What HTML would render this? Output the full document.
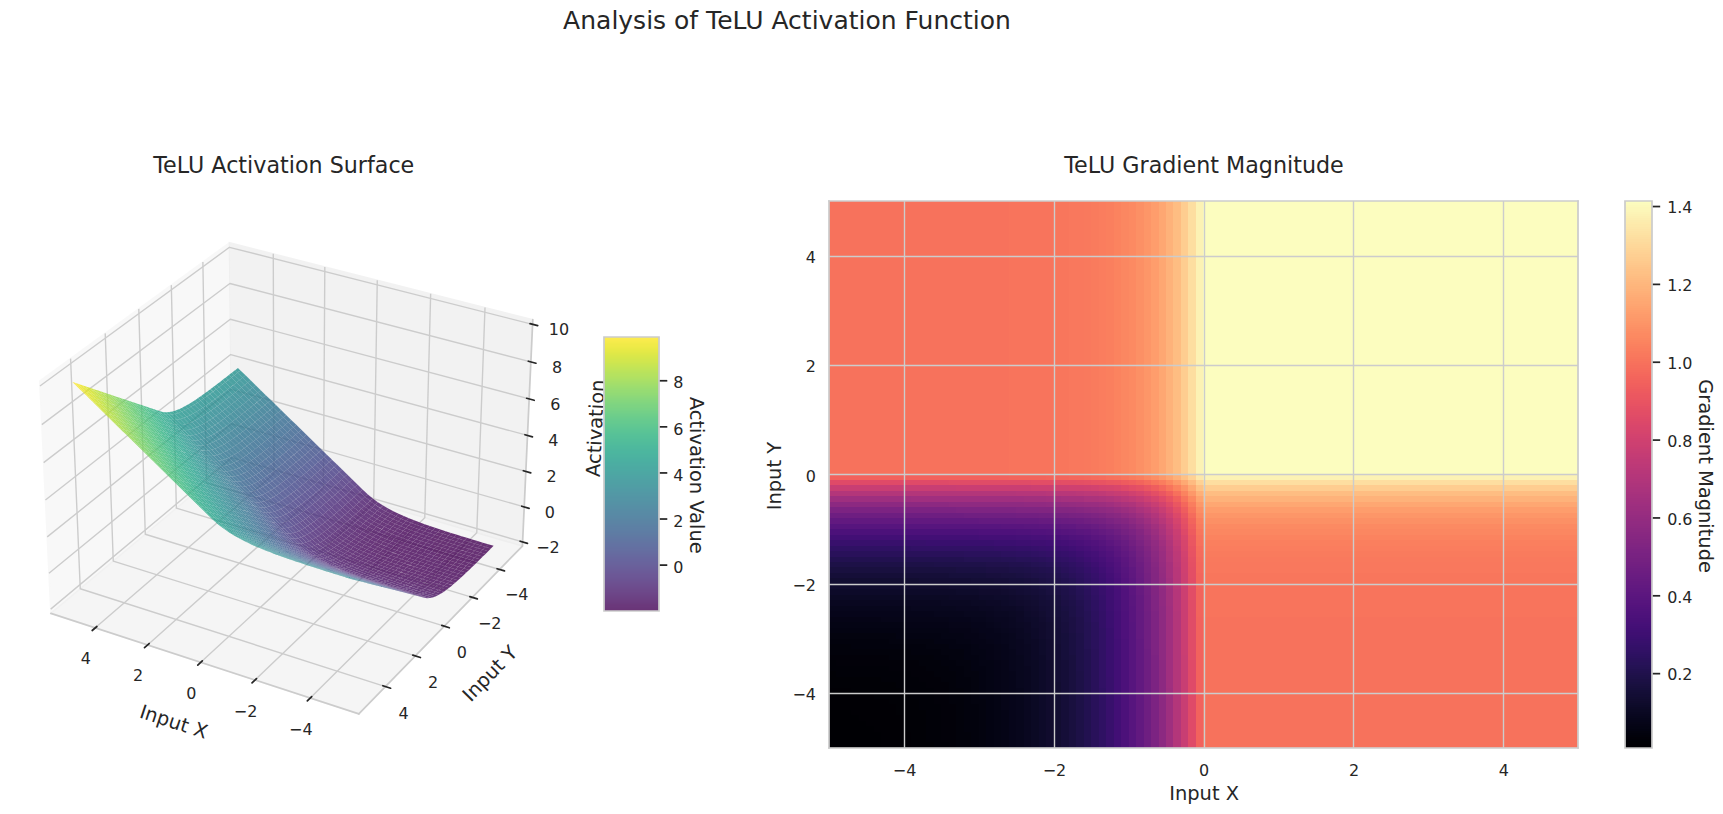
<!DOCTYPE html>
<html lang="en"><head><meta charset="utf-8"><title>Analysis of TeLU Activation Function</title>
<style>
html,body{margin:0;padding:0;background:#fff}
body{width:1723px;height:814px;overflow:hidden}
svg{display:block}
svg text{font-family:"DejaVu Sans","Liberation Sans",sans-serif}
</style></head><body>
<svg width="1723" height="814" viewBox="0 0 1240.56 586.08">
<defs>
<style type="text/css">*{stroke-linejoin: round; stroke-linecap: butt}</style>
</defs>
<g id="figure_1">
<g id="patch_1">
<path d="M 0 586.08 L 1240.56 586.08 L 1240.56 0 L 0 0 z
" style="fill: #ffffff"/>
</g>
<g id="patch_2">
<path d="M 6.84 538.92 L 401.544 538.92 L 401.544 144.216 L 6.84 144.216 z
" style="fill: #ffffff"/>
</g>
<g id="pane3d_1">
<g id="patch_3">
<path d="M 166.987 332.341 L 36.642 441.598 L 28.593 274.444 L 165.175 174.773 
" style="fill: #f2f2f2; opacity: 0.5; stroke: #f2f2f2; stroke-linejoin: miter"/>
</g>
</g>
<g id="pane3d_2">
<g id="patch_4">
<path d="M 376.142 393.134 L 166.987 332.341 L 165.175 174.773 L 383.606 230.139 
" style="fill: #e6e6e6; opacity: 0.5; stroke: #e6e6e6; stroke-linejoin: miter"/>
</g>
</g>
<g id="pane3d_3">
<g id="patch_5">
<path d="M 376.142 393.134 L 166.987 332.341 L 36.642 441.598 L 258.358 514.010 
" style="fill: #ececec; opacity: 0.5; stroke: #ececec; stroke-linejoin: miter"/>
</g>
</g>
<g id="grid3d_1">
<g id="Line3DCollection_1">
<path d="M 223.373 502.584 L 343.262 383.577 L 349.206 221.420 
" style="fill: none; stroke: #cccccc"/>
<path d="M 183.609 489.598 L 305.834 372.699 L 310.077 211.502 
" style="fill: none; stroke: #cccccc"/>
<path d="M 144.578 476.850 L 269.038 362.003 L 271.637 201.758 
" style="fill: none; stroke: #cccccc"/>
<path d="M 106.258 464.335 L 232.857 351.487 L 233.867 192.184 
" style="fill: none; stroke: #cccccc"/>
<path d="M 68.630 452.045 L 197.277 341.145 L 196.751 182.777 
" style="fill: none; stroke: #cccccc"/>
</g>
</g>
<g id="grid3d_2">
<g id="Line3DCollection_2">
<path d="M 146.073 188.712 L 148.698 347.671 L 359.679 410.030 
" style="fill: none; stroke: #cccccc"/>
<path d="M 123.351 205.294 L 126.967 365.886 L 340.090 430.133 
" style="fill: none; stroke: #cccccc"/>
<path d="M 99.922 222.391 L 104.590 384.643 L 319.888 450.865 
" style="fill: none; stroke: #cccccc"/>
<path d="M 75.754 240.028 L 81.538 403.966 L 299.045 472.255 
" style="fill: none; stroke: #cccccc"/>
<path d="M 50.811 258.230 L 57.779 423.881 L 277.528 494.337 
" style="fill: none; stroke: #cccccc"/>
</g>
</g>
<g id="grid3d_3">
<g id="Line3DCollection_3">
<path d="M 376.278 390.180 L 166.954 329.479 L 36.497 438.574 
" style="fill: none; stroke: #cccccc"/>
<path d="M 377.432 364.977 L 166.673 305.074 L 35.254 412.763 
" style="fill: none; stroke: #cccccc"/>
<path d="M 378.602 339.423 L 166.389 280.345 L 33.993 386.579 
" style="fill: none; stroke: #cccccc"/>
<path d="M 379.789 313.510 L 166.100 255.285 L 32.714 360.013 
" style="fill: none; stroke: #cccccc"/>
<path d="M 380.992 287.231 L 165.808 229.888 L 31.415 333.057 
" style="fill: none; stroke: #cccccc"/>
<path d="M 382.213 260.577 L 165.512 204.147 L 30.098 305.702 
" style="fill: none; stroke: #cccccc"/>
<path d="M 383.451 233.542 L 165.212 178.056 L 28.761 277.940 
" style="fill: none; stroke: #cccccc"/>
</g>
</g>
<g id="axis3d_1">
<g id="line2d_1">
<path d="M 36.642 441.598 L 258.358 514.010 
" style="fill: none; stroke: #cccccc; stroke-width: 1.25; stroke-linecap: round"/>
</g>
<g id="xtick_1">
<g id="line2d_2">
<path d="M 209.525 336.234 
" clip-path="url(#p4d084fb998)" style="fill: none; stroke: #cccccc; stroke-linecap: round"/>
</g>
<g id="line2d_3">
<path d="M 224.420 501.544 L 221.273 504.669 
" style="fill: none; stroke: #262626; stroke-width: 1.25; stroke-linecap: round"/>
</g>
<g id="text_1" transform="translate(.65 1.87)">
<text style="font-size: 11.5px; text-anchor: middle; fill: #262626" x="215.987" y="527.446">−4</text>
</g>
</g>
<g id="xtick_2">
<g id="line2d_4">
<path d="M 209.525 336.234 
" clip-path="url(#p4d084fb998)" style="fill: none; stroke: #cccccc; stroke-linecap: round"/>
</g>
<g id="line2d_5">
<path d="M 184.676 488.577 L 181.470 491.643 
" style="fill: none; stroke: #262626; stroke-width: 1.25; stroke-linecap: round"/>
</g>
<g id="text_2" transform="translate(.65 1.87)">
<text style="font-size: 11.5px; text-anchor: middle; fill: #262626" x="176.189" y="514.272">−2</text>
</g>
</g>
<g id="xtick_3">
<g id="line2d_6">
<path d="M 209.525 336.234 
" clip-path="url(#p4d084fb998)" style="fill: none; stroke: #cccccc; stroke-linecap: round"/>
</g>
<g id="line2d_7">
<path d="M 145.663 475.848 L 142.401 478.858 
" style="fill: none; stroke: #262626; stroke-width: 1.25; stroke-linecap: round"/>
</g>
<g id="text_3" transform="translate(.65 1.87)">
<text style="font-size: 11.5px; text-anchor: middle; fill: #262626" x="137.126" y="501.341">0</text>
</g>
</g>
<g id="xtick_4">
<g id="line2d_8">
<path d="M 209.525 336.234 
" clip-path="url(#p4d084fb998)" style="fill: none; stroke: #cccccc; stroke-linecap: round"/>
</g>
<g id="line2d_9">
<path d="M 107.361 463.351 L 104.046 466.306 
" style="fill: none; stroke: #262626; stroke-width: 1.25; stroke-linecap: round"/>
</g>
<g id="text_4" transform="translate(.65 1.87)">
<text style="font-size: 11.5px; text-anchor: middle; fill: #262626" x="98.777" y="488.646">2</text>
</g>
</g>
<g id="xtick_5">
<g id="line2d_10">
<path d="M 209.525 336.234 
" clip-path="url(#p4d084fb998)" style="fill: none; stroke: #cccccc; stroke-linecap: round"/>
</g>
<g id="line2d_11">
<path d="M 69.751 451.079 L 66.384 453.982 
" style="fill: none; stroke: #262626; stroke-width: 1.25; stroke-linecap: round"/>
</g>
<g id="text_5" transform="translate(.65 1.87)">
<text style="font-size: 11.5px; text-anchor: middle; fill: #262626" x="61.123" y="476.182">4</text>
</g>
</g>
<g id="text_6" transform="translate(.36 0)">
<text style="font-size: 14px; text-anchor: middle; fill: #262626" x="123.204" y="524.200" transform="rotate(-341.912 123.204 524.200)">Input X</text>
</g>
</g>
<g id="axis3d_2">
<g id="line2d_12">
<path d="M 376.142 393.134 L 258.358 514.010 
" style="fill: none; stroke: #cccccc; stroke-width: 1.25; stroke-linecap: round"/>
</g>
<g id="xtick_6">
<g id="line2d_13">
<path d="M 209.525 336.234 
" clip-path="url(#p4d084fb998)" style="fill: none; stroke: #cccccc; stroke-linecap: round"/>
</g>
<g id="line2d_14">
<path d="M 357.907 409.506 L 363.227 411.079 
" style="fill: none; stroke: #262626; stroke-width: 1.25; stroke-linecap: round"/>
</g>
<g id="text_7" transform="translate(.29 1.44)">
<text style="font-size: 11.5px; text-anchor: middle; fill: #262626" x="371.713" y="430.857">−4</text>
</g>
</g>
<g id="xtick_7">
<g id="line2d_15">
<path d="M 209.525 336.234 
" clip-path="url(#p4d084fb998)" style="fill: none; stroke: #cccccc; stroke-linecap: round"/>
</g>
<g id="line2d_16">
<path d="M 338.299 429.593 L 343.676 431.214 
" style="fill: none; stroke: #262626; stroke-width: 1.25; stroke-linecap: round"/>
</g>
<g id="text_8" transform="translate(.29 1.44)">
<text style="font-size: 11.5px; text-anchor: middle; fill: #262626" x="352.302" y="451.160">−2</text>
</g>
</g>
<g id="xtick_8">
<g id="line2d_17">
<path d="M 209.525 336.234 
" clip-path="url(#p4d084fb998)" style="fill: none; stroke: #cccccc; stroke-linecap: round"/>
</g>
<g id="line2d_18">
<path d="M 318.078 450.308 L 323.514 451.980 
" style="fill: none; stroke: #262626; stroke-width: 1.25; stroke-linecap: round"/>
</g>
<g id="text_9" transform="translate(.29 1.44)">
<text style="font-size: 11.5px; text-anchor: middle; fill: #262626" x="332.283" y="472.098">0</text>
</g>
</g>
<g id="xtick_9">
<g id="line2d_19">
<path d="M 209.525 336.234 
" clip-path="url(#p4d084fb998)" style="fill: none; stroke: #cccccc; stroke-linecap: round"/>
</g>
<g id="line2d_20">
<path d="M 297.214 471.681 L 302.711 473.406 
" style="fill: none; stroke: #262626; stroke-width: 1.25; stroke-linecap: round"/>
</g>
<g id="text_10" transform="translate(.29 1.44)">
<text style="font-size: 11.5px; text-anchor: middle; fill: #262626" x="311.629" y="493.701">2</text>
</g>
</g>
<g id="xtick_10">
<g id="line2d_21">
<path d="M 209.525 336.234 
" clip-path="url(#p4d084fb998)" style="fill: none; stroke: #cccccc; stroke-linecap: round"/>
</g>
<g id="line2d_22">
<path d="M 275.677 493.743 L 281.235 495.525 
" style="fill: none; stroke: #262626; stroke-width: 1.25; stroke-linecap: round"/>
</g>
<g id="text_11" transform="translate(.29 1.44)">
<text style="font-size: 11.5px; text-anchor: middle; fill: #262626" x="290.307" y="516.003">4</text>
</g>
</g>
<g id="text_12">
<text style="font-size: 14px; text-anchor: middle; fill: #262626" x="356.090" y="488.289" transform="rotate(-45.742 356.090 488.289)">Input Y</text>
</g>
</g>
<g id="axis3d_3">
<g id="line2d_23">
<path d="M 376.142 393.134 L 383.606 230.139 
" style="fill: none; stroke: #cccccc; stroke-width: 1.25; stroke-linecap: round"/>
</g>
<g id="xtick_11">
<g id="line2d_24">
<path d="M 209.525 336.234 
" style="fill: none; stroke: #cccccc; stroke-linecap: round"/>
</g>
<g id="line2d_25">
<path d="M 374.521 389.671 L 379.796 391.200 
" style="fill: none; stroke: #262626; stroke-width: 1.25; stroke-linecap: round"/>
</g>
<g id="text_13" transform="translate(0 1.94)">
<text style="font-size: 11.5px; text-anchor: middle; fill: #262626" x="394.559" y="395.935">−2</text>
</g>
</g>
<g id="xtick_12">
<g id="line2d_26">
<path d="M 209.525 336.234 
" style="fill: none; stroke: #cccccc; stroke-linecap: round"/>
</g>
<g id="line2d_27">
<path d="M 375.662 364.474 L 380.975 365.984 
" style="fill: none; stroke: #262626; stroke-width: 1.25; stroke-linecap: round"/>
</g>
<g id="text_14" transform="translate(0 1.94)">
<text style="font-size: 11.5px; text-anchor: middle; fill: #262626" x="395.837" y="370.765">0</text>
</g>
</g>
<g id="xtick_13">
<g id="line2d_28">
<path d="M 209.525 336.234 
" style="fill: none; stroke: #cccccc; stroke-linecap: round"/>
</g>
<g id="line2d_29">
<path d="M 376.820 338.927 L 382.171 340.417 
" style="fill: none; stroke: #262626; stroke-width: 1.25; stroke-linecap: round"/>
</g>
<g id="text_15" transform="translate(0 1.94)">
<text style="font-size: 11.5px; text-anchor: middle; fill: #262626" x="397.133" y="345.246">2</text>
</g>
</g>
<g id="xtick_14">
<g id="line2d_30">
<path d="M 209.525 336.234 
" style="fill: none; stroke: #cccccc; stroke-linecap: round"/>
</g>
<g id="line2d_31">
<path d="M 377.993 313.021 L 383.384 314.490 
" style="fill: none; stroke: #262626; stroke-width: 1.25; stroke-linecap: round"/>
</g>
<g id="text_16" transform="translate(0 1.94)">
<text style="font-size: 11.5px; text-anchor: middle; fill: #262626" x="398.446" y="319.369">4</text>
</g>
</g>
<g id="xtick_15">
<g id="line2d_32">
<path d="M 209.525 336.234 
" style="fill: none; stroke: #cccccc; stroke-linecap: round"/>
</g>
<g id="line2d_33">
<path d="M 379.184 286.749 L 384.613 288.196 
" style="fill: none; stroke: #262626; stroke-width: 1.25; stroke-linecap: round"/>
</g>
<g id="text_17" transform="translate(0 1.94)">
<text style="font-size: 11.5px; text-anchor: middle; fill: #262626" x="399.779" y="293.126">6</text>
</g>
</g>
<g id="xtick_16">
<g id="line2d_34">
<path d="M 209.525 336.234 
" style="fill: none; stroke: #cccccc; stroke-linecap: round"/>
</g>
<g id="line2d_35">
<path d="M 380.391 260.103 L 385.861 261.527 
" style="fill: none; stroke: #262626; stroke-width: 1.25; stroke-linecap: round"/>
</g>
<g id="text_18" transform="translate(0 1.94)">
<text style="font-size: 11.5px; text-anchor: middle; fill: #262626" x="401.130" y="266.511">8</text>
</g>
</g>
<g id="xtick_17">
<g id="line2d_36">
<path d="M 209.525 336.234 
" style="fill: none; stroke: #cccccc; stroke-linecap: round"/>
</g>
<g id="line2d_37">
<path d="M 381.615 233.075 L 387.126 234.476 
" style="fill: none; stroke: #262626; stroke-width: 1.25; stroke-linecap: round"/>
</g>
<g id="text_19" transform="translate(0 1.94)">
<text style="font-size: 11.5px; text-anchor: middle; fill: #262626" x="402.501" y="239.516">10</text>
</g>
</g>
<g id="text_20" transform="translate(-.29 1.66)">
<text style="font-size: 14px; text-anchor: middle; fill: #262626" x="433.772" y="306.884" transform="rotate(-87.378 433.772 306.884)">Activation</text>
</g>
</g>
<g id="axes_1">
<g id="surface" fill-opacity="0.8" clip-path="url(#p4d084fb998)">
<path fill="#21908d" d="M173.13 266.7l-1.82-1.78l-1.09 .85l-1.08 .85l1.82 1.78l1.09-.85z"/>
<path fill="#228d8d" d="M176.78 270.25l-3.65-3.55l-2.17 1.7l3.66 3.57z"/>
<path fill="#23898e" d="M180.43 273.81l-3.65-3.56l-2.16 1.72l3.65 3.56z"/>
<path fill="#25858e" d="M184.08 277.37l-3.65-3.56l-2.16 1.72l3.66 3.57z"/>
<path fill="#26818e" d="M187.73 280.94l-3.65-3.57l-2.15 1.73l3.65 3.56z"/>
<path fill="#287d8e" d="M191.38 284.5l-3.65-3.56l-2.15 1.72l3.66 3.57z"/>
<path fill="#2a788e" d="M195.04 288.06l-3.66-3.56l-2.14 1.73l3.66 3.57z"/>
<path fill="#2b748e" d="M198.69 291.63l-3.65-3.57l-2.14 1.74l3.66 3.57z"/>
<path fill="#2d718e" d="M202.35 295.2l-3.66-3.57l-2.13 1.74l3.67 3.58z"/>
<path fill="#21918c" d="M170.96 268.4l-1.82-1.78l-1.09 .85l-1.09 .86l1.83 1.78l1.09-.85z"/>
<path fill="#2f6c8e" d="M206.01 298.76l-3.66-3.56l-2.12 1.75l3.66 3.57z"/>
<path fill="#228d8d" d="M174.62 271.97l-3.66-3.57l-2.17 1.71l3.66 3.57z"/>
<path fill="#31688e" d="M209.67 302.33l-3.66-3.57l-2.12 1.76l3.66 3.58z"/>
<path fill="#23898e" d="M178.27 275.53l-3.65-3.56l-2.17 1.71l3.66 3.57z"/>
<path fill="#32648e" d="M213.33 305.9l-3.66-3.57l-2.12 1.77l3.67 3.57z"/>
<path fill="#25858e" d="M181.93 279.1l-3.66-3.57l-2.16 1.72l3.66 3.57z"/>
<path fill="#355f8d" d="M216.99 309.48l-3.66-3.58l-2.11 1.77l3.67 3.58z"/>
<path fill="#26818e" d="M185.58 282.66l-3.65-3.56l-2.16 1.72l3.66 3.58z"/>
<path fill="#375b8d" d="M220.66 313.05l-3.67-3.57l-2.1 1.77l3.67 3.58z"/>
<path fill="#287d8e" d="M189.24 286.23l-3.66-3.57l-2.15 1.74l3.66 3.57z"/>
<path fill="#39568c" d="M224.32 316.62l-3.66-3.57l-2.1 1.78l3.67 3.58z"/>
<path fill="#29798e" d="M192.9 289.8l-3.66-3.57l-2.15 1.74l3.67 3.58z"/>
<path fill="#3b518b" d="M227.99 320.2l-3.67-3.58l-2.09 1.79l3.67 3.58z"/>
<path fill="#2b748e" d="M196.56 293.37l-3.66-3.57l-2.14 1.75l3.67 3.57z"/>
<path fill="#3d4d8a" d="M231.66 323.78l-3.67-3.58l-2.09 1.79l3.67 3.58z"/>
<path fill="#2d718e" d="M200.23 296.95l-3.67-3.58l-2.13 1.75l3.66 3.58z"/>
<path fill="#3f4889" d="M235.32 327.35l-3.66-3.57l-2.09 1.79l3.67 3.59z"/>
<path fill="#21918c" d="M168.79 270.11l-1.83-1.78l-1.09 .85l-1.09 .85l1.83 1.79l1.09-.86z"/>
<path fill="#2f6c8e" d="M203.89 300.52l-3.66-3.57l-2.14 1.75l3.67 3.58z"/>
<path fill="#228d8d" d="M172.45 273.68l-3.66-3.57l-2.18 1.71l3.66 3.57z"/>
<path fill="#414287" d="M238.99 330.93l-3.67-3.58l-2.08 1.81l3.68 3.58z"/>
<path fill="#31688e" d="M207.55 304.1l-3.66-3.58l-2.13 1.76l3.67 3.58z"/>
<path fill="#23898e" d="M176.11 277.25l-3.66-3.57l-2.18 1.71l3.67 3.58z"/>
<path fill="#433e85" d="M242.67 334.51l-3.68-3.58l-2.07 1.81l3.68 3.59z"/>
<path fill="#32648e" d="M211.22 307.67l-3.67-3.57l-2.12 1.76l3.67 3.58z"/>
<path fill="#25858e" d="M179.77 280.82l-3.66-3.57l-2.17 1.72l3.66 3.58z"/>
<path fill="#443983" d="M246.34 338.1l-3.67-3.59l-2.07 1.82l3.67 3.59z"/>
<path fill="#355f8d" d="M214.89 311.25l-3.67-3.58l-2.12 1.77l3.68 3.59z"/>
<path fill="#26818e" d="M183.43 284.4l-3.66-3.58l-2.17 1.73l3.67 3.58z"/>
<path fill="#46337f" d="M250.01 341.68l-3.67-3.58l-2.07 1.82l3.68 3.58z"/>
<path fill="#375b8d" d="M218.56 314.83l-3.67-3.58l-2.11 1.78l3.67 3.58z"/>
<path fill="#287d8e" d="M187.09 287.97l-3.66-3.57l-2.16 1.73l3.67 3.58z"/>
<path fill="#472e7c" d="M253.69 345.26l-3.68-3.58l-2.06 1.82l3.68 3.6z"/>
<path fill="#39568c" d="M222.23 318.41l-3.67-3.58l-2.11 1.78l3.67 3.59z"/>
<path fill="#29798e" d="M190.76 291.55l-3.67-3.58l-2.15 1.74l3.67 3.58z"/>
<path fill="#482878" d="M257.36 348.85l-3.67-3.59l-2.06 1.84l3.68 3.59z"/>
<path fill="#3b518b" d="M225.9 321.99l-3.67-3.58l-2.11 1.79l3.68 3.58z"/>
<path fill="#2b748e" d="M194.43 295.12l-3.67-3.57l-2.15 1.74l3.67 3.58z"/>
<path fill="#482374" d="M261.04 352.44l-3.68-3.59l-2.05 1.84l3.69 3.59z"/>
<path fill="#3d4d8a" d="M229.57 325.57l-3.67-3.58l-2.1 1.79l3.68 3.59z"/>
<path fill="#2d718e" d="M198.09 298.7l-3.66-3.58l-2.15 1.75l3.67 3.58z"/>
<path fill="#481d6f" d="M264.72 355.89l-3.68-3.45l-2.04 1.84l3.68 3.46z"/>
<path fill="#3f4889" d="M233.24 329.16l-3.67-3.59l-2.09 1.8l3.68 3.59z"/>
<path fill="#21918c" d="M166.61 271.82l-1.83-1.79l-1.1 .85l-1.09 .86l1.83 1.78l1.1-.85z"/>
<path fill="#2e6d8e" d="M201.76 302.28l-3.67-3.58l-2.14 1.75l3.68 3.59z"/>
<path fill="#228d8d" d="M170.27 275.39l-3.66-3.57l-2.19 1.7l3.67 3.59z"/>
<path fill="#414287" d="M236.92 332.74l-3.68-3.58l-2.08 1.8l3.68 3.59z"/>
<path fill="#48186a" d="M268.41 358.92l-3.69-3.03l-2.04 1.85l3.7 3.04z"/>
<path fill="#31688e" d="M205.43 305.86l-3.67-3.58l-2.13 1.76l3.67 3.59z"/>
<path fill="#23898e" d="M173.94 278.97l-3.67-3.58l-2.18 1.72l3.67 3.58z"/>
<path fill="#433e85" d="M240.6 336.33l-3.68-3.59l-2.08 1.81l3.68 3.59z"/>
<path fill="#32648e" d="M209.1 309.44l-3.67-3.58l-2.13 1.77l3.68 3.58z"/>
<path fill="#25858e" d="M177.6 282.55l-3.66-3.58l-2.18 1.72l3.67 3.58z"/>
<path fill="#443983" d="M244.27 339.92l-3.67-3.59l-2.08 1.81l3.68 3.6z"/>
<path fill="#481467" d="M272.11 361.6l-3.7-2.68l-2.03 1.86l3.7 2.68z"/>
<path fill="#355f8d" d="M212.78 313.03l-3.68-3.59l-2.12 1.77l3.68 3.59z"/>
<path fill="#26818e" d="M181.27 286.13l-3.67-3.58l-2.17 1.72l3.68 3.59z"/>
<path fill="#46337f" d="M247.95 343.5l-3.68-3.58l-2.07 1.82l3.69 3.59z"/>
<path fill="#375b8d" d="M216.45 316.61l-3.67-3.58l-2.12 1.77l3.68 3.59z"/>
<path fill="#287d8e" d="M184.94 289.71l-3.67-3.58l-2.16 1.73l3.67 3.58z"/>
<path fill="#472e7c" d="M251.63 347.1l-3.68-3.6l-2.06 1.83l3.68 3.6z"/>
<path fill="#39568c" d="M220.12 320.2l-3.67-3.59l-2.11 1.78l3.68 3.59z"/>
<path fill="#471164" d="M275.82 363.99l-3.71-2.39l-2.03 1.86l3.71 2.39z"/>
<path fill="#29798e" d="M188.61 293.29l-3.67-3.58l-2.16 1.73l3.67 3.59z"/>
<path fill="#482979" d="M255.31 350.69l-3.68-3.59l-2.06 1.83l3.69 3.6z"/>
<path fill="#3b518b" d="M223.8 323.78l-3.68-3.58l-2.1 1.78l3.68 3.6z"/>
<path fill="#2b748e" d="M192.28 296.87l-3.67-3.58l-2.16 1.74l3.68 3.59z"/>
<path fill="#482374" d="M259 354.28l-3.69-3.59l-2.05 1.84l3.69 3.59z"/>
<path fill="#3d4d8a" d="M227.48 327.37l-3.68-3.59l-2.1 1.8l3.68 3.59z"/>
<path fill="#2d718e" d="M195.95 300.45l-3.67-3.58l-2.15 1.75l3.68 3.59z"/>
<path fill="#481d6f" d="M262.68 357.74l-3.68-3.46l-2.05 1.84l3.69 3.47z"/>
<path fill="#3f4889" d="M231.16 330.96l-3.68-3.59l-2.1 1.8l3.68 3.6z"/>
<path fill="#21918c" d="M164.42 273.52l-1.83-1.78l-1.1 .85l-1.1 .85l1.84 1.79l1.1-.85z"/>
<path fill="#2e6d8e" d="M199.63 304.04l-3.68-3.59l-2.14 1.76l3.68 3.59z"/>
<path fill="#470e61" d="M279.53 366.14l-3.71-2.15l-2.03 1.86l3.72 2.16z"/>
<path fill="#228d8d" d="M168.09 277.11l-3.67-3.59l-2.19 1.71l3.67 3.59z"/>
<path fill="#414287" d="M234.84 334.55l-3.68-3.59l-2.1 1.81l3.69 3.59z"/>
<path fill="#48186a" d="M266.38 360.78l-3.7-3.04l-2.04 1.85l3.7 3.04z"/>
<path fill="#31688e" d="M203.3 307.63l-3.67-3.59l-2.14 1.76l3.68 3.59z"/>
<path fill="#23898e" d="M171.76 280.69l-3.67-3.58l-2.19 1.71l3.68 3.58z"/>
<path fill="#433e85" d="M238.52 338.14l-3.68-3.59l-2.09 1.81l3.69 3.6z"/>
<path fill="#32648e" d="M206.98 311.21l-3.68-3.58l-2.13 1.76l3.68 3.59z"/>
<path fill="#25858e" d="M175.43 284.27l-3.67-3.58l-2.18 1.71l3.67 3.59z"/>
<path fill="#443983" d="M242.2 341.74l-3.68-3.6l-2.08 1.82l3.68 3.6z"/>
<path fill="#481467" d="M270.08 363.46l-3.7-2.68l-2.04 1.85l3.71 2.69z"/>
<path fill="#34608d" d="M210.66 314.8l-3.68-3.59l-2.13 1.77l3.68 3.6z"/>
<path fill="#460b5e" d="M283.26 368.1l-3.73-1.96l-2.02 1.87l3.73 1.96z"/>
<path fill="#26818e" d="M179.11 287.86l-3.68-3.59l-2.18 1.72l3.68 3.59z"/>
<path fill="#46337f" d="M245.89 345.33l-3.69-3.59l-2.08 1.82l3.69 3.6z"/>
<path fill="#375b8d" d="M214.34 318.39l-3.68-3.59l-2.13 1.78l3.69 3.59z"/>
<path fill="#287d8e" d="M182.78 291.44l-3.67-3.58l-2.18 1.72l3.68 3.59z"/>
<path fill="#472e7c" d="M249.57 348.93l-3.68-3.6l-2.08 1.83l3.69 3.6z"/>
<path fill="#39568c" d="M218.02 321.98l-3.68-3.59l-2.12 1.78l3.68 3.6z"/>
<path fill="#471164" d="M273.79 365.85l-3.71-2.39l-2.03 1.86l3.71 2.39z"/>
<path fill="#29798e" d="M186.45 295.03l-3.67-3.59l-2.17 1.73l3.68 3.6z"/>
<path fill="#482979" d="M253.26 352.53l-3.69-3.6l-2.07 1.83l3.7 3.6z"/>
<path fill="#3b518b" d="M221.7 325.58l-3.68-3.6l-2.12 1.79l3.69 3.6z"/>
<path fill="#2b748e" d="M190.13 298.62l-3.68-3.59l-2.16 1.74l3.68 3.59z"/>
<path fill="#482374" d="M256.95 356.12l-3.69-3.59l-2.06 1.83l3.69 3.61z"/>
<path fill="#3d4d8a" d="M225.38 329.17l-3.68-3.59l-2.11 1.79l3.69 3.6z"/>
<path fill="#46085c" d="M286.99 369.9l-3.73-1.8l-2.02 1.87l3.73 1.8z"/>
<path fill="#2d718e" d="M193.81 302.21l-3.68-3.59l-2.16 1.74l3.69 3.6z"/>
<path fill="#481d6f" d="M260.64 359.59l-3.69-3.47l-2.06 1.85l3.7 3.47z"/>
<path fill="#3f4889" d="M229.06 332.77l-3.68-3.6l-2.1 1.8l3.69 3.6z"/>
<path fill="#21918c" d="M162.23 275.23l-1.84-1.79l-1.1 .85l-1.1 .84l1.84 1.8l1.1-.85z"/>
<path fill="#470e61" d="M277.51 368.01l-3.72-2.16l-2.03 1.86l3.72 2.16z"/>
<path fill="#2e6d8e" d="M197.49 305.8l-3.68-3.59l-2.15 1.75l3.68 3.59z"/>
<path fill="#414287" d="M232.75 336.36l-3.69-3.59l-2.09 1.8l3.69 3.6z"/>
<path fill="#218e8d" d="M165.9 278.82l-3.67-3.59l-2.2 1.7l3.68 3.59z"/>
<path fill="#48186a" d="M264.34 362.63l-3.7-3.04l-2.05 1.85l3.7 3.05z"/>
<path fill="#31688e" d="M201.17 309.39l-3.68-3.59l-2.15 1.75l3.69 3.6z"/>
<path fill="#433e85" d="M236.44 339.96l-3.69-3.6l-2.09 1.81l3.69 3.6z"/>
<path fill="#23898e" d="M169.58 282.4l-3.68-3.58l-2.19 1.7l3.68 3.59z"/>
<path fill="#32648e" d="M204.85 312.98l-3.68-3.59l-2.14 1.76l3.68 3.6z"/>
<path fill="#46075a" d="M290.73 371.57l-3.74-1.67l-2.02 1.87l3.75 1.68z"/>
<path fill="#443983" d="M240.12 343.56l-3.68-3.6l-2.09 1.81l3.69 3.61z"/>
<path fill="#25858e" d="M173.25 285.99l-3.67-3.59l-2.19 1.71l3.68 3.6z"/>
<path fill="#481467" d="M268.05 365.32l-3.71-2.69l-2.05 1.86l3.71 2.69z"/>
<path fill="#34608d" d="M208.53 316.58l-3.68-3.6l-2.14 1.77l3.69 3.6z"/>
<path fill="#460b5e" d="M281.24 369.97l-3.73-1.96l-2.03 1.86l3.74 1.97z"/>
<path fill="#46337f" d="M243.81 347.16l-3.69-3.6l-2.08 1.82l3.7 3.61z"/>
<path fill="#26818e" d="M176.93 289.58l-3.68-3.59l-2.18 1.72l3.68 3.59z"/>
<path fill="#375b8d" d="M212.22 320.17l-3.69-3.59l-2.13 1.77l3.69 3.6z"/>
<path fill="#472e7c" d="M247.5 350.76l-3.69-3.6l-2.07 1.83l3.69 3.6z"/>
<path fill="#287d8e" d="M180.61 293.17l-3.68-3.59l-2.18 1.72l3.69 3.6z"/>
<path fill="#39568c" d="M215.9 323.77l-3.68-3.6l-2.13 1.78l3.69 3.6z"/>
<path fill="#471164" d="M271.76 367.71l-3.71-2.39l-2.05 1.86l3.72 2.4z"/>
<path fill="#482979" d="M251.2 354.36l-3.7-3.6l-2.07 1.83l3.7 3.61z"/>
<path fill="#29798e" d="M184.29 296.77l-3.68-3.6l-2.17 1.73l3.68 3.6z"/>
<path fill="#3b528b" d="M219.59 327.37l-3.69-3.6l-2.12 1.78l3.69 3.61z"/>
<path fill="#450559" d="M294.47 373.14l-3.74-1.57l-2.01 1.88l3.75 1.58z"/>
<path fill="#482374" d="M254.89 357.97l-3.69-3.61l-2.07 1.84l3.7 3.61z"/>
<path fill="#2b748e" d="M187.97 300.36l-3.68-3.59l-2.17 1.73l3.69 3.6z"/>
<path fill="#3d4d8a" d="M223.28 330.97l-3.69-3.6l-2.12 1.79l3.69 3.6z"/>
<path fill="#46085c" d="M284.97 371.77l-3.73-1.8l-2.02 1.87l3.74 1.81z"/>
<path fill="#2d718e" d="M191.66 303.96l-3.69-3.6l-2.16 1.74l3.69 3.6z"/>
<path fill="#481d6f" d="M258.59 361.44l-3.7-3.47l-2.06 1.84l3.7 3.48z"/>
<path fill="#3f4889" d="M226.97 334.57l-3.69-3.6l-2.12 1.79l3.7 3.61z"/>
<path fill="#21918c" d="M160.03 276.93l-1.84-1.8l-1.1 .85l-1.11 .84l1.84 1.8l1.11-.84z"/>
<path fill="#470e61" d="M275.48 369.87l-3.72-2.16l-2.04 1.87l3.73 2.16z"/>
<path fill="#2e6d8e" d="M195.34 307.55l-3.68-3.59l-2.16 1.74l3.69 3.6z"/>
<path fill="#414287" d="M230.66 338.17l-3.69-3.6l-2.11 1.8l3.7 3.61z"/>
<path fill="#218e8d" d="M163.71 280.52l-3.68-3.59l-2.21 1.69l3.69 3.6z"/>
<path fill="#48186a" d="M262.29 364.49l-3.7-3.05l-2.06 1.85l3.71 3.05z"/>
<path fill="#31688e" d="M199.03 311.15l-3.69-3.6l-2.15 1.75l3.69 3.61z"/>
<path fill="#433e85" d="M234.35 341.77l-3.69-3.6l-2.1 1.81l3.69 3.61z"/>
<path fill="#23898e" d="M167.39 284.11l-3.68-3.59l-2.2 1.7l3.68 3.6z"/>
<path fill="#32648e" d="M202.71 314.75l-3.68-3.6l-2.15 1.76l3.69 3.6z"/>
<path fill="#450559" d="M298.23 374.63l-3.76-1.49l-2 1.89l3.76 1.49z"/>
<path fill="#46075a" d="M288.72 373.45l-3.75-1.68l-2.01 1.88l3.74 1.68z"/>
<path fill="#443983" d="M238.04 345.38l-3.69-3.61l-2.1 1.82l3.7 3.61z"/>
<path fill="#25858e" d="M171.07 287.71l-3.68-3.6l-2.2 1.71l3.69 3.6z"/>
<path fill="#481467" d="M266 367.18l-3.71-2.69l-2.05 1.85l3.71 2.7z"/>
<path fill="#34608d" d="M206.4 318.35l-3.69-3.6l-2.14 1.76l3.69 3.61z"/>
<path fill="#460b5e" d="M279.22 371.84l-3.74-1.97l-2.03 1.87l3.74 1.97z"/>
<path fill="#46337f" d="M241.74 348.99l-3.7-3.61l-2.09 1.82l3.7 3.61z"/>
<path fill="#26828e" d="M174.75 291.3l-3.68-3.59l-2.19 1.71l3.69 3.6z"/>
<path fill="#375b8d" d="M210.09 321.95l-3.69-3.6l-2.14 1.77l3.7 3.6z"/>
<path fill="#472e7c" d="M245.43 352.59l-3.69-3.6l-2.09 1.82l3.7 3.61z"/>
<path fill="#287d8e" d="M178.44 294.9l-3.69-3.6l-2.18 1.72l3.69 3.6z"/>
<path fill="#39568c" d="M213.78 325.55l-3.69-3.6l-2.13 1.77l3.69 3.61z"/>
<path fill="#471164" d="M269.72 369.58l-3.72-2.4l-2.05 1.86l3.73 2.4z"/>
<path fill="#482979" d="M249.13 356.2l-3.7-3.61l-2.08 1.83l3.7 3.62z"/>
<path fill="#29798e" d="M182.12 298.5l-3.68-3.6l-2.18 1.72l3.69 3.61z"/>
<path fill="#3b528b" d="M217.47 329.16l-3.69-3.61l-2.13 1.78l3.7 3.61z"/>
<path fill="#450559" d="M292.47 375.03l-3.75-1.58l-2.02 1.88l3.76 1.58z"/>
<path fill="#482374" d="M252.83 359.81l-3.7-3.61l-2.08 1.84l3.71 3.61z"/>
<path fill="#450457" d="M301.99 376.05l-3.76-1.42l-2 1.89l3.76 1.42z"/>
<path fill="#2b758e" d="M185.81 302.1l-3.69-3.6l-2.17 1.73l3.69 3.6z"/>
<path fill="#460a5d" d="M282.96 373.65l-3.74-1.81l-2.03 1.87l3.74 1.82z"/>
<path fill="#3d4d8a" d="M221.16 332.76l-3.69-3.6l-2.12 1.78l3.7 3.61z"/>
<path fill="#2d718e" d="M189.5 305.7l-3.69-3.6l-2.17 1.73l3.69 3.61z"/>
<path fill="#481d6f" d="M256.53 363.29l-3.7-3.48l-2.07 1.84l3.71 3.48z"/>
<path fill="#3f4889" d="M224.86 336.37l-3.7-3.61l-2.11 1.79l3.7 3.62z"/>
<path fill="#21918c" d="M157.82 278.62l-1.84-1.8l-1.11 .84l-1.11 .84l1.85 1.8l1.11-.84z"/>
<path fill="#470e61" d="M273.45 371.74l-3.73-2.16l-2.04 1.86l3.73 2.17z"/>
<path fill="#2e6d8e" d="M193.19 309.3l-3.69-3.6l-2.17 1.74l3.7 3.61z"/>
<path fill="#414487" d="M228.56 339.98l-3.7-3.61l-2.11 1.8l3.7 3.61z"/>
<path fill="#218e8d" d="M161.51 282.22l-3.69-3.6l-2.21 1.68l3.69 3.61z"/>
<path fill="#48186a" d="M260.24 366.34l-3.71-3.05l-2.06 1.84l3.71 3.06z"/>
<path fill="#31688e" d="M196.88 312.91l-3.69-3.61l-2.16 1.75l3.69 3.61z"/>
<path fill="#433e85" d="M232.25 343.59l-3.69-3.61l-2.11 1.8l3.7 3.62z"/>
<path fill="#23898e" d="M165.19 285.82l-3.68-3.6l-2.21 1.69l3.69 3.6z"/>
<path fill="#32648e" d="M200.57 316.51l-3.69-3.6l-2.16 1.75l3.7 3.61z"/>
<path fill="#450559" d="M296.23 376.52l-3.76-1.49l-2.01 1.88l3.76 1.49z"/>
<path fill="#46075a" d="M286.7 375.33l-3.74-1.68l-2.03 1.88l3.75 1.68z"/>
<path fill="#450457" d="M305.76 377.41l-3.77-1.36l-2 1.89l3.77 1.36z"/>
<path fill="#443983" d="M235.95 347.2l-3.7-3.61l-2.1 1.81l3.7 3.61z"/>
<path fill="#25858e" d="M168.88 289.42l-3.69-3.6l-2.2 1.69l3.69 3.61z"/>
<path fill="#481467" d="M263.95 369.04l-3.71-2.7l-2.06 1.85l3.72 2.7z"/>
<path fill="#34608d" d="M204.26 320.12l-3.69-3.61l-2.15 1.76l3.7 3.61z"/>
<path fill="#460b5e" d="M277.19 373.71l-3.74-1.97l-2.04 1.87l3.74 1.98z"/>
<path fill="#46337f" d="M239.65 350.81l-3.7-3.61l-2.1 1.81l3.71 3.62z"/>
<path fill="#26828e" d="M172.57 293.02l-3.69-3.6l-2.2 1.7l3.69 3.61z"/>
<path fill="#375b8d" d="M207.96 323.72l-3.7-3.6l-2.14 1.76l3.7 3.61z"/>
<path fill="#472e7c" d="M243.35 354.42l-3.7-3.61l-2.09 1.82l3.71 3.62z"/>
<path fill="#287d8e" d="M176.26 296.62l-3.69-3.6l-2.2 1.71l3.7 3.6z"/>
<path fill="#39568c" d="M211.65 327.33l-3.69-3.61l-2.14 1.77l3.7 3.62z"/>
<path fill="#471164" d="M267.68 371.44l-3.73-2.4l-2.05 1.85l3.73 2.41z"/>
<path fill="#482979" d="M247.05 358.04l-3.7-3.62l-2.08 1.83l3.7 3.62z"/>
<path fill="#29798e" d="M179.95 300.23l-3.69-3.61l-2.19 1.71l3.69 3.61z"/>
<path fill="#3b528b" d="M215.35 330.94l-3.7-3.61l-2.13 1.78l3.7 3.61z"/>
<path fill="#46075a" d="M290.46 376.91l-3.76-1.58l-2.02 1.88l3.76 1.59z"/>
<path fill="#450457" d="M299.99 377.94l-3.76-1.42l-2.01 1.88l3.77 1.43z"/>
<path fill="#482374" d="M250.76 361.65l-3.71-3.61l-2.08 1.83l3.71 3.62z"/>
<path fill="#2b758e" d="M183.64 303.83l-3.69-3.6l-2.19 1.71l3.7 3.62z"/>
<path fill="#440256" d="M309.53 378.72l-3.77-1.31l-2 1.89l3.79 1.32z"/>
<path fill="#460a5d" d="M280.93 375.53l-3.74-1.82l-2.04 1.88l3.75 1.81z"/>
<path fill="#3d4d8a" d="M219.05 334.55l-3.7-3.61l-2.13 1.78l3.7 3.62z"/>
<path fill="#2d718e" d="M187.33 307.44l-3.69-3.61l-2.18 1.73l3.7 3.61z"/>
<path fill="#481d6f" d="M254.47 365.13l-3.71-3.48l-2.08 1.84l3.72 3.49z"/>
<path fill="#3f4889" d="M222.75 338.17l-3.7-3.62l-2.13 1.79l3.71 3.62z"/>
<path fill="#21918c" d="M155.61 280.3l-1.85-1.8l-1.11 .84l-1.11 .83l1.85 1.8l1.11-.83z"/>
<path fill="#470e61" d="M271.41 373.61l-3.73-2.17l-2.05 1.86l3.74 2.18z"/>
<path fill="#2e6d8e" d="M191.03 311.05l-3.7-3.61l-2.17 1.73l3.7 3.61z"/>
<path fill="#414487" d="M226.45 341.78l-3.7-3.61l-2.12 1.79l3.71 3.62z"/>
<path fill="#48186a" d="M258.18 368.19l-3.71-3.06l-2.07 1.85l3.71 3.06z"/>
<path fill="#218e8d" d="M159.3 283.91l-3.69-3.61l-2.22 1.67l3.69 3.61z"/>
<path fill="#30698e" d="M194.72 314.66l-3.69-3.61l-2.17 1.73l3.7 3.62z"/>
<path fill="#433e85" d="M230.15 345.4l-3.7-3.62l-2.11 1.8l3.7 3.62z"/>
<path fill="#238a8d" d="M162.99 287.51l-3.69-3.6l-2.22 1.67l3.7 3.61z"/>
<path fill="#32648e" d="M198.42 318.27l-3.7-3.61l-2.16 1.74l3.7 3.61z"/>
<path fill="#450559" d="M294.22 378.4l-3.76-1.49l-2.02 1.89l3.77 1.49z"/>
<path fill="#46075a" d="M284.68 377.21l-3.75-1.68l-2.03 1.87l3.76 1.69z"/>
<path fill="#450457" d="M303.76 379.3l-3.77-1.36l-2 1.89l3.78 1.37z"/>
<path fill="#443983" d="M233.85 349.01l-3.7-3.61l-2.11 1.8l3.71 3.62z"/>
<path fill="#25858e" d="M166.68 291.12l-3.69-3.61l-2.21 1.68l3.7 3.62z"/>
<path fill="#481467" d="M261.9 370.89l-3.72-2.7l-2.07 1.85l3.73 2.71z"/>
<path fill="#440256" d="M313.32 380l-3.79-1.28l-1.98 1.9l3.78 1.28z"/>
<path fill="#34608d" d="M202.12 321.88l-3.7-3.61l-2.16 1.74l3.71 3.62z"/>
<path fill="#460b5e" d="M275.15 375.59l-3.74-1.98l-2.04 1.87l3.74 1.98z"/>
<path fill="#463480" d="M237.56 352.63l-3.71-3.62l-2.1 1.81l3.71 3.62z"/>
<path fill="#26828e" d="M170.37 294.73l-3.69-3.61l-2.2 1.69l3.69 3.61z"/>
<path fill="#365c8d" d="M205.82 325.49l-3.7-3.61l-2.15 1.75l3.7 3.62z"/>
<path fill="#472e7c" d="M241.27 356.25l-3.71-3.62l-2.1 1.81l3.71 3.63z"/>
<path fill="#287d8e" d="M174.07 298.33l-3.7-3.6l-2.2 1.69l3.7 3.61z"/>
<path fill="#39568c" d="M209.52 329.11l-3.7-3.62l-2.15 1.76l3.71 3.62z"/>
<path fill="#471164" d="M265.63 373.3l-3.73-2.41l-2.06 1.86l3.73 2.41z"/>
<path fill="#482979" d="M244.97 359.87l-3.7-3.62l-2.1 1.82l3.72 3.63z"/>
<path fill="#29798e" d="M177.76 301.94l-3.69-3.61l-2.2 1.7l3.7 3.62z"/>
<path fill="#3b528b" d="M213.22 332.72l-3.7-3.61l-2.14 1.76l3.71 3.62z"/>
<path fill="#46075a" d="M288.44 378.8l-3.76-1.59l-2.02 1.88l3.76 1.59z"/>
<path fill="#450457" d="M297.99 379.83l-3.77-1.43l-2.01 1.89l3.77 1.43z"/>
<path fill="#482475" d="M248.68 363.49l-3.71-3.62l-2.08 1.83l3.71 3.62z"/>
<path fill="#2b758e" d="M181.46 305.56l-3.7-3.62l-2.19 1.71l3.71 3.62z"/>
<path fill="#440256" d="M307.55 380.62l-3.79-1.32l-1.99 1.9l3.78 1.32z"/>
<path fill="#460a5d" d="M278.9 377.4l-3.75-1.81l-2.04 1.87l3.75 1.82z"/>
<path fill="#3d4d8a" d="M216.92 336.34l-3.7-3.62l-2.13 1.77l3.7 3.63z"/>
<path fill="#481d6f" d="M252.4 366.98l-3.72-3.49l-2.08 1.83l3.72 3.49z"/>
<path fill="#2d718e" d="M185.16 309.17l-3.7-3.61l-2.18 1.71l3.7 3.62z"/>
<path fill="#440256" d="M317.11 381.25l-3.79-1.25l-1.99 1.9l3.8 1.26z"/>
<path fill="#3f4889" d="M220.63 339.96l-3.71-3.62l-2.13 1.78l3.71 3.62z"/>
<path fill="#470e61" d="M269.37 375.48l-3.74-2.18l-2.06 1.86l3.75 2.18z"/>
<path fill="#21918c" d="M153.39 281.97l-1.85-1.8l-1.11 .83l-1.12 .82l1.85 1.81l1.12-.83z"/>
<path fill="#2e6d8e" d="M188.86 312.78l-3.7-3.61l-2.18 1.72l3.71 3.62z"/>
<path fill="#414487" d="M224.34 343.58l-3.71-3.62l-2.13 1.78l3.72 3.63z"/>
<path fill="#481a6c" d="M256.11 370.04l-3.71-3.06l-2.08 1.83l3.72 3.07z"/>
<path fill="#218e8d" d="M157.08 285.58l-3.69-3.61l-2.23 1.66l3.7 3.61z"/>
<path fill="#30698e" d="M192.56 316.4l-3.7-3.62l-2.17 1.73l3.7 3.62z"/>
<path fill="#433e85" d="M228.04 347.2l-3.7-3.62l-2.12 1.79l3.71 3.62z"/>
<path fill="#238a8d" d="M160.78 289.19l-3.7-3.61l-2.22 1.66l3.7 3.62z"/>
<path fill="#450559" d="M292.21 380.29l-3.77-1.49l-2.02 1.88l3.77 1.5z"/>
<path fill="#32648e" d="M196.26 320.01l-3.7-3.61l-2.17 1.73l3.71 3.62z"/>
<path fill="#46085c" d="M282.66 379.09l-3.76-1.69l-2.04 1.88l3.76 1.69z"/>
<path fill="#450457" d="M301.77 381.2l-3.78-1.37l-2.01 1.89l3.78 1.37z"/>
<path fill="#443983" d="M231.75 350.82l-3.71-3.62l-2.11 1.79l3.71 3.63z"/>
<path fill="#25858e" d="M164.48 292.81l-3.7-3.62l-2.22 1.67l3.7 3.62z"/>
<path fill="#481467" d="M259.84 372.75l-3.73-2.71l-2.07 1.84l3.73 2.71z"/>
<path fill="#440256" d="M311.33 381.9l-3.78-1.28l-2 1.9l3.79 1.29z"/>
<path fill="#34608d" d="M199.97 323.63l-3.71-3.62l-2.16 1.74l3.71 3.62z"/>
<path fill="#460b5e" d="M273.11 377.46l-3.74-1.98l-2.05 1.86l3.74 1.98z"/>
<path fill="#463480" d="M235.46 354.44l-3.71-3.62l-2.11 1.8l3.72 3.63z"/>
<path fill="#26828e" d="M168.17 296.42l-3.69-3.61l-2.22 1.67l3.71 3.62z"/>
<path fill="#440154" d="M320.91 382.48l-3.8-1.23l-1.98 1.91l3.8 1.22z"/>
<path fill="#365c8d" d="M203.67 327.25l-3.7-3.62l-2.16 1.74l3.71 3.63z"/>
<path fill="#472e7c" d="M239.17 358.07l-3.71-3.63l-2.1 1.81l3.72 3.63z"/>
<path fill="#277e8e" d="M171.87 300.03l-3.7-3.61l-2.2 1.68l3.7 3.62z"/>
<path fill="#39568c" d="M207.38 330.87l-3.71-3.62l-2.15 1.75l3.71 3.62z"/>
<path fill="#471164" d="M263.57 375.16l-3.73-2.41l-2.07 1.84l3.74 2.42z"/>
<path fill="#482979" d="M242.89 361.7l-3.72-3.63l-2.09 1.81l3.71 3.63z"/>
<path fill="#29798e" d="M175.57 303.65l-3.7-3.62l-2.2 1.69l3.71 3.62z"/>
<path fill="#3b528b" d="M211.09 334.49l-3.71-3.62l-2.15 1.75l3.71 3.63z"/>
<path fill="#46075a" d="M286.42 380.68l-3.76-1.59l-2.04 1.88l3.77 1.59z"/>
<path fill="#450457" d="M295.98 381.72l-3.77-1.43l-2.02 1.89l3.78 1.43z"/>
<path fill="#482475" d="M246.6 365.32l-3.71-3.62l-2.1 1.81l3.72 3.64z"/>
<path fill="#2b758e" d="M179.28 307.27l-3.71-3.62l-2.19 1.69l3.71 3.62z"/>
<path fill="#440256" d="M305.55 382.52l-3.78-1.32l-2.01 1.89l3.79 1.33z"/>
<path fill="#460a5d" d="M276.86 379.28l-3.75-1.82l-2.05 1.86l3.76 1.83z"/>
<path fill="#3d4e8a" d="M214.79 338.12l-3.7-3.63l-2.15 1.76l3.72 3.63z"/>
<path fill="#440256" d="M315.13 383.16l-3.8-1.26l-1.99 1.91l3.8 1.25z"/>
<path fill="#481d6f" d="M250.32 368.81l-3.72-3.49l-2.09 1.83l3.73 3.49z"/>
<path fill="#2c718e" d="M182.98 310.89l-3.7-3.62l-2.19 1.69l3.71 3.63z"/>
<path fill="#3f4889" d="M218.5 341.74l-3.71-3.62l-2.13 1.76l3.71 3.63z"/>
<path fill="#470e61" d="M267.32 377.34l-3.75-2.18l-2.06 1.85l3.75 2.19z"/>
<path fill="#440154" d="M324.71 383.68l-3.8-1.2l-1.98 1.9l3.81 1.21z"/>
<path fill="#20928c" d="M151.16 283.63l-1.85-1.81l-1.12 .82l-1.12 .81l1.85 1.81l1.12-.81z"/>
<path fill="#2e6d8e" d="M186.69 314.51l-3.71-3.62l-2.18 1.7l3.71 3.62z"/>
<path fill="#414487" d="M222.22 345.37l-3.72-3.63l-2.13 1.77l3.72 3.63z"/>
<path fill="#481a6c" d="M254.04 371.88l-3.72-3.07l-2.08 1.83l3.73 3.08z"/>
<path fill="#218e8d" d="M154.86 287.24l-3.7-3.61l-2.24 1.63l3.71 3.62z"/>
<path fill="#30698e" d="M190.39 318.13l-3.7-3.62l-2.18 1.7l3.71 3.63z"/>
<path fill="#423f85" d="M225.93 348.99l-3.71-3.62l-2.13 1.77l3.72 3.63z"/>
<path fill="#238a8d" d="M158.56 290.86l-3.7-3.62l-2.23 1.64l3.71 3.62z"/>
<path fill="#450559" d="M290.19 382.18l-3.77-1.5l-2.03 1.88l3.78 1.51z"/>
<path fill="#32658e" d="M194.1 321.75l-3.71-3.62l-2.17 1.71l3.71 3.63z"/>
<path fill="#46085c" d="M280.62 380.97l-3.76-1.69l-2.04 1.87l3.77 1.7z"/>
<path fill="#450457" d="M299.76 383.09l-3.78-1.37l-2.01 1.89l3.78 1.38z"/>
<path fill="#443983" d="M229.64 352.62l-3.71-3.63l-2.12 1.78l3.72 3.64z"/>
<path fill="#481668" d="M257.77 374.59l-3.73-2.71l-2.07 1.84l3.73 2.71z"/>
<path fill="#24868e" d="M162.26 294.48l-3.7-3.62l-2.22 1.64l3.7 3.63z"/>
<path fill="#440256" d="M309.34 383.81l-3.79-1.29l-2 1.9l3.8 1.29z"/>
<path fill="#34608d" d="M197.81 325.37l-3.71-3.62l-2.17 1.72l3.71 3.63z"/>
<path fill="#460b5e" d="M271.06 379.32l-3.74-1.98l-2.06 1.86l3.75 1.98z"/>
<path fill="#463480" d="M233.36 356.25l-3.72-3.63l-2.11 1.79l3.72 3.63z"/>
<path fill="#440154" d="M318.93 384.38l-3.8-1.22l-1.99 1.9l3.81 1.23z"/>
<path fill="#26828e" d="M165.97 298.1l-3.71-3.62l-2.22 1.65l3.71 3.62z"/>
<path fill="#365c8d" d="M201.52 329l-3.71-3.63l-2.17 1.73l3.72 3.63z"/>
<path fill="#472e7c" d="M237.08 359.88l-3.72-3.63l-2.11 1.79l3.72 3.64z"/>
<path fill="#440154" d="M328.52 384.87l-3.81-1.19l-1.97 1.91l3.81 1.2z"/>
<path fill="#277e8e" d="M169.67 301.72l-3.7-3.62l-2.22 1.65l3.71 3.63z"/>
<path fill="#39568c" d="M205.23 332.62l-3.71-3.62l-2.16 1.73l3.72 3.63z"/>
<path fill="#471164" d="M261.51 377.01l-3.74-2.42l-2.07 1.84l3.74 2.43z"/>
<path fill="#482979" d="M240.79 363.51l-3.71-3.63l-2.11 1.8l3.73 3.64z"/>
<path fill="#297a8e" d="M173.38 305.34l-3.71-3.62l-2.21 1.66l3.72 3.63z"/>
<path fill="#3b528b" d="M208.94 336.25l-3.71-3.63l-2.15 1.74l3.72 3.63z"/>
<path fill="#46075a" d="M284.39 382.56l-3.77-1.59l-2.03 1.88l3.77 1.59z"/>
<path fill="#450457" d="M293.97 383.61l-3.78-1.43l-2.02 1.89l3.78 1.43z"/>
<path fill="#482475" d="M244.51 367.15l-3.72-3.64l-2.09 1.81l3.72 3.64z"/>
<path fill="#440256" d="M303.55 384.42l-3.79-1.33l-2.01 1.9l3.8 1.33z"/>
<path fill="#2b758e" d="M177.09 308.96l-3.71-3.62l-2.2 1.67l3.71 3.63z"/>
<path fill="#460a5d" d="M274.82 381.15l-3.76-1.83l-2.05 1.86l3.76 1.83z"/>
<path fill="#3d4e8a" d="M212.66 339.88l-3.72-3.63l-2.14 1.74l3.72 3.64z"/>
<path fill="#440256" d="M313.14 385.06l-3.8-1.25l-1.99 1.9l3.8 1.26z"/>
<path fill="#481f70" d="M248.24 370.64l-3.73-3.49l-2.09 1.81l3.73 3.5z"/>
<path fill="#2c718e" d="M180.8 312.59l-3.71-3.63l-2.2 1.68l3.71 3.63z"/>
<path fill="#3f4889" d="M216.37 343.51l-3.71-3.63l-2.14 1.75l3.72 3.63z"/>
<path fill="#440154" d="M322.74 385.59l-3.81-1.21l-1.98 1.91l3.81 1.22z"/>
<path fill="#470e61" d="M265.26 379.2l-3.75-2.19l-2.07 1.85l3.76 2.18z"/>
<path fill="#20928c" d="M148.92 285.26l-1.85-1.81l-1.12 .81l-1.12 .79l1.85 1.82l1.12-.8z"/>
<path fill="#2e6d8e" d="M184.51 316.21l-3.71-3.62l-2.2 1.68l3.72 3.63z"/>
<path fill="#414487" d="M220.09 347.14l-3.72-3.63l-2.13 1.75l3.72 3.64z"/>
<path fill="#481a6c" d="M251.97 373.72l-3.73-3.08l-2.09 1.82l3.73 3.08z"/>
<path fill="#440154" d="M332.34 386.05l-3.82-1.18l-1.97 1.92l3.83 1.18z"/>
<path fill="#218f8d" d="M152.63 288.88l-3.71-3.62l-2.24 1.61l3.71 3.62z"/>
<path fill="#30698e" d="M188.22 319.84l-3.71-3.63l-2.19 1.69l3.72 3.63z"/>
<path fill="#423f85" d="M223.81 350.77l-3.72-3.63l-2.13 1.76l3.72 3.64z"/>
<path fill="#238a8d" d="M156.34 292.5l-3.71-3.62l-2.24 1.61l3.71 3.63z"/>
<path fill="#450559" d="M288.17 384.07l-3.78-1.51l-2.03 1.88l3.78 1.51z"/>
<path fill="#450457" d="M297.75 384.99l-3.78-1.38l-2.02 1.89l3.79 1.38z"/>
<path fill="#46085c" d="M278.59 382.85l-3.77-1.7l-2.05 1.86l3.77 1.71z"/>
<path fill="#32658e" d="M191.93 323.47l-3.71-3.63l-2.18 1.69l3.71 3.63z"/>
<path fill="#443983" d="M227.53 354.41l-3.72-3.64l-2.13 1.77l3.73 3.64z"/>
<path fill="#481668" d="M255.7 376.43l-3.73-2.71l-2.09 1.82l3.74 2.72z"/>
<path fill="#440256" d="M307.35 385.71l-3.8-1.29l-2 1.9l3.8 1.29z"/>
<path fill="#24868e" d="M160.04 296.13l-3.7-3.63l-2.24 1.62l3.72 3.63z"/>
<path fill="#34608d" d="M195.64 327.1l-3.71-3.63l-2.18 1.69l3.72 3.64z"/>
<path fill="#460b5e" d="M269.01 381.18l-3.75-1.98l-2.06 1.84l3.75 2z"/>
<path fill="#463480" d="M231.25 358.04l-3.72-3.63l-2.12 1.77l3.72 3.64z"/>
<path fill="#440154" d="M316.95 386.29l-3.81-1.23l-1.99 1.91l3.81 1.23z"/>
<path fill="#26828e" d="M163.75 299.75l-3.71-3.62l-2.22 1.62l3.71 3.63z"/>
<path fill="#365c8d" d="M199.36 330.73l-3.72-3.63l-2.17 1.7l3.72 3.64z"/>
<path fill="#440154" d="M326.55 386.79l-3.81-1.2l-1.98 1.92l3.82 1.19z"/>
<path fill="#472f7d" d="M234.97 361.68l-3.72-3.64l-2.12 1.78l3.73 3.64z"/>
<path fill="#277e8e" d="M167.46 303.38l-3.71-3.63l-2.22 1.63l3.72 3.63z"/>
<path fill="#38588c" d="M203.08 334.36l-3.72-3.63l-2.17 1.71l3.73 3.63z"/>
<path fill="#471164" d="M259.44 378.86l-3.74-2.43l-2.08 1.83l3.75 2.43z"/>
<path fill="#482979" d="M238.7 365.32l-3.73-3.64l-2.11 1.78l3.73 3.65z"/>
<path fill="#440154" d="M336.17 387.22l-3.83-1.17l-1.96 1.92l3.83 1.17z"/>
<path fill="#297a8e" d="M171.18 307.01l-3.72-3.63l-2.21 1.63l3.71 3.64z"/>
<path fill="#3b528b" d="M206.8 337.99l-3.72-3.63l-2.16 1.71l3.72 3.64z"/>
<path fill="#46075a" d="M282.36 384.44l-3.77-1.59l-2.05 1.87l3.78 1.59z"/>
<path fill="#450457" d="M291.95 385.5l-3.78-1.43l-2.03 1.88l3.78 1.44z"/>
<path fill="#482475" d="M242.42 368.96l-3.72-3.64l-2.11 1.79l3.73 3.64z"/>
<path fill="#440256" d="M301.55 386.32l-3.8-1.33l-2.01 1.89l3.8 1.33z"/>
<path fill="#460a5d" d="M272.77 383.01l-3.76-1.83l-2.06 1.86l3.77 1.83z"/>
<path fill="#2b758e" d="M174.89 310.64l-3.71-3.63l-2.22 1.64l3.72 3.63z"/>
<path fill="#3d4e8a" d="M210.52 341.63l-3.72-3.64l-2.16 1.72l3.73 3.64z"/>
<path fill="#440256" d="M311.15 386.97l-3.8-1.26l-2 1.9l3.8 1.26z"/>
<path fill="#481f70" d="M246.15 372.46l-3.73-3.5l-2.1 1.79l3.73 3.51z"/>
<path fill="#2c718e" d="M178.6 314.27l-3.71-3.63l-2.21 1.64l3.72 3.64z"/>
<path fill="#3e4989" d="M214.24 345.26l-3.72-3.63l-2.15 1.72l3.72 3.65z"/>
<path fill="#440154" d="M320.76 387.51l-3.81-1.22l-1.99 1.91l3.82 1.22z"/>
<path fill="#470e61" d="M263.2 381.04l-3.76-2.18l-2.07 1.83l3.76 2.19z"/>
<path fill="#20928c" d="M146.68 286.87l-1.85-1.82l-1.13 .79l-1.13 .78l1.86 1.81l1.13-.78z"/>
<path fill="#2e6e8e" d="M182.32 317.9l-3.72-3.63l-2.2 1.65l3.72 3.64z"/>
<path fill="#481a6c" d="M249.88 375.54l-3.73-3.08l-2.1 1.8l3.74 3.09z"/>
<path fill="#414487" d="M217.96 348.9l-3.72-3.64l-2.15 1.74l3.73 3.64z"/>
<path fill="#440154" d="M330.38 387.97l-3.83-1.18l-1.97 1.91l3.83 1.19z"/>
<path fill="#218f8d" d="M150.39 290.49l-3.71-3.62l-2.25 1.56l3.72 3.64z"/>
<path fill="#30698e" d="M186.04 321.53l-3.72-3.63l-2.2 1.66l3.73 3.63z"/>
<path fill="#423f85" d="M221.68 352.54l-3.72-3.64l-2.14 1.74l3.73 3.64z"/>
<path fill="#440154" d="M340 388.38l-3.83-1.16l-1.96 1.92l3.83 1.17z"/>
<path fill="#450559" d="M286.14 385.95l-3.78-1.51l-2.04 1.87l3.78 1.52z"/>
<path fill="#228b8d" d="M154.1 294.12l-3.71-3.63l-2.24 1.58l3.71 3.63z"/>
<path fill="#450457" d="M295.74 386.88l-3.79-1.38l-2.03 1.89l3.8 1.38z"/>
<path fill="#46085c" d="M276.54 384.72l-3.77-1.71l-2.05 1.86l3.77 1.71z"/>
<path fill="#32658e" d="M189.75 325.16l-3.71-3.63l-2.19 1.66l3.72 3.64z"/>
<path fill="#443a83" d="M225.41 356.18l-3.73-3.64l-2.13 1.74l3.73 3.65z"/>
<path fill="#440256" d="M305.35 387.61l-3.8-1.29l-2.01 1.89l3.8 1.3z"/>
<path fill="#481668" d="M253.62 378.26l-3.74-2.72l-2.09 1.81l3.75 2.72z"/>
<path fill="#24868e" d="M157.82 297.75l-3.72-3.63l-2.24 1.58l3.72 3.64z"/>
<path fill="#460b5e" d="M266.95 383.04l-3.75-2l-2.07 1.84l3.76 2z"/>
<path fill="#34618d" d="M193.47 328.8l-3.72-3.64l-2.18 1.67l3.73 3.65z"/>
<path fill="#440154" d="M314.96 388.2l-3.81-1.23l-2 1.9l3.82 1.24z"/>
<path fill="#463480" d="M229.13 359.82l-3.72-3.64l-2.13 1.75l3.73 3.65z"/>
<path fill="#26828e" d="M161.53 301.38l-3.71-3.63l-2.24 1.59l3.72 3.63z"/>
<path fill="#365c8d" d="M197.19 332.44l-3.72-3.64l-2.17 1.68l3.72 3.64z"/>
<path fill="#440154" d="M324.58 388.7l-3.82-1.19l-1.98 1.91l3.82 1.2z"/>
<path fill="#472f7d" d="M232.86 363.46l-3.73-3.64l-2.12 1.76l3.73 3.65z"/>
<path fill="#277e8e" d="M165.25 305.01l-3.72-3.63l-2.23 1.59l3.72 3.64z"/>
<path fill="#38588c" d="M200.92 336.07l-3.73-3.63l-2.17 1.68l3.73 3.64z"/>
<path fill="#471164" d="M257.37 380.69l-3.75-2.43l-2.08 1.81l3.75 2.44z"/>
<path fill="#440154" d="M334.21 389.14l-3.83-1.17l-1.97 1.92l3.83 1.18z"/>
<path fill="#472a7a" d="M236.59 367.11l-3.73-3.65l-2.12 1.77l3.74 3.65z"/>
<path fill="#297a8e" d="M168.96 308.65l-3.71-3.64l-2.23 1.6l3.73 3.64z"/>
<path fill="#450457" d="M289.92 387.39l-3.78-1.44l-2.04 1.88l3.79 1.44z"/>
<path fill="#46075a" d="M280.32 386.31l-3.78-1.59l-2.05 1.86l3.78 1.6z"/>
<path fill="#3a538b" d="M204.64 339.71l-3.72-3.64l-2.17 1.69l3.73 3.65z"/>
<path fill="#482475" d="M240.32 370.75l-3.73-3.64l-2.11 1.77l3.73 3.65z"/>
<path fill="#440256" d="M299.54 388.21l-3.8-1.33l-2.02 1.89l3.8 1.34z"/>
<path fill="#440154" d="M343.84 389.54l-3.84-1.16l-1.96 1.93l3.85 1.16z"/>
<path fill="#460a5d" d="M270.72 384.87l-3.77-1.83l-2.06 1.84l3.77 1.84z"/>
<path fill="#2a768e" d="M172.68 312.28l-3.72-3.63l-2.21 1.6l3.72 3.64z"/>
<path fill="#3d4e8a" d="M208.37 343.35l-3.73-3.64l-2.16 1.7l3.73 3.64z"/>
<path fill="#440256" d="M309.15 388.87l-3.8-1.26l-2.01 1.9l3.81 1.27z"/>
<path fill="#481f70" d="M244.05 374.26l-3.73-3.51l-2.11 1.78l3.74 3.51z"/>
<path fill="#2c718e" d="M176.4 315.92l-3.72-3.64l-2.21 1.61l3.73 3.65z"/>
<path fill="#440154" d="M318.78 389.42l-3.82-1.22l-1.99 1.91l3.82 1.22z"/>
<path fill="#3e4989" d="M212.09 347l-3.72-3.65l-2.16 1.7l3.73 3.65z"/>
<path fill="#470e61" d="M261.13 382.88l-3.76-2.19l-2.08 1.82l3.76 2.19z"/>
<path fill="#2e6e8e" d="M180.12 319.56l-3.72-3.64l-2.2 1.62l3.72 3.64z"/>
<path fill="#20928c" d="M144.43 288.43l-1.86-1.81l-1.13 .77l-1.13 .75l1.86 1.82l1.13-.76z"/>
<path fill="#440154" d="M328.41 389.89l-3.83-1.19l-1.98 1.92l3.83 1.19z"/>
<path fill="#481a6c" d="M247.79 377.35l-3.74-3.09l-2.1 1.78l3.75 3.09z"/>
<path fill="#404588" d="M215.82 350.64l-3.73-3.64l-2.15 1.7l3.73 3.65z"/>
<path fill="#218f8d" d="M148.15 292.07l-3.72-3.64l-2.26 1.53l3.72 3.64z"/>
<path fill="#306a8e" d="M183.85 323.19l-3.73-3.63l-2.2 1.62l3.73 3.64z"/>
<path fill="#423f85" d="M219.55 354.28l-3.73-3.64l-2.15 1.71l3.74 3.65z"/>
<path fill="#440154" d="M338.04 390.31l-3.83-1.17l-1.97 1.93l3.84 1.17z"/>
<path fill="#450559" d="M284.1 387.83l-3.78-1.52l-2.05 1.87l3.79 1.51z"/>
<path fill="#450457" d="M293.72 388.77l-3.8-1.38l-2.03 1.88l3.8 1.38z"/>
<path fill="#46085c" d="M274.49 386.58l-3.77-1.71l-2.06 1.85l3.78 1.71z"/>
<path fill="#228b8d" d="M151.86 295.7l-3.71-3.63l-2.26 1.53l3.73 3.64z"/>
<path fill="#32658e" d="M187.57 326.83l-3.72-3.64l-2.2 1.63l3.73 3.65z"/>
<path fill="#440256" d="M303.34 389.51l-3.8-1.3l-2.02 1.9l3.81 1.3z"/>
<path fill="#443a83" d="M223.28 357.93l-3.73-3.65l-2.14 1.72l3.73 3.65z"/>
<path fill="#481668" d="M251.54 380.07l-3.75-2.72l-2.09 1.78l3.75 2.73z"/>
<path fill="#440154" d="M347.69 390.69l-3.85-1.15l-1.95 1.93l3.85 1.15z"/>
<path fill="#470d60" d="M264.89 384.88l-3.76-2l-2.08 1.82l3.77 2z"/>
<path fill="#24878e" d="M155.58 299.34l-3.72-3.64l-2.24 1.54l3.72 3.64z"/>
<path fill="#440256" d="M312.97 390.11l-3.82-1.24l-2 1.91l3.82 1.24z"/>
<path fill="#34618d" d="M191.3 330.48l-3.73-3.65l-2.19 1.64l3.73 3.65z"/>
<path fill="#453581" d="M227.01 361.58l-3.73-3.65l-2.14 1.72l3.74 3.66z"/>
<path fill="#26828e" d="M159.3 302.97l-3.72-3.63l-2.24 1.54l3.73 3.64z"/>
<path fill="#440154" d="M322.6 390.62l-3.82-1.2l-1.99 1.91l3.83 1.21z"/>
<path fill="#365d8d" d="M195.02 334.12l-3.72-3.64l-2.19 1.64l3.73 3.65z"/>
<path fill="#472f7d" d="M230.74 365.23l-3.73-3.65l-2.13 1.73l3.74 3.65z"/>
<path fill="#277f8e" d="M163.02 306.61l-3.72-3.64l-2.23 1.55l3.72 3.65z"/>
<path fill="#440154" d="M332.24 391.07l-3.83-1.18l-1.98 1.92l3.84 1.18z"/>
<path fill="#471365" d="M255.29 382.51l-3.75-2.44l-2.09 1.79l3.75 2.44z"/>
<path fill="#38588c" d="M198.75 337.76l-3.73-3.64l-2.18 1.65l3.74 3.65z"/>
<path fill="#472a7a" d="M234.48 368.88l-3.74-3.65l-2.12 1.73l3.74 3.66z"/>
<path fill="#450559" d="M287.89 389.27l-3.79-1.44l-2.04 1.86l3.79 1.45z"/>
<path fill="#46075a" d="M278.27 388.18l-3.78-1.6l-2.05 1.85l3.78 1.6z"/>
<path fill="#297b8e" d="M166.75 310.25l-3.73-3.64l-2.23 1.56l3.73 3.64z"/>
<path fill="#3a538b" d="M202.48 341.41l-3.73-3.65l-2.17 1.66l3.73 3.65z"/>
<path fill="#440154" d="M341.89 391.47l-3.85-1.16l-1.96 1.93l3.85 1.16z"/>
<path fill="#450457" d="M297.52 390.11l-3.8-1.34l-2.03 1.88l3.81 1.34z"/>
<path fill="#482475" d="M238.21 372.53l-3.73-3.65l-2.12 1.74l3.74 3.65z"/>
<path fill="#460a5d" d="M268.66 386.72l-3.77-1.84l-2.07 1.82l3.77 1.84z"/>
<path fill="#440256" d="M307.15 390.78l-3.81-1.27l-2.01 1.9l3.81 1.27z"/>
<path fill="#2a768e" d="M170.47 313.89l-3.72-3.64l-2.23 1.56l3.73 3.65z"/>
<path fill="#3c4f8a" d="M206.21 345.05l-3.73-3.64l-2.17 1.66l3.74 3.65z"/>
<path fill="#440154" d="M351.54 391.84l-3.85-1.15l-1.95 1.93l3.86 1.16z"/>
<path fill="#481f70" d="M241.95 376.04l-3.74-3.51l-2.11 1.74l3.74 3.53z"/>
<path fill="#440154" d="M316.79 391.33l-3.82-1.22l-2 1.91l3.82 1.22z"/>
<path fill="#2c728e" d="M174.2 317.54l-3.73-3.65l-2.22 1.57l3.73 3.65z"/>
<path fill="#3e4989" d="M209.94 348.7l-3.73-3.65l-2.16 1.67l3.73 3.65z"/>
<path fill="#471063" d="M259.05 384.7l-3.76-2.19l-2.09 1.79l3.77 2.2z"/>
<path fill="#440154" d="M326.43 391.81l-3.83-1.19l-1.98 1.92l3.83 1.19z"/>
<path fill="#2e6e8e" d="M177.92 321.18l-3.72-3.64l-2.22 1.57l3.73 3.65z"/>
<path fill="#481a6c" d="M245.7 379.13l-3.75-3.09l-2.11 1.76l3.75 3.09z"/>
<path fill="#20928c" d="M142.17 289.96l-1.86-1.82l-1.13 .74l-1.14 .73l1.87 1.82l1.13-.73z"/>
<path fill="#404588" d="M213.67 352.35l-3.73-3.65l-2.16 1.67l3.74 3.66z"/>
<path fill="#21908d" d="M145.89 293.6l-3.72-3.64l-2.26 1.47l3.72 3.65z"/>
<path fill="#440154" d="M336.08 392.24l-3.84-1.17l-1.97 1.92l3.85 1.17z"/>
<path fill="#306a8e" d="M181.65 324.82l-3.73-3.64l-2.21 1.58l3.74 3.65z"/>
<path fill="#450559" d="M282.06 389.69l-3.79-1.51l-2.05 1.85l3.79 1.52z"/>
<path fill="#424086" d="M217.41 356l-3.74-3.65l-2.15 1.68l3.74 3.66z"/>
<path fill="#450457" d="M291.69 390.65l-3.8-1.38l-2.04 1.87l3.81 1.39z"/>
<path fill="#46085c" d="M272.44 388.43l-3.78-1.71l-2.07 1.82l3.78 1.72z"/>
<path fill="#228b8d" d="M149.62 297.24l-3.73-3.64l-2.26 1.48l3.73 3.64z"/>
<path fill="#440256" d="M301.33 391.41l-3.81-1.3l-2.02 1.88l3.81 1.31z"/>
<path fill="#31668e" d="M185.38 328.47l-3.73-3.65l-2.2 1.59l3.73 3.65z"/>
<path fill="#440154" d="M345.74 392.62l-3.85-1.15l-1.96 1.93l3.86 1.16z"/>
<path fill="#443a83" d="M221.14 359.65l-3.73-3.65l-2.15 1.69l3.74 3.65z"/>
<path fill="#481668" d="M249.45 381.86l-3.75-2.73l-2.11 1.76l3.76 2.74z"/>
<path fill="#470d60" d="M262.82 386.7l-3.77-2l-2.08 1.8l3.77 2.01z"/>
<path fill="#440256" d="M310.97 392.02l-3.82-1.24l-2.01 1.9l3.82 1.24z"/>
<path fill="#24878e" d="M153.34 300.88l-3.72-3.64l-2.26 1.48l3.73 3.65z"/>
<path fill="#34618d" d="M189.11 332.12l-3.73-3.65l-2.2 1.59l3.74 3.66z"/>
<path fill="#453581" d="M224.88 363.31l-3.74-3.66l-2.14 1.69l3.75 3.66z"/>
<path fill="#440154" d="M355.4 392.99l-3.86-1.15l-1.94 1.94l3.86 1.15z"/>
<path fill="#440154" d="M320.62 392.54l-3.83-1.21l-2 1.91l3.84 1.21z"/>
<path fill="#25838e" d="M157.07 304.52l-3.73-3.64l-2.25 1.49l3.73 3.65z"/>
<path fill="#365d8d" d="M192.84 335.77l-3.73-3.65l-2.19 1.6l3.74 3.65z"/>
<path fill="#46307e" d="M228.62 366.96l-3.74-3.65l-2.13 1.69l3.74 3.66z"/>
<path fill="#440154" d="M330.27 392.99l-3.84-1.18l-1.98 1.92l3.85 1.18z"/>
<path fill="#471365" d="M253.2 384.3l-3.75-2.44l-2.1 1.77l3.76 2.44z"/>
<path fill="#277f8e" d="M160.79 308.17l-3.72-3.65l-2.25 1.5l3.73 3.65z"/>
<path fill="#38598c" d="M196.58 339.42l-3.74-3.65l-2.18 1.6l3.73 3.66z"/>
<path fill="#472a7a" d="M232.36 370.62l-3.74-3.66l-2.13 1.7l3.75 3.67z"/>
<path fill="#450559" d="M285.85 391.14l-3.79-1.45l-2.05 1.86l3.8 1.45z"/>
<path fill="#46075a" d="M276.22 390.03l-3.78-1.6l-2.07 1.83l3.79 1.61z"/>
<path fill="#440154" d="M339.93 393.4l-3.85-1.16l-1.96 1.92l3.85 1.17z"/>
<path fill="#450457" d="M295.5 391.99l-3.81-1.34l-2.03 1.88l3.81 1.34z"/>
<path fill="#297b8e" d="M164.52 311.81l-3.73-3.64l-2.24 1.5l3.74 3.65z"/>
<path fill="#3a538b" d="M200.31 343.07l-3.73-3.65l-2.19 1.61l3.74 3.65z"/>
<path fill="#482576" d="M236.1 374.27l-3.74-3.65l-2.12 1.71l3.74 3.66z"/>
<path fill="#460b5e" d="M266.59 388.54l-3.77-1.84l-2.08 1.81l3.78 1.84z"/>
<path fill="#440256" d="M305.14 392.68l-3.81-1.27l-2.02 1.89l3.82 1.27z"/>
<path fill="#2a778e" d="M168.25 315.46l-3.73-3.65l-2.23 1.51l3.73 3.65z"/>
<path fill="#440154" d="M349.6 393.78l-3.86-1.16l-1.95 1.94l3.86 1.15z"/>
<path fill="#3c4f8a" d="M204.05 346.72l-3.74-3.65l-2.18 1.61l3.75 3.66z"/>
<path fill="#482071" d="M239.84 377.8l-3.74-3.53l-2.12 1.72l3.75 3.53z"/>
<path fill="#440154" d="M314.79 393.24l-3.82-1.22l-2.01 1.9l3.83 1.23z"/>
<path fill="#2c728e" d="M171.98 319.11l-3.73-3.65l-2.23 1.51l3.74 3.66z"/>
<path fill="#471063" d="M256.97 386.5l-3.77-2.2l-2.09 1.77l3.77 2.21z"/>
<path fill="#3e4a89" d="M207.78 350.37l-3.73-3.65l-2.17 1.62l3.74 3.66z"/>
<path fill="#440154" d="M324.45 393.73l-3.83-1.19l-1.99 1.91l3.84 1.2z"/>
<path fill="#481b6d" d="M243.59 380.89l-3.75-3.09l-2.11 1.72l3.76 3.1z"/>
<path fill="#2e6f8e" d="M175.71 322.76l-3.73-3.65l-2.22 1.52l3.74 3.65z"/>
<path fill="#404588" d="M211.52 354.03l-3.74-3.66l-2.16 1.63l3.74 3.66z"/>
<path fill="#20938c" d="M139.91 291.43l-1.87-1.82l-1.13 .71l-1.14 .69l1.86 1.82l1.14-.69z"/>
<path fill="#440154" d="M334.12 394.16l-3.85-1.17l-1.97 1.92l3.84 1.18z"/>
<path fill="#46075a" d="M280.01 391.55l-3.79-1.52l-2.06 1.84l3.8 1.52z"/>
<path fill="#21908d" d="M143.63 295.08l-3.72-3.65l-2.28 1.4l3.73 3.65z"/>
<path fill="#2f6b8e" d="M179.45 326.41l-3.74-3.65l-2.21 1.52l3.74 3.66z"/>
<path fill="#450457" d="M289.66 392.53l-3.81-1.39l-2.04 1.86l3.81 1.39z"/>
<path fill="#424086" d="M215.26 357.69l-3.74-3.66l-2.16 1.63l3.75 3.67z"/>
<path fill="#46085c" d="M270.37 390.26l-3.78-1.72l-2.07 1.81l3.78 1.72z"/>
<path fill="#440256" d="M299.31 393.3l-3.81-1.31l-2.03 1.88l3.81 1.31z"/>
<path fill="#440154" d="M343.79 394.56l-3.86-1.16l-1.96 1.93l3.86 1.16z"/>
<path fill="#228c8d" d="M147.36 298.72l-3.73-3.64l-2.27 1.4l3.74 3.66z"/>
<path fill="#31668e" d="M183.18 330.06l-3.73-3.65l-2.21 1.53l3.74 3.66z"/>
<path fill="#481769" d="M247.35 383.63l-3.76-2.74l-2.1 1.73l3.76 2.74z"/>
<path fill="#443b84" d="M219 361.34l-3.74-3.65l-2.15 1.64l3.75 3.66z"/>
<path fill="#440256" d="M308.96 393.92l-3.82-1.24l-2.01 1.89l3.82 1.25z"/>
<path fill="#470d60" d="M260.74 388.51l-3.77-2.01l-2.09 1.78l3.78 2z"/>
<path fill="#440154" d="M353.46 394.93l-3.86-1.15l-1.95 1.93l3.87 1.16z"/>
<path fill="#23888e" d="M151.09 302.37l-3.73-3.65l-2.26 1.42l3.73 3.65z"/>
<path fill="#33628d" d="M186.92 333.72l-3.74-3.66l-2.2 1.54l3.74 3.66z"/>
<path fill="#453581" d="M222.75 365l-3.75-3.66l-2.14 1.65l3.74 3.67z"/>
<path fill="#440154" d="M318.63 394.45l-3.84-1.21l-2 1.91l3.84 1.21z"/>
<path fill="#25838e" d="M154.82 306.02l-3.73-3.65l-2.26 1.42l3.74 3.65z"/>
<path fill="#355e8d" d="M190.66 337.37l-3.74-3.65l-2.2 1.54l3.74 3.66z"/>
<path fill="#46307e" d="M226.49 368.66l-3.74-3.66l-2.15 1.66l3.75 3.66z"/>
<path fill="#440154" d="M328.3 394.91l-3.85-1.18l-1.98 1.92l3.84 1.18z"/>
<path fill="#471365" d="M251.11 386.07l-3.76-2.44l-2.1 1.73l3.76 2.45z"/>
<path fill="#27808e" d="M158.55 309.67l-3.73-3.65l-2.25 1.42l3.74 3.66z"/>
<path fill="#38598c" d="M194.39 341.03l-3.73-3.66l-2.2 1.55l3.75 3.66z"/>
<path fill="#472c7a" d="M230.24 372.33l-3.75-3.67l-2.14 1.66l3.75 3.67z"/>
<path fill="#450559" d="M283.81 393l-3.8-1.45l-2.05 1.84l3.8 1.45z"/>
<path fill="#46075a" d="M274.16 391.87l-3.79-1.61l-2.07 1.81l3.8 1.61z"/>
<path fill="#440154" d="M337.97 395.33l-3.85-1.17l-1.98 1.93l3.86 1.17z"/>
<path fill="#450457" d="M293.47 393.87l-3.81-1.34l-2.04 1.86l3.81 1.35z"/>
<path fill="#287c8e" d="M162.29 313.32l-3.74-3.65l-2.24 1.43l3.74 3.66z"/>
<path fill="#3a548c" d="M198.13 344.68l-3.74-3.65l-2.18 1.55l3.74 3.67z"/>
<path fill="#460b5e" d="M264.52 390.35l-3.78-1.84l-2.08 1.77l3.78 1.86z"/>
<path fill="#482576" d="M233.98 375.99l-3.74-3.66l-2.14 1.66l3.76 3.67z"/>
<path fill="#440256" d="M303.13 394.57l-3.82-1.27l-2.03 1.88l3.83 1.28z"/>
<path fill="#440154" d="M347.65 395.71l-3.86-1.15l-1.96 1.93l3.86 1.16z"/>
<path fill="#2a778e" d="M166.02 316.97l-3.73-3.65l-2.24 1.44l3.74 3.66z"/>
<path fill="#3c508b" d="M201.88 348.34l-3.75-3.66l-2.18 1.57l3.75 3.66z"/>
<path fill="#440256" d="M312.79 395.15l-3.83-1.23l-2.01 1.9l3.84 1.23z"/>
<path fill="#482071" d="M237.73 379.52l-3.75-3.53l-2.12 1.67l3.75 3.53z"/>
<path fill="#471063" d="M254.88 388.28l-3.77-2.21l-2.1 1.74l3.78 2.21z"/>
<path fill="#2c738e" d="M169.76 320.63l-3.74-3.66l-2.23 1.45l3.74 3.66z"/>
<path fill="#3e4a89" d="M205.62 352l-3.74-3.66l-2.18 1.57l3.75 3.67z"/>
<path fill="#440154" d="M322.47 395.65l-3.84-1.2l-2 1.91l3.84 1.2z"/>
<path fill="#481b6d" d="M241.49 382.62l-3.76-3.1l-2.12 1.67l3.76 3.11z"/>
<path fill="#2d708e" d="M173.5 324.28l-3.74-3.65l-2.23 1.45l3.74 3.66z"/>
<path fill="#404688" d="M209.36 355.66l-3.74-3.66l-2.17 1.58l3.75 3.67z"/>
<path fill="#440154" d="M332.14 396.09l-3.84-1.18l-1.99 1.92l3.86 1.18z"/>
<path fill="#20938c" d="M137.63 292.83l-1.86-1.82l-1.15 .66l-1.14 .65l1.87 1.83l1.14-.65z"/>
<path fill="#46075a" d="M277.96 393.39l-3.8-1.52l-2.06 1.81l3.8 1.53z"/>
<path fill="#450457" d="M287.62 394.39l-3.81-1.39l-2.05 1.84l3.81 1.4z"/>
<path fill="#460a5d" d="M268.3 392.07l-3.78-1.72l-2.08 1.79l3.79 1.72z"/>
<path fill="#2f6b8e" d="M177.24 327.94l-3.74-3.66l-2.23 1.46l3.75 3.66z"/>
<path fill="#424086" d="M213.11 359.33l-3.75-3.67l-2.16 1.59l3.75 3.66z"/>
<path fill="#21918c" d="M141.36 296.48l-3.73-3.65l-2.28 1.32l3.73 3.65z"/>
<path fill="#440256" d="M297.28 395.18l-3.81-1.31l-2.04 1.87l3.82 1.31z"/>
<path fill="#440154" d="M341.83 396.49l-3.86-1.16l-1.97 1.93l3.86 1.16z"/>
<path fill="#440256" d="M306.95 395.82l-3.82-1.25l-2.02 1.89l3.83 1.25z"/>
<path fill="#481769" d="M245.25 385.36l-3.76-2.74l-2.12 1.68l3.77 2.75z"/>
<path fill="#31678e" d="M180.98 331.6l-3.74-3.66l-2.22 1.46l3.74 3.67z"/>
<path fill="#443b84" d="M216.86 362.99l-3.75-3.66l-2.16 1.58l3.75 3.67z"/>
<path fill="#228d8d" d="M145.1 300.14l-3.74-3.66l-2.28 1.32l3.74 3.66z"/>
<path fill="#470d60" d="M258.66 390.28l-3.78-2l-2.09 1.74l3.78 2.01z"/>
<path fill="#440154" d="M351.52 396.87l-3.87-1.16l-1.96 1.94l3.88 1.16z"/>
<path fill="#440154" d="M316.63 396.36l-3.84-1.21l-2 1.9l3.84 1.22z"/>
<path fill="#33638d" d="M184.72 335.26l-3.74-3.66l-2.22 1.47l3.75 3.66z"/>
<path fill="#453781" d="M220.6 366.66l-3.74-3.67l-2.16 1.59l3.75 3.68z"/>
<path fill="#23888e" d="M148.83 303.79l-3.73-3.65l-2.28 1.32l3.75 3.66z"/>
<path fill="#440154" d="M326.31 396.83l-3.84-1.18l-2 1.91l3.86 1.19z"/>
<path fill="#355e8d" d="M188.46 338.92l-3.74-3.66l-2.21 1.47l3.75 3.67z"/>
<path fill="#46307e" d="M224.35 370.32l-3.75-3.66l-2.15 1.6l3.76 3.67z"/>
<path fill="#25848e" d="M152.57 307.44l-3.74-3.65l-2.26 1.33l3.74 3.67z"/>
<path fill="#481467" d="M249.01 387.81l-3.76-2.45l-2.11 1.69l3.77 2.45z"/>
<path fill="#450559" d="M281.76 394.84l-3.8-1.45l-2.06 1.82l3.81 1.46z"/>
<path fill="#440154" d="M336 397.26l-3.86-1.17l-1.97 1.92l3.86 1.18z"/>
<path fill="#375a8c" d="M192.21 342.58l-3.75-3.66l-2.2 1.48l3.75 3.67z"/>
<path fill="#46085c" d="M272.1 393.68l-3.8-1.61l-2.07 1.79l3.8 1.61z"/>
<path fill="#472c7a" d="M228.1 373.99l-3.75-3.67l-2.14 1.61l3.76 3.67z"/>
<path fill="#26818e" d="M156.31 311.1l-3.74-3.66l-2.26 1.35l3.74 3.66z"/>
<path fill="#450457" d="M291.43 395.74l-3.81-1.35l-2.05 1.85l3.82 1.35z"/>
<path fill="#440256" d="M301.11 396.46l-3.83-1.28l-2.03 1.87l3.83 1.28z"/>
<path fill="#460b5e" d="M262.44 392.14l-3.78-1.86l-2.09 1.75l3.79 1.85z"/>
<path fill="#3a548c" d="M195.95 346.25l-3.74-3.67l-2.2 1.49l3.75 3.67z"/>
<path fill="#482677" d="M231.86 377.66l-3.76-3.67l-2.13 1.61l3.75 3.68z"/>
<path fill="#440154" d="M345.69 397.65l-3.86-1.16l-1.97 1.93l3.87 1.17z"/>
<path fill="#287c8e" d="M160.05 314.76l-3.74-3.66l-2.26 1.35l3.75 3.66z"/>
<path fill="#440256" d="M310.79 397.05l-3.84-1.23l-2.01 1.89l3.84 1.23z"/>
<path fill="#3c508b" d="M199.7 349.91l-3.75-3.66l-2.19 1.49l3.75 3.67z"/>
<path fill="#482071" d="M235.61 381.19l-3.75-3.53l-2.14 1.62l3.76 3.54z"/>
<path fill="#2a788e" d="M163.79 318.42l-3.74-3.66l-2.25 1.35l3.74 3.67z"/>
<path fill="#440154" d="M320.47 397.56l-3.84-1.2l-2 1.91l3.85 1.2z"/>
<path fill="#471164" d="M252.79 390.02l-3.78-2.21l-2.1 1.69l3.78 2.21z"/>
<path fill="#3e4c8a" d="M203.45 353.58l-3.75-3.67l-2.19 1.5l3.76 3.67z"/>
<path fill="#2b748e" d="M167.53 322.08l-3.74-3.66l-2.25 1.36l3.75 3.66z"/>
<path fill="#440154" d="M330.17 398.01l-3.86-1.18l-1.98 1.92l3.85 1.18z"/>
<path fill="#481c6e" d="M239.37 384.3l-3.76-3.11l-2.13 1.63l3.77 3.11z"/>
<path fill="#404688" d="M207.2 357.25l-3.75-3.67l-2.18 1.5l3.75 3.68z"/>
<path fill="#2d708e" d="M171.27 325.74l-3.74-3.66l-2.24 1.36l3.75 3.67z"/>
<path fill="#46075a" d="M275.9 395.21l-3.8-1.53l-2.07 1.79l3.8 1.53z"/>
<path fill="#450559" d="M285.57 396.24l-3.81-1.4l-2.05 1.83l3.81 1.4z"/>
<path fill="#1f948c" d="M135.35 294.15l-1.87-1.83l-1.15 .62l-1.15 .58l1.87 1.84l1.15-.59z"/>
<path fill="#460a5d" d="M266.23 393.86l-3.79-1.72l-2.08 1.74l3.79 1.73z"/>
<path fill="#440154" d="M339.86 398.42l-3.86-1.16l-1.97 1.93l3.86 1.17z"/>
<path fill="#450457" d="M295.25 397.05l-3.82-1.31l-2.04 1.85l3.83 1.32z"/>
<path fill="#424186" d="M210.95 360.91l-3.75-3.66l-2.18 1.51l3.76 3.67z"/>
<path fill="#2f6c8e" d="M175.02 329.4l-3.75-3.66l-2.23 1.37l3.75 3.67z"/>
<path fill="#20928c" d="M139.08 297.8l-3.73-3.65l-2.3 1.21l3.75 3.66z"/>
<path fill="#440256" d="M304.94 397.71l-3.83-1.25l-2.03 1.87l3.84 1.26z"/>
<path fill="#48186a" d="M243.14 387.05l-3.77-2.75l-2.12 1.63l3.77 2.75z"/>
<path fill="#440154" d="M349.57 398.81l-3.88-1.16l-1.96 1.94l3.88 1.16z"/>
<path fill="#470e61" d="M256.57 392.03l-3.78-2.01l-2.1 1.69l3.78 2.02z"/>
<path fill="#433d84" d="M214.7 364.58l-3.75-3.67l-2.17 1.52l3.76 3.68z"/>
<path fill="#31688e" d="M178.76 333.07l-3.74-3.67l-2.23 1.38l3.75 3.67z"/>
<path fill="#440256" d="M314.63 398.27l-3.84-1.22l-2.01 1.89l3.84 1.22z"/>
<path fill="#218e8d" d="M142.82 301.46l-3.74-3.66l-2.28 1.22l3.74 3.66z"/>
<path fill="#453781" d="M218.45 368.26l-3.75-3.68l-2.16 1.53l3.76 3.68z"/>
<path fill="#33638d" d="M182.51 336.73l-3.75-3.66l-2.22 1.38l3.76 3.68z"/>
<path fill="#440154" d="M324.33 398.75l-3.86-1.19l-1.99 1.91l3.85 1.19z"/>
<path fill="#23898e" d="M146.57 305.12l-3.75-3.66l-2.28 1.22l3.75 3.67z"/>
<path fill="#46327e" d="M222.21 371.93l-3.76-3.67l-2.15 1.53l3.76 3.68z"/>
<path fill="#355f8d" d="M186.26 340.4l-3.75-3.67l-2.21 1.4l3.75 3.67z"/>
<path fill="#25858e" d="M150.31 308.79l-3.74-3.67l-2.28 1.23l3.75 3.67z"/>
<path fill="#481467" d="M246.91 389.5l-3.77-2.45l-2.12 1.63l3.78 2.46z"/>
<path fill="#440154" d="M334.03 399.19l-3.86-1.18l-1.99 1.92l3.87 1.18z"/>
<path fill="#450559" d="M279.71 396.67l-3.81-1.46l-2.07 1.79l3.82 1.46z"/>
<path fill="#46085c" d="M270.03 395.47l-3.8-1.61l-2.08 1.75l3.8 1.62z"/>
<path fill="#450457" d="M289.39 397.59l-3.82-1.35l-2.05 1.83l3.82 1.35z"/>
<path fill="#472d7b" d="M225.97 375.6l-3.76-3.67l-2.15 1.54l3.76 3.68z"/>
<path fill="#375b8d" d="M190.01 344.07l-3.75-3.67l-2.21 1.4l3.76 3.67z"/>
<path fill="#26828e" d="M154.05 312.45l-3.74-3.66l-2.27 1.23l3.75 3.67z"/>
<path fill="#440256" d="M299.08 398.33l-3.83-1.28l-2.03 1.86l3.83 1.28z"/>
<path fill="#440154" d="M343.73 399.59l-3.87-1.17l-1.97 1.94l3.88 1.16z"/>
<path fill="#470d60" d="M260.36 393.88l-3.79-1.85l-2.1 1.7l3.8 1.86z"/>
<path fill="#482677" d="M229.72 379.28l-3.75-3.68l-2.15 1.55l3.77 3.68z"/>
<path fill="#39558c" d="M193.76 347.74l-3.75-3.67l-2.2 1.4l3.75 3.68z"/>
<path fill="#440256" d="M308.78 398.94l-3.84-1.23l-2.02 1.88l3.84 1.24z"/>
<path fill="#287d8e" d="M157.8 316.11l-3.75-3.66l-2.26 1.24l3.75 3.67z"/>
<path fill="#482173" d="M233.48 382.82l-3.76-3.54l-2.13 1.55l3.76 3.54z"/>
<path fill="#440154" d="M318.48 399.47l-3.85-1.2l-2.01 1.89l3.85 1.21z"/>
<path fill="#3b518b" d="M197.51 351.41l-3.75-3.67l-2.2 1.41l3.76 3.68z"/>
<path fill="#29798e" d="M161.54 319.78l-3.74-3.67l-2.26 1.25l3.75 3.67z"/>
<path fill="#471164" d="M250.69 391.71l-3.78-2.21l-2.11 1.64l3.78 2.22z"/>
<path fill="#3d4d8a" d="M201.27 355.08l-3.76-3.67l-2.19 1.42l3.76 3.68z"/>
<path fill="#440154" d="M328.18 399.93l-3.85-1.18l-2 1.91l3.86 1.19z"/>
<path fill="#2b758e" d="M165.29 323.44l-3.75-3.66l-2.25 1.25l3.75 3.68z"/>
<path fill="#481c6e" d="M237.25 385.93l-3.77-3.11l-2.13 1.55l3.77 3.12z"/>
<path fill="#46075a" d="M273.83 397l-3.8-1.53l-2.08 1.76l3.81 1.53z"/>
<path fill="#450559" d="M283.52 398.07l-3.81-1.4l-2.06 1.79l3.81 1.41z"/>
<path fill="#3f4788" d="M205.02 358.76l-3.75-3.68l-2.19 1.43l3.76 3.68z"/>
<path fill="#440154" d="M337.89 400.36l-3.86-1.17l-1.98 1.92l3.87 1.17z"/>
<path fill="#2d718e" d="M169.04 327.11l-3.75-3.67l-2.25 1.26l3.76 3.68z"/>
<path fill="#450457" d="M293.22 398.91l-3.83-1.32l-2.05 1.83l3.83 1.32z"/>
<path fill="#460a5d" d="M264.15 395.61l-3.79-1.73l-2.09 1.71l3.79 1.73z"/>
<path fill="#1f958b" d="M133.05 295.36l-1.87-1.84l-1.15 .56l-1.16 .52l1.88 1.83l1.15-.52z"/>
<path fill="#440256" d="M302.92 399.59l-3.84-1.26l-2.03 1.86l3.84 1.26z"/>
<path fill="#414287" d="M208.78 362.43l-3.76-3.67l-2.18 1.43l3.77 3.68z"/>
<path fill="#2e6d8e" d="M172.79 330.78l-3.75-3.67l-2.24 1.27l3.76 3.68z"/>
<path fill="#440154" d="M347.61 400.75l-3.88-1.16l-1.96 1.93l3.88 1.16z"/>
<path fill="#48186a" d="M241.02 388.68l-3.77-2.75l-2.13 1.56l3.78 2.76z"/>
<path fill="#20928c" d="M136.8 299.02l-3.75-3.66l-2.3 1.07l3.75 3.67z"/>
<path fill="#470e61" d="M254.47 393.73l-3.78-2.02l-2.11 1.65l3.79 2.02z"/>
<path fill="#440256" d="M312.62 400.16l-3.84-1.22l-2.02 1.89l3.85 1.22z"/>
<path fill="#433d84" d="M212.54 366.11l-3.76-3.68l-2.17 1.44l3.76 3.68z"/>
<path fill="#30698e" d="M176.54 334.45l-3.75-3.67l-2.23 1.28l3.75 3.67z"/>
<path fill="#218f8d" d="M140.54 302.68l-3.74-3.66l-2.3 1.08l3.75 3.68z"/>
<path fill="#440154" d="M322.33 400.66l-3.85-1.19l-2.01 1.9l3.86 1.2z"/>
<path fill="#453882" d="M216.3 369.79l-3.76-3.68l-2.17 1.44l3.77 3.69z"/>
<path fill="#32648e" d="M180.3 338.13l-3.76-3.68l-2.23 1.28l3.76 3.68z"/>
<path fill="#238a8d" d="M144.29 306.35l-3.75-3.67l-2.29 1.1l3.75 3.67z"/>
<path fill="#440154" d="M332.05 401.11l-3.87-1.18l-1.99 1.92l3.87 1.18z"/>
<path fill="#46337f" d="M220.06 373.47l-3.76-3.68l-2.16 1.45l3.76 3.68z"/>
<path fill="#46075a" d="M277.65 398.46l-3.82-1.46l-2.07 1.76l3.82 1.47z"/>
<path fill="#34608d" d="M184.05 341.8l-3.75-3.67l-2.23 1.28l3.76 3.68z"/>
<path fill="#481668" d="M244.8 391.14l-3.78-2.46l-2.12 1.57l3.78 2.46z"/>
<path fill="#450457" d="M287.34 399.42l-3.82-1.35l-2.06 1.8l3.83 1.36z"/>
<path fill="#46085c" d="M267.95 397.23l-3.8-1.62l-2.09 1.71l3.81 1.62z"/>
<path fill="#24868e" d="M148.04 310.02l-3.75-3.67l-2.29 1.1l3.76 3.67z"/>
<path fill="#450457" d="M297.05 400.19l-3.83-1.28l-2.05 1.83l3.84 1.29z"/>
<path fill="#440154" d="M341.77 401.52l-3.88-1.16l-1.97 1.92l3.88 1.17z"/>
<path fill="#472d7b" d="M223.82 377.15l-3.76-3.68l-2.16 1.45l3.77 3.69z"/>
<path fill="#375b8d" d="M187.81 345.47l-3.76-3.67l-2.22 1.29l3.76 3.68z"/>
<path fill="#470d60" d="M258.27 395.59l-3.8-1.86l-2.1 1.65l3.8 1.86z"/>
<path fill="#440256" d="M306.76 400.83l-3.84-1.24l-2.03 1.86l3.84 1.24z"/>
<path fill="#26828e" d="M151.79 313.69l-3.75-3.67l-2.28 1.1l3.75 3.68z"/>
<path fill="#482878" d="M227.59 380.83l-3.77-3.68l-2.15 1.46l3.77 3.69z"/>
<path fill="#39568c" d="M191.56 349.15l-3.75-3.68l-2.22 1.3l3.77 3.69z"/>
<path fill="#440256" d="M316.47 401.37l-3.85-1.21l-2.01 1.89l3.85 1.21z"/>
<path fill="#277e8e" d="M155.54 317.36l-3.75-3.67l-2.28 1.11l3.76 3.68z"/>
<path fill="#482374" d="M231.35 384.37l-3.76-3.54l-2.15 1.47l3.77 3.55z"/>
<path fill="#3b528b" d="M195.32 352.83l-3.76-3.68l-2.2 1.31l3.76 3.68z"/>
<path fill="#471365" d="M248.58 393.36l-3.78-2.22l-2.12 1.57l3.79 2.22z"/>
<path fill="#440154" d="M326.19 401.85l-3.86-1.19l-2 1.91l3.87 1.19z"/>
<path fill="#297a8e" d="M159.29 321.03l-3.75-3.67l-2.27 1.12l3.76 3.67z"/>
<path fill="#3d4d8a" d="M199.08 356.51l-3.76-3.68l-2.2 1.31l3.77 3.69z"/>
<path fill="#450559" d="M281.46 399.87l-3.81-1.41l-2.07 1.77l3.82 1.41z"/>
<path fill="#481d6f" d="M235.12 387.49l-3.77-3.12l-2.14 1.48l3.78 3.12z"/>
<path fill="#46085c" d="M271.76 398.76l-3.81-1.53l-2.08 1.71l3.82 1.54z"/>
<path fill="#440154" d="M335.92 402.28l-3.87-1.17l-1.99 1.92l3.88 1.18z"/>
<path fill="#2a768e" d="M163.04 324.7l-3.75-3.67l-2.26 1.12l3.76 3.68z"/>
<path fill="#450457" d="M291.17 400.74l-3.83-1.32l-2.05 1.81l3.84 1.32z"/>
<path fill="#3f4889" d="M202.84 360.19l-3.76-3.68l-2.19 1.32l3.77 3.68z"/>
<path fill="#460b5e" d="M262.06 397.32l-3.79-1.73l-2.1 1.65l3.8 1.74z"/>
<path fill="#440256" d="M300.89 401.45l-3.84-1.26l-2.04 1.84l3.84 1.26z"/>
<path fill="#2c718e" d="M166.8 328.38l-3.76-3.68l-2.25 1.13l3.76 3.69z"/>
<path fill="#440154" d="M345.65 402.68l-3.88-1.16l-1.97 1.93l3.88 1.17z"/>
<path fill="#414487" d="M206.61 363.87l-3.77-3.68l-2.18 1.32l3.76 3.69z"/>
<path fill="#440256" d="M310.61 402.05l-3.85-1.22l-2.03 1.86l3.86 1.23z"/>
<path fill="#1f978b" d="M130.75 296.43l-1.88-1.83l-1.16 .48l-1.16 .43l1.88 1.84l1.16-.44z"/>
<path fill="#2e6e8e" d="M170.56 332.06l-3.76-3.68l-2.25 1.14l3.76 3.68z"/>
<path fill="#471063" d="M252.37 395.38l-3.79-2.02l-2.11 1.57l3.79 2.03z"/>
<path fill="#481a6c" d="M238.9 390.25l-3.78-2.76l-2.13 1.48l3.78 2.76z"/>
<path fill="#433e85" d="M210.37 367.55l-3.76-3.68l-2.19 1.33l3.78 3.69z"/>
<path fill="#440154" d="M320.33 402.57l-3.86-1.2l-2.01 1.89l3.87 1.2z"/>
<path fill="#1f948c" d="M134.5 300.1l-3.75-3.67l-2.32 .92l3.76 3.67z"/>
<path fill="#306a8e" d="M174.31 335.73l-3.75-3.67l-2.25 1.14l3.76 3.68z"/>
<path fill="#443983" d="M214.14 371.24l-3.77-3.69l-2.17 1.34l3.77 3.69z"/>
<path fill="#21908d" d="M138.25 303.78l-3.75-3.68l-2.31 .92l3.75 3.68z"/>
<path fill="#440154" d="M330.06 403.03l-3.87-1.18l-1.99 1.91l3.87 1.18z"/>
<path fill="#32658e" d="M178.07 339.41l-3.76-3.68l-2.24 1.15l3.77 3.69z"/>
<path fill="#46075a" d="M275.58 400.23l-3.82-1.47l-2.07 1.72l3.82 1.47z"/>
<path fill="#450559" d="M285.29 401.23l-3.83-1.36l-2.06 1.77l3.83 1.36z"/>
<path fill="#463480" d="M217.9 374.92l-3.76-3.68l-2.17 1.34l3.77 3.69z"/>
<path fill="#460a5d" d="M265.87 398.94l-3.81-1.62l-2.09 1.66l3.81 1.62z"/>
<path fill="#228c8d" d="M142 307.45l-3.75-3.67l-2.31 .92l3.76 3.68z"/>
<path fill="#481668" d="M242.68 392.71l-3.78-2.46l-2.13 1.48l3.79 2.47z"/>
<path fill="#440154" d="M339.8 403.45l-3.88-1.17l-1.98 1.93l3.88 1.17z"/>
<path fill="#450457" d="M295.01 402.03l-3.84-1.29l-2.04 1.81l3.84 1.29z"/>
<path fill="#34618d" d="M181.83 343.09l-3.76-3.68l-2.23 1.16l3.77 3.68z"/>
<path fill="#472e7c" d="M221.67 378.61l-3.77-3.69l-2.16 1.35l3.77 3.7z"/>
<path fill="#440256" d="M304.73 402.69l-3.84-1.24l-2.04 1.84l3.85 1.25z"/>
<path fill="#23888e" d="M145.76 311.12l-3.76-3.67l-2.3 .93l3.76 3.68z"/>
<path fill="#470e61" d="M256.17 397.24l-3.8-1.86l-2.11 1.58l3.81 1.87z"/>
<path fill="#365d8d" d="M185.59 346.77l-3.76-3.68l-2.22 1.16l3.76 3.69z"/>
<path fill="#440256" d="M314.46 403.26l-3.85-1.21l-2.02 1.87l3.86 1.21z"/>
<path fill="#482979" d="M225.44 382.3l-3.77-3.69l-2.16 1.36l3.78 3.69z"/>
<path fill="#25838e" d="M149.51 314.8l-3.75-3.68l-2.3 .94l3.77 3.69z"/>
<path fill="#38588c" d="M189.36 350.46l-3.77-3.69l-2.22 1.17l3.77 3.69z"/>
<path fill="#440154" d="M324.2 403.76l-3.87-1.19l-2 1.89l3.87 1.19z"/>
<path fill="#482475" d="M229.21 385.85l-3.77-3.55l-2.15 1.36l3.78 3.56z"/>
<path fill="#27808e" d="M153.27 318.48l-3.76-3.68l-2.28 .95l3.76 3.68z"/>
<path fill="#471365" d="M246.47 394.93l-3.79-2.22l-2.12 1.49l3.79 2.23z"/>
<path fill="#3a538b" d="M193.12 354.14l-3.76-3.68l-2.22 1.17l3.78 3.69z"/>
<path fill="#440154" d="M333.94 404.21l-3.88-1.18l-1.99 1.91l3.88 1.18z"/>
<path fill="#297b8e" d="M157.03 322.15l-3.76-3.67l-2.28 .95l3.76 3.69z"/>
<path fill="#46075a" d="M279.4 401.64l-3.82-1.41l-2.07 1.72l3.82 1.41z"/>
<path fill="#46085c" d="M269.69 400.48l-3.82-1.54l-2.09 1.66l3.82 1.54z"/>
<path fill="#3c4f8a" d="M196.89 357.83l-3.77-3.69l-2.2 1.18l3.77 3.69z"/>
<path fill="#450457" d="M289.13 402.55l-3.84-1.32l-2.06 1.77l3.84 1.32z"/>
<path fill="#481f70" d="M232.99 388.97l-3.78-3.12l-2.14 1.37l3.78 3.13z"/>
<path fill="#470d60" d="M259.97 398.98l-3.8-1.74l-2.1 1.59l3.81 1.73z"/>
<path fill="#450457" d="M298.85 403.29l-3.84-1.26l-2.04 1.81l3.84 1.27z"/>
<path fill="#440154" d="M343.68 404.62l-3.88-1.17l-1.98 1.93l3.89 1.17z"/>
<path fill="#2a778e" d="M160.79 325.83l-3.76-3.68l-2.28 .97l3.77 3.68z"/>
<path fill="#3e4989" d="M200.66 361.51l-3.77-3.68l-2.2 1.18l3.77 3.7z"/>
<path fill="#440256" d="M308.59 403.92l-3.86-1.23l-2.03 1.85l3.86 1.23z"/>
<path fill="#2c738e" d="M164.55 329.52l-3.76-3.69l-2.27 .97l3.77 3.69z"/>
<path fill="#404588" d="M204.42 365.2l-3.76-3.69l-2.2 1.2l3.78 3.69z"/>
<path fill="#471164" d="M250.26 396.96l-3.79-2.03l-2.12 1.5l3.8 2.03z"/>
<path fill="#440256" d="M318.33 404.46l-3.87-1.2l-2.01 1.87l3.87 1.21z"/>
<path fill="#481b6d" d="M236.77 391.73l-3.78-2.76l-2.14 1.38l3.79 2.76z"/>
<path fill="#2e6f8e" d="M168.31 333.2l-3.76-3.68l-2.26 .97l3.77 3.69z"/>
<path fill="#1f988b" d="M128.43 297.35l-1.88-1.84l-1.16 .38l-1.17 .33l1.88 1.84l1.17-.33z"/>
<path fill="#424086" d="M208.2 368.89l-3.78-3.69l-2.18 1.2l3.77 3.7z"/>
<path fill="#440154" d="M328.07 404.94l-3.87-1.18l-2 1.89l3.87 1.19z"/>
<path fill="#1f958b" d="M132.19 301.02l-3.76-3.67l-2.33 .71l3.76 3.69z"/>
<path fill="#2f6b8e" d="M172.07 336.88l-3.76-3.68l-2.25 .98l3.77 3.69z"/>
<path fill="#443a83" d="M211.97 372.58l-3.77-3.69l-2.19 1.21l3.78 3.69z"/>
<path fill="#46085c" d="M273.51 401.95l-3.82-1.47l-2.09 1.66l3.83 1.48z"/>
<path fill="#450559" d="M283.23 403l-3.83-1.36l-2.07 1.72l3.84 1.37z"/>
<path fill="#440154" d="M337.82 405.38l-3.88-1.17l-1.99 1.91l3.89 1.18z"/>
<path fill="#20928c" d="M135.94 304.7l-3.75-3.68l-2.33 .73l3.77 3.68z"/>
<path fill="#460b5e" d="M263.78 400.6l-3.81-1.62l-2.09 1.58l3.81 1.64z"/>
<path fill="#450457" d="M292.97 403.84l-3.84-1.29l-2.06 1.77l3.85 1.3z"/>
<path fill="#31678e" d="M175.84 340.57l-3.77-3.69l-2.24 .99l3.77 3.69z"/>
<path fill="#481769" d="M240.56 394.2l-3.79-2.47l-2.13 1.38l3.79 2.48z"/>
<path fill="#453581" d="M215.74 376.27l-3.77-3.69l-2.18 1.21l3.78 3.7z"/>
<path fill="#440256" d="M302.7 404.54l-3.85-1.25l-2.04 1.82l3.86 1.25z"/>
<path fill="#218e8d" d="M139.7 308.38l-3.76-3.68l-2.31 .73l3.76 3.69z"/>
<path fill="#33628d" d="M179.61 344.25l-3.77-3.68l-2.24 .99l3.77 3.7z"/>
<path fill="#470e61" d="M254.07 398.83l-3.81-1.87l-2.11 1.5l3.81 1.87z"/>
<path fill="#472f7d" d="M219.51 379.97l-3.77-3.7l-2.17 1.22l3.78 3.7z"/>
<path fill="#440256" d="M312.45 405.13l-3.86-1.21l-2.03 1.85l3.87 1.21z"/>
<path fill="#23898e" d="M143.46 312.06l-3.76-3.68l-2.31 .74l3.77 3.69z"/>
<path fill="#355e8d" d="M183.37 347.94l-3.76-3.69l-2.24 1.01l3.78 3.69z"/>
<path fill="#472a7a" d="M223.29 383.66l-3.78-3.69l-2.16 1.22l3.78 3.7z"/>
<path fill="#440256" d="M322.2 405.65l-3.87-1.19l-2.01 1.88l3.87 1.19z"/>
<path fill="#25858e" d="M147.23 315.75l-3.77-3.69l-2.3 .75l3.77 3.69z"/>
<path fill="#375a8c" d="M187.14 351.63l-3.77-3.69l-2.22 1.01l3.77 3.7z"/>
<path fill="#481467" d="M244.35 396.43l-3.79-2.23l-2.13 1.39l3.8 2.23z"/>
<path fill="#482576" d="M227.07 387.22l-3.78-3.56l-2.16 1.23l3.78 3.57z"/>
<path fill="#440154" d="M331.95 406.12l-3.88-1.18l-2 1.9l3.89 1.18z"/>
<path fill="#26818e" d="M150.99 319.43l-3.76-3.68l-2.3 .75l3.77 3.69z"/>
<path fill="#46075a" d="M277.33 403.36l-3.82-1.41l-2.08 1.67l3.83 1.41z"/>
<path fill="#3a548c" d="M190.92 355.32l-3.78-3.69l-2.22 1.02l3.78 3.69z"/>
<path fill="#450559" d="M287.07 404.32l-3.84-1.32l-2.06 1.73l3.84 1.33z"/>
<path fill="#460a5d" d="M267.6 402.14l-3.82-1.54l-2.09 1.6l3.82 1.54z"/>
<path fill="#440154" d="M341.71 406.55l-3.89-1.17l-1.98 1.92l3.89 1.17z"/>
<path fill="#450457" d="M296.81 405.11l-3.84-1.27l-2.05 1.78l3.85 1.27z"/>
<path fill="#287d8e" d="M154.75 323.12l-3.76-3.69l-2.29 .76l3.77 3.69z"/>
<path fill="#482071" d="M230.85 390.35l-3.78-3.13l-2.16 1.24l3.79 3.13z"/>
<path fill="#3c508b" d="M194.69 359.01l-3.77-3.69l-2.22 1.02l3.78 3.7z"/>
<path fill="#470d60" d="M257.88 400.56l-3.81-1.73l-2.11 1.5l3.81 1.74z"/>
<path fill="#440256" d="M306.56 405.77l-3.86-1.23l-2.03 1.82l3.86 1.23z"/>
<path fill="#29798e" d="M158.52 326.8l-3.77-3.68l-2.28 .76l3.77 3.69z"/>
<path fill="#3e4c8a" d="M198.46 362.71l-3.77-3.7l-2.21 1.03l3.78 3.7z"/>
<path fill="#440256" d="M316.32 406.34l-3.87-1.21l-2.02 1.85l3.87 1.21z"/>
<path fill="#471365" d="M248.15 398.46l-3.8-2.03l-2.12 1.39l3.8 2.03z"/>
<path fill="#2b748e" d="M162.29 330.49l-3.77-3.69l-2.28 .77l3.78 3.7z"/>
<path fill="#404688" d="M202.24 366.4l-3.78-3.69l-2.2 1.03l3.78 3.7z"/>
<path fill="#481c6e" d="M234.64 393.11l-3.79-2.76l-2.15 1.24l3.79 2.78z"/>
<path fill="#440154" d="M326.07 406.84l-3.87-1.19l-2.01 1.88l3.88 1.19z"/>
<path fill="#2d718e" d="M166.06 334.18l-3.77-3.69l-2.27 .78l3.77 3.69z"/>
<path fill="#424186" d="M206.01 370.1l-3.77-3.7l-2.2 1.04l3.78 3.71z"/>
<path fill="#440154" d="M335.84 407.3l-3.89-1.18l-1.99 1.9l3.89 1.18z"/>
<path fill="#1e9b8a" d="M126.1 298.06l-1.88-1.84l-1.17 .27l-1.18 .19l1.89 1.85l1.17-.2z"/>
<path fill="#46075a" d="M281.17 404.73l-3.84-1.37l-2.07 1.67l3.84 1.37z"/>
<path fill="#46085c" d="M271.43 403.62l-3.83-1.48l-2.09 1.6l3.83 1.48z"/>
<path fill="#450559" d="M290.92 405.62l-3.85-1.3l-2.06 1.74l3.85 1.29z"/>
<path fill="#2e6d8e" d="M169.83 337.87l-3.77-3.69l-2.27 .78l3.78 3.7z"/>
<path fill="#433d84" d="M209.79 373.79l-3.78-3.69l-2.19 1.05l3.78 3.7z"/>
<path fill="#460b5e" d="M261.69 402.2l-3.81-1.64l-2.11 1.51l3.82 1.64z"/>
<path fill="#1f978b" d="M129.86 301.75l-3.76-3.69l-2.34 .47l3.77 3.69z"/>
<path fill="#450457" d="M300.67 406.36l-3.86-1.25l-2.04 1.78l3.86 1.25z"/>
<path fill="#481a6c" d="M238.43 395.59l-3.79-2.48l-2.15 1.26l3.8 2.47z"/>
<path fill="#31688e" d="M173.6 341.56l-3.77-3.69l-2.26 .79l3.78 3.7z"/>
<path fill="#453781" d="M213.57 377.49l-3.78-3.7l-2.19 1.06l3.79 3.71z"/>
<path fill="#440256" d="M310.43 406.98l-3.87-1.21l-2.03 1.82l3.87 1.22z"/>
<path fill="#20938c" d="M133.63 305.43l-3.77-3.68l-2.33 .47l3.77 3.69z"/>
<path fill="#471063" d="M251.96 400.33l-3.81-1.87l-2.12 1.39l3.81 1.88z"/>
<path fill="#32648e" d="M177.37 345.26l-3.77-3.7l-2.25 .8l3.78 3.7z"/>
<path fill="#46327e" d="M217.35 381.19l-3.78-3.7l-2.18 1.07l3.79 3.7z"/>
<path fill="#440256" d="M320.19 407.53l-3.87-1.19l-2.02 1.85l3.88 1.2z"/>
<path fill="#21908d" d="M137.39 309.12l-3.76-3.69l-2.33 .48l3.77 3.7z"/>
<path fill="#34608d" d="M181.15 348.95l-3.78-3.69l-2.24 .8l3.78 3.7z"/>
<path fill="#472c7a" d="M221.13 384.89l-3.78-3.7l-2.17 1.07l3.78 3.71z"/>
<path fill="#440154" d="M329.96 408.02l-3.89-1.18l-2 1.88l3.89 1.19z"/>
<path fill="#228b8d" d="M141.16 312.81l-3.77-3.69l-2.32 .49l3.77 3.69z"/>
<path fill="#481668" d="M242.23 397.82l-3.8-2.23l-2.14 1.25l3.81 2.24z"/>
<path fill="#46085c" d="M275.26 405.03l-3.83-1.41l-2.09 1.6l3.84 1.42z"/>
<path fill="#375b8d" d="M184.92 352.65l-3.77-3.7l-2.24 .81l3.78 3.7z"/>
<path fill="#450559" d="M285.01 406.06l-3.84-1.33l-2.07 1.67l3.85 1.33z"/>
<path fill="#482677" d="M224.91 388.46l-3.78-3.57l-2.17 1.08l3.79 3.57z"/>
<path fill="#440154" d="M339.73 408.47l-3.89-1.17l-1.99 1.9l3.9 1.18z"/>
<path fill="#24878e" d="M144.93 316.5l-3.77-3.69l-2.32 .49l3.78 3.7z"/>
<path fill="#460b5e" d="M265.51 403.74l-3.82-1.54l-2.1 1.51l3.83 1.55z"/>
<path fill="#450457" d="M294.77 406.89l-3.85-1.27l-2.06 1.73l3.86 1.28z"/>
<path fill="#39568c" d="M188.7 356.34l-3.78-3.69l-2.23 .81l3.78 3.71z"/>
<path fill="#450457" d="M304.53 407.59l-3.86-1.23l-2.04 1.78l3.87 1.24z"/>
<path fill="#25838e" d="M148.7 320.19l-3.77-3.69l-2.31 .5l3.78 3.7z"/>
<path fill="#470e61" d="M255.77 402.07l-3.81-1.74l-2.12 1.4l3.82 1.74z"/>
<path fill="#482173" d="M228.7 391.59l-3.79-3.13l-2.16 1.08l3.8 3.14z"/>
<path fill="#440256" d="M314.3 408.19l-3.87-1.21l-2.03 1.83l3.88 1.21z"/>
<path fill="#3b528b" d="M192.48 360.04l-3.78-3.7l-2.23 .83l3.79 3.7z"/>
<path fill="#277f8e" d="M152.47 323.88l-3.77-3.69l-2.3 .51l3.77 3.69z"/>
<path fill="#440256" d="M324.07 408.72l-3.88-1.19l-2.01 1.86l3.88 1.2z"/>
<path fill="#3d4d8a" d="M196.26 363.74l-3.78-3.7l-2.22 .83l3.78 3.71z"/>
<path fill="#481467" d="M246.03 399.85l-3.8-2.03l-2.13 1.26l3.81 2.04z"/>
<path fill="#297b8e" d="M156.24 327.57l-3.77-3.69l-2.3 .51l3.78 3.7z"/>
<path fill="#481d6f" d="M232.49 394.37l-3.79-2.78l-2.15 1.09l3.8 2.78z"/>
<path fill="#440154" d="M333.85 409.2l-3.89-1.18l-2 1.89l3.9 1.18z"/>
<path fill="#3f4889" d="M200.04 367.44l-3.78-3.7l-2.22 .84l3.79 3.71z"/>
<path fill="#2a768e" d="M160.02 331.27l-3.78-3.7l-2.29 .52l3.78 3.71z"/>
<path fill="#46075a" d="M279.1 406.4l-3.84-1.37l-2.08 1.61l3.85 1.37z"/>
<path fill="#460a5d" d="M269.34 405.22l-3.83-1.48l-2.09 1.52l3.84 1.48z"/>
<path fill="#450559" d="M288.86 407.35l-3.85-1.29l-2.06 1.67l3.85 1.31z"/>
<path fill="#414487" d="M203.82 371.15l-3.78-3.71l-2.21 .85l3.79 3.71z"/>
<path fill="#450457" d="M298.63 408.14l-3.86-1.25l-2.05 1.74l3.86 1.25z"/>
<path fill="#2c728e" d="M163.79 334.96l-3.77-3.69l-2.29 .53l3.79 3.7z"/>
<path fill="#470d60" d="M259.59 403.71l-3.82-1.64l-2.11 1.4l3.83 1.64z"/>
<path fill="#450457" d="M308.4 408.81l-3.87-1.22l-2.03 1.79l3.87 1.22z"/>
<path fill="#433e85" d="M207.6 374.85l-3.78-3.7l-2.2 .85l3.79 3.71z"/>
<path fill="#1e9d89" d="M123.76 298.53l-1.89-1.85l-1.18 .12l-1.18 .04l1.89 1.85l1.18-.04z"/>
<path fill="#2e6f8e" d="M167.57 338.66l-3.78-3.7l-2.27 .54l3.78 3.71z"/>
<path fill="#481b6d" d="M236.29 396.84l-3.8-2.47l-2.14 1.09l3.8 2.48z"/>
<path fill="#440256" d="M318.18 409.39l-3.88-1.2l-2.02 1.83l3.88 1.2z"/>
<path fill="#471164" d="M249.84 401.73l-3.81-1.88l-2.12 1.27l3.81 1.88z"/>
<path fill="#1f9a8a" d="M127.53 302.22l-3.77-3.69l-2.36 .16l3.77 3.7z"/>
<path fill="#443983" d="M211.39 378.56l-3.79-3.71l-2.19 .86l3.79 3.71z"/>
<path fill="#306a8e" d="M171.35 342.36l-3.78-3.7l-2.27 .55l3.78 3.7z"/>
<path fill="#440256" d="M327.96 409.91l-3.89-1.19l-2.01 1.87l3.9 1.19z"/>
<path fill="#1f958b" d="M131.3 305.91l-3.77-3.69l-2.36 .17l3.78 3.7z"/>
<path fill="#46337f" d="M215.18 382.26l-3.79-3.7l-2.19 .86l3.8 3.72z"/>
<path fill="#31668e" d="M175.13 346.06l-3.78-3.7l-2.27 .55l3.79 3.71z"/>
<path fill="#440154" d="M337.75 410.38l-3.9-1.18l-1.99 1.89l3.9 1.18z"/>
<path fill="#20928c" d="M135.07 309.61l-3.77-3.7l-2.35 .18l3.78 3.7z"/>
<path fill="#472e7c" d="M218.96 385.97l-3.78-3.71l-2.18 .88l3.79 3.71z"/>
<path fill="#46075a" d="M282.95 407.73l-3.85-1.33l-2.07 1.61l3.85 1.34z"/>
<path fill="#46085c" d="M273.18 406.64l-3.84-1.42l-2.08 1.52l3.84 1.42z"/>
<path fill="#33628d" d="M178.91 349.76l-3.78-3.7l-2.26 .56l3.79 3.71z"/>
<path fill="#450559" d="M292.72 408.63l-3.86-1.28l-2.06 1.69l3.86 1.27z"/>
<path fill="#48186a" d="M240.1 399.08l-3.81-2.24l-2.14 1.1l3.81 2.24z"/>
<path fill="#470d60" d="M263.42 405.26l-3.83-1.55l-2.1 1.4l3.83 1.56z"/>
<path fill="#218e8d" d="M138.84 313.3l-3.77-3.69l-2.34 .18l3.78 3.7z"/>
<path fill="#450457" d="M302.5 409.38l-3.87-1.24l-2.05 1.74l3.87 1.24z"/>
<path fill="#482979" d="M222.75 389.54l-3.79-3.57l-2.17 .88l3.8 3.58z"/>
<path fill="#365d8d" d="M182.69 353.46l-3.78-3.7l-2.25 .57l3.79 3.71z"/>
<path fill="#440256" d="M312.28 410.02l-3.88-1.21l-2.03 1.79l3.88 1.22z"/>
<path fill="#471063" d="M253.66 403.47l-3.82-1.74l-2.12 1.27l3.83 1.75z"/>
<path fill="#23898e" d="M142.62 317l-3.78-3.7l-2.33 .19l3.78 3.71z"/>
<path fill="#38598c" d="M186.47 357.17l-3.78-3.71l-2.24 .58l3.79 3.71z"/>
<path fill="#440256" d="M322.06 410.59l-3.88-1.2l-2.02 1.83l3.89 1.2z"/>
<path fill="#482475" d="M226.55 392.68l-3.8-3.14l-2.16 .89l3.8 3.15z"/>
<path fill="#25858e" d="M146.4 320.7l-3.78-3.7l-2.33 .2l3.79 3.7z"/>
<path fill="#3a548c" d="M190.26 360.87l-3.79-3.7l-2.23 .58l3.79 3.71z"/>
<path fill="#440256" d="M331.86 411.09l-3.9-1.18l-2 1.87l3.9 1.18z"/>
<path fill="#481668" d="M243.91 401.12l-3.81-2.04l-2.14 1.1l3.82 2.05z"/>
<path fill="#26828e" d="M150.17 324.39l-3.77-3.69l-2.32 .2l3.78 3.71z"/>
<path fill="#3c4f8a" d="M194.04 364.58l-3.78-3.71l-2.23 .59l3.79 3.72z"/>
<path fill="#46085c" d="M277.03 408.01l-3.85-1.37l-2.08 1.52l3.85 1.37z"/>
<path fill="#46075a" d="M286.8 409.04l-3.85-1.31l-2.07 1.62l3.86 1.3z"/>
<path fill="#482071" d="M230.35 395.46l-3.8-2.78l-2.16 .9l3.8 2.78z"/>
<path fill="#460b5e" d="M267.26 406.74l-3.84-1.48l-2.1 1.41l3.84 1.48z"/>
<path fill="#287d8e" d="M153.95 328.09l-3.78-3.7l-2.31 .22l3.79 3.71z"/>
<path fill="#450559" d="M296.58 409.88l-3.86-1.25l-2.06 1.68l3.87 1.26z"/>
<path fill="#3e4a89" d="M197.83 368.29l-3.79-3.71l-2.22 .6l3.8 3.71z"/>
<path fill="#450457" d="M306.37 410.6l-3.87-1.22l-2.05 1.74l3.88 1.23z"/>
<path fill="#470e61" d="M257.49 405.11l-3.83-1.64l-2.11 1.28l3.83 1.64z"/>
<path fill="#29798e" d="M157.73 331.8l-3.78-3.71l-2.3 .23l3.79 3.71z"/>
<path fill="#404688" d="M201.62 372l-3.79-3.71l-2.21 .6l3.79 3.72z"/>
<path fill="#440256" d="M316.16 411.22l-3.88-1.2l-2.03 1.8l3.89 1.2z"/>
<path fill="#2b758e" d="M161.52 335.5l-3.79-3.7l-2.29 .23l3.79 3.71z"/>
<path fill="#424086" d="M205.41 375.71l-3.79-3.71l-2.21 .61l3.8 3.72z"/>
<path fill="#481d6f" d="M234.15 397.94l-3.8-2.48l-2.16 .9l3.81 2.49z"/>
<path fill="#440256" d="M325.96 411.78l-3.9-1.19l-2.01 1.83l3.9 1.2z"/>
<path fill="#481467" d="M247.72 403l-3.81-1.88l-2.13 1.11l3.82 1.88z"/>
<path fill="#2d718e" d="M165.3 339.21l-3.78-3.71l-2.29 .24l3.79 3.71z"/>
<path fill="#443b84" d="M209.2 379.42l-3.79-3.71l-2.2 .62l3.8 3.72z"/>
<path fill="#1fa088" d="M121.4 298.69l-1.89-1.85l-1.19-.06l-1.19-.16l1.89 1.86l1.19 .15z"/>
<path fill="#440256" d="M335.76 412.27l-3.9-1.18l-2 1.87l3.9 1.19z"/>
<path fill="#2e6d8e" d="M169.08 342.91l-3.78-3.7l-2.28 .24l3.79 3.71z"/>
<path fill="#1e9d89" d="M125.17 302.39l-3.77-3.7l-2.38-.21l3.78 3.7z"/>
<path fill="#46085c" d="M280.88 409.35l-3.85-1.34l-2.08 1.52l3.85 1.34z"/>
<path fill="#453781" d="M213 383.14l-3.8-3.72l-2.19 .63l3.8 3.72z"/>
<path fill="#460a5d" d="M271.1 408.16l-3.84-1.42l-2.1 1.41l3.85 1.43z"/>
<path fill="#46075a" d="M290.66 410.31l-3.86-1.27l-2.06 1.61l3.86 1.28z"/>
<path fill="#450559" d="M300.45 411.12l-3.87-1.24l-2.05 1.69l3.88 1.25z"/>
<path fill="#30698e" d="M172.87 346.62l-3.79-3.71l-2.27 .25l3.79 3.72z"/>
<path fill="#470e61" d="M261.32 406.67l-3.83-1.56l-2.11 1.28l3.84 1.56z"/>
<path fill="#1f998a" d="M128.95 306.09l-3.78-3.7l-2.37-.21l3.79 3.71z"/>
<path fill="#46307e" d="M216.79 386.85l-3.79-3.71l-2.19 .63l3.8 3.72z"/>
<path fill="#481b6d" d="M237.96 400.18l-3.81-2.24l-2.15 .91l3.82 2.24z"/>
<path fill="#450457" d="M310.25 411.82l-3.88-1.22l-2.04 1.75l3.89 1.22z"/>
<path fill="#32648e" d="M176.66 350.33l-3.79-3.71l-2.27 .26l3.8 3.71z"/>
<path fill="#1f948c" d="M132.73 309.79l-3.78-3.7l-2.36-.2l3.79 3.71z"/>
<path fill="#440256" d="M320.05 412.42l-3.89-1.2l-2.02 1.8l3.89 1.2z"/>
<path fill="#472c7a" d="M220.59 390.43l-3.8-3.58l-2.18 .64l3.8 3.58z"/>
<path fill="#471365" d="M251.55 404.75l-3.83-1.75l-2.12 1.11l3.83 1.75z"/>
<path fill="#34608d" d="M180.45 354.04l-3.79-3.71l-2.26 .26l3.79 3.72z"/>
<path fill="#21918c" d="M136.51 313.49l-3.78-3.7l-2.35-.19l3.78 3.71z"/>
<path fill="#440256" d="M329.86 412.96l-3.9-1.18l-2.01 1.84l3.9 1.19z"/>
<path fill="#482677" d="M224.39 393.58l-3.8-3.15l-2.18 .64l3.81 3.16z"/>
<path fill="#365c8d" d="M184.24 357.75l-3.79-3.71l-2.26 .27l3.8 3.72z"/>
<path fill="#228c8d" d="M140.29 317.2l-3.78-3.71l-2.35-.18l3.79 3.71z"/>
<path fill="#46075a" d="M284.74 410.65l-3.86-1.3l-2.08 1.52l3.87 1.31z"/>
<path fill="#48186a" d="M241.78 402.23l-3.82-2.05l-2.14 .91l3.82 2.05z"/>
<path fill="#460a5d" d="M274.95 409.53l-3.85-1.37l-2.09 1.42l3.85 1.38z"/>
<path fill="#39568c" d="M188.03 361.46l-3.79-3.71l-2.25 .28l3.8 3.72z"/>
<path fill="#450559" d="M294.53 411.57l-3.87-1.26l-2.06 1.62l3.88 1.27z"/>
<path fill="#23888e" d="M144.08 320.9l-3.79-3.7l-2.34-.18l3.79 3.71z"/>
<path fill="#470d60" d="M265.16 408.15l-3.84-1.48l-2.1 1.28l3.84 1.49z"/>
<path fill="#450457" d="M304.33 412.35l-3.88-1.23l-2.04 1.7l3.88 1.23z"/>
<path fill="#3b528b" d="M191.82 365.18l-3.79-3.72l-2.24 .29l3.8 3.72z"/>
<path fill="#482374" d="M228.19 396.36l-3.8-2.78l-2.17 .65l3.81 2.79z"/>
<path fill="#25848e" d="M147.86 324.61l-3.78-3.71l-2.34-.17l3.8 3.72z"/>
<path fill="#450457" d="M314.14 413.02l-3.89-1.2l-2.03 1.75l3.89 1.21z"/>
<path fill="#471164" d="M255.38 406.39l-3.83-1.64l-2.12 1.11l3.83 1.65z"/>
<path fill="#3d4d8a" d="M195.62 368.89l-3.8-3.71l-2.23 .29l3.8 3.72z"/>
<path fill="#27808e" d="M151.65 328.32l-3.79-3.71l-2.32-.16l3.79 3.71z"/>
<path fill="#440256" d="M323.95 413.62l-3.9-1.2l-2.02 1.8l3.9 1.2z"/>
<path fill="#3f4889" d="M199.41 372.61l-3.79-3.72l-2.23 .3l3.81 3.73z"/>
<path fill="#440256" d="M333.76 414.15l-3.9-1.19l-2.01 1.85l3.92 1.18z"/>
<path fill="#287c8e" d="M155.44 332.03l-3.79-3.71l-2.32-.16l3.8 3.72z"/>
<path fill="#481668" d="M245.6 404.11l-3.82-1.88l-2.14 .91l3.83 1.89z"/>
<path fill="#482071" d="M232 398.85l-3.81-2.49l-2.16 .66l3.82 2.49z"/>
<path fill="#414487" d="M203.21 376.33l-3.8-3.72l-2.21 .31l3.8 3.72z"/>
<path fill="#2a788e" d="M159.23 335.74l-3.79-3.71l-2.31-.15l3.79 3.72z"/>
<path fill="#460a5d" d="M278.8 410.87l-3.85-1.34l-2.09 1.43l3.86 1.34z"/>
<path fill="#46075a" d="M288.6 411.93l-3.86-1.28l-2.07 1.53l3.87 1.29z"/>
<path fill="#470d60" d="M269.01 409.58l-3.85-1.43l-2.1 1.29l3.85 1.43z"/>
<path fill="#450559" d="M298.41 412.82l-3.88-1.25l-2.05 1.63l3.88 1.24z"/>
<path fill="#433e85" d="M207.01 380.05l-3.8-3.72l-2.21 .31l3.81 3.73z"/>
<path fill="#2c738e" d="M163.02 339.45l-3.79-3.71l-2.31-.14l3.8 3.72z"/>
<path fill="#450457" d="M308.22 413.57l-3.89-1.22l-2.04 1.7l3.89 1.22z"/>
<path fill="#471063" d="M259.22 407.95l-3.84-1.56l-2.12 1.12l3.85 1.56z"/>
<path fill="#443983" d="M210.81 383.77l-3.8-3.72l-2.2 .32l3.8 3.73z"/>
<path fill="#2d708e" d="M166.81 343.16l-3.79-3.71l-2.3-.13l3.8 3.72z"/>
<path fill="#20a386" d="M119.02 298.48l-1.89-1.86l-1.2-.27l-1.21-.39l1.9 1.86l1.2 .38z"/>
<path fill="#450457" d="M318.03 414.22l-3.89-1.2l-2.03 1.76l3.9 1.2z"/>
<path fill="#481d6f" d="M235.82 401.09l-3.82-2.24l-2.15 .66l3.82 2.25z"/>
<path fill="#1fa188" d="M122.8 302.18l-3.78-3.7l-2.4-.66l3.79 3.71z"/>
<path fill="#463480" d="M214.61 387.49l-3.8-3.72l-2.2 .33l3.81 3.73z"/>
<path fill="#440256" d="M327.85 414.81l-3.9-1.19l-2.02 1.8l3.91 1.2z"/>
<path fill="#2f6c8e" d="M170.6 346.88l-3.79-3.72l-2.29-.12l3.8 3.72z"/>
<path fill="#481467" d="M249.43 405.86l-3.83-1.75l-2.13 .92l3.83 1.76z"/>
<path fill="#1e9c89" d="M126.59 305.89l-3.79-3.71l-2.39-.65l3.79 3.72z"/>
<path fill="#472e7c" d="M218.41 391.07l-3.8-3.58l-2.19 .34l3.81 3.59z"/>
<path fill="#31678e" d="M174.4 350.59l-3.8-3.71l-2.28-.12l3.8 3.73z"/>
<path fill="#1f988b" d="M130.38 309.6l-3.79-3.71l-2.39-.64l3.8 3.71z"/>
<path fill="#46085c" d="M282.67 412.18l-3.87-1.31l-2.08 1.43l3.87 1.31z"/>
<path fill="#33638d" d="M178.19 354.31l-3.79-3.72l-2.28-.1l3.81 3.72z"/>
<path fill="#46075a" d="M292.48 413.2l-3.88-1.27l-2.06 1.54l3.88 1.26z"/>
<path fill="#460b5e" d="M272.86 410.96l-3.85-1.38l-2.1 1.29l3.86 1.38z"/>
<path fill="#472a7a" d="M222.22 394.23l-3.81-3.16l-2.18 .35l3.82 3.16z"/>
<path fill="#450559" d="M302.29 414.05l-3.88-1.23l-2.05 1.62l3.88 1.24z"/>
<path fill="#1f948c" d="M134.16 313.31l-3.78-3.71l-2.38-.64l3.8 3.72z"/>
<path fill="#470e61" d="M263.06 409.44l-3.84-1.49l-2.11 1.12l3.85 1.49z"/>
<path fill="#481b6d" d="M239.64 403.14l-3.82-2.05l-2.15 .67l3.83 2.05z"/>
<path fill="#355f8d" d="M181.99 358.03l-3.8-3.72l-2.26-.1l3.8 3.73z"/>
<path fill="#450457" d="M312.11 414.78l-3.89-1.21l-2.04 1.7l3.9 1.21z"/>
<path fill="#21908d" d="M137.95 317.02l-3.79-3.71l-2.36-.63l3.79 3.72z"/>
<path fill="#450457" d="M321.93 415.42l-3.9-1.2l-2.02 1.76l3.91 1.21z"/>
<path fill="#375a8c" d="M185.79 361.75l-3.8-3.72l-2.26-.09l3.81 3.73z"/>
<path fill="#471365" d="M253.26 407.51l-3.83-1.65l-2.13 .93l3.84 1.65z"/>
<path fill="#482677" d="M226.03 397.02l-3.81-2.79l-2.17 .35l3.81 2.8z"/>
<path fill="#440256" d="M331.77 415.99l-3.92-1.18l-2.01 1.81l3.92 1.19z"/>
<path fill="#228c8d" d="M141.74 320.73l-3.79-3.71l-2.36-.62l3.8 3.72z"/>
<path fill="#39558c" d="M189.59 365.47l-3.8-3.72l-2.25-.08l3.81 3.73z"/>
<path fill="#23888e" d="M145.54 324.45l-3.8-3.72l-2.35-.61l3.8 3.73z"/>
<path fill="#3b518b" d="M193.39 369.19l-3.8-3.72l-2.24-.07l3.81 3.73z"/>
<path fill="#481a6c" d="M243.47 405.03l-3.83-1.89l-2.14 .67l3.83 1.89z"/>
<path fill="#46085c" d="M286.54 413.47l-3.87-1.29l-2.08 1.43l3.88 1.29z"/>
<path fill="#460b5e" d="M276.72 412.3l-3.86-1.34l-2.09 1.29l3.87 1.34z"/>
<path fill="#25838e" d="M149.33 328.16l-3.79-3.71l-2.35-.6l3.81 3.72z"/>
<path fill="#46075a" d="M296.36 414.44l-3.88-1.24l-2.06 1.53l3.88 1.25z"/>
<path fill="#3e4c8a" d="M197.2 372.92l-3.81-3.73l-2.23-.06l3.81 3.73z"/>
<path fill="#482374" d="M229.85 399.51l-3.82-2.49l-2.17 .36l3.83 2.49z"/>
<path fill="#450559" d="M306.18 415.27l-3.89-1.22l-2.05 1.63l3.9 1.22z"/>
<path fill="#470e61" d="M266.91 410.87l-3.85-1.43l-2.1 1.12l3.85 1.44z"/>
<path fill="#27808e" d="M153.13 331.88l-3.8-3.72l-2.33-.59l3.8 3.72z"/>
<path fill="#450457" d="M316.01 415.98l-3.9-1.2l-2.03 1.7l3.9 1.21z"/>
<path fill="#3f4788" d="M201 376.64l-3.8-3.72l-2.23-.06l3.81 3.73z"/>
<path fill="#471365" d="M257.11 409.07l-3.85-1.56l-2.12 .93l3.85 1.56z"/>
<path fill="#450457" d="M325.84 416.62l-3.91-1.2l-2.01 1.77l3.91 1.19z"/>
<path fill="#297b8e" d="M156.92 335.6l-3.79-3.72l-2.33-.59l3.8 3.73z"/>
<path fill="#424186" d="M204.81 380.37l-3.81-3.73l-2.22-.05l3.81 3.74z"/>
<path fill="#2a778e" d="M160.72 339.32l-3.8-3.72l-2.32-.58l3.81 3.73z"/>
<path fill="#433d84" d="M208.61 384.1l-3.8-3.73l-2.22-.04l3.82 3.73z"/>
<path fill="#482071" d="M233.67 401.76l-3.82-2.25l-2.16 .36l3.82 2.26z"/>
<path fill="#481769" d="M247.3 406.79l-3.83-1.76l-2.14 .67l3.84 1.76z"/>
<path fill="#2c738e" d="M164.52 343.04l-3.8-3.72l-2.31-.57l3.81 3.73z"/>
<path fill="#453882" d="M212.42 387.83l-3.81-3.73l-2.2-.04l3.81 3.74z"/>
<path fill="#22a785" d="M116.62 297.82l-1.9-1.86l-1.2-.4l-1.21-.41l1.9 1.86l1.2 .4z"/>
<path fill="#46085c" d="M290.42 414.73l-3.88-1.26l-2.07 1.43l3.88 1.27z"/>
<path fill="#460b5e" d="M280.59 413.61l-3.87-1.31l-2.08 1.29l3.87 1.32z"/>
<path fill="#46075a" d="M300.24 415.68l-3.88-1.24l-2.06 1.54l3.89 1.24z"/>
<path fill="#2e6f8e" d="M168.32 346.76l-3.8-3.72l-2.3-.56l3.81 3.73z"/>
<path fill="#470d60" d="M270.77 412.25l-3.86-1.38l-2.1 1.13l3.87 1.38z"/>
<path fill="#20a486" d="M120.41 301.53l-3.79-3.71l-2.41-.81l3.8 3.72z"/>
<path fill="#450559" d="M310.08 416.48l-3.9-1.21l-2.04 1.63l3.9 1.22z"/>
<path fill="#46337f" d="M216.23 391.42l-3.81-3.59l-2.2-.03l3.82 3.6z"/>
<path fill="#450457" d="M319.92 417.19l-3.91-1.21l-2.03 1.71l3.91 1.21z"/>
<path fill="#2f6b8e" d="M172.12 350.49l-3.8-3.73l-2.29-.55l3.81 3.73z"/>
<path fill="#471164" d="M260.96 410.56l-3.85-1.49l-2.12 .93l3.86 1.49z"/>
<path fill="#1fa188" d="M124.2 305.25l-3.79-3.72l-2.4-.8l3.8 3.73z"/>
<path fill="#450457" d="M329.76 417.81l-3.92-1.19l-2.01 1.76l3.92 1.2z"/>
<path fill="#472e7c" d="M220.05 394.58l-3.82-3.16l-2.19-.02l3.82 3.17z"/>
<path fill="#481d6f" d="M237.5 403.81l-3.83-2.05l-2.16 .37l3.84 2.06z"/>
<path fill="#31678e" d="M175.93 354.21l-3.81-3.72l-2.28-.55l3.81 3.74z"/>
<path fill="#1e9c89" d="M128 308.96l-3.8-3.71l-2.39-.79l3.8 3.72z"/>
<path fill="#481668" d="M251.14 408.44l-3.84-1.65l-2.13 .67l3.85 1.66z"/>
<path fill="#33628d" d="M179.73 357.94l-3.8-3.73l-2.28-.53l3.81 3.73z"/>
<path fill="#1f988b" d="M131.8 312.68l-3.8-3.72l-2.39-.78l3.8 3.73z"/>
<path fill="#472a7a" d="M223.86 397.38l-3.81-2.8l-2.19-.01l3.83 2.8z"/>
<path fill="#355e8d" d="M183.54 361.67l-3.81-3.73l-2.27-.53l3.82 3.74z"/>
<path fill="#20938c" d="M135.59 316.4l-3.79-3.72l-2.39-.77l3.81 3.73z"/>
<path fill="#460a5d" d="M284.47 414.9l-3.88-1.29l-2.08 1.3l3.88 1.29z"/>
<path fill="#46085c" d="M294.3 415.98l-3.88-1.25l-2.07 1.44l3.89 1.25z"/>
<path fill="#46075a" d="M304.14 416.9l-3.9-1.22l-2.05 1.54l3.9 1.23z"/>
<path fill="#470d60" d="M274.64 413.59l-3.87-1.34l-2.09 1.13l3.87 1.35z"/>
<path fill="#375a8c" d="M187.35 365.4l-3.81-3.73l-2.26-.52l3.81 3.73z"/>
<path fill="#450559" d="M313.98 417.69l-3.9-1.21l-2.04 1.64l3.91 1.21z"/>
<path fill="#21908d" d="M139.39 320.12l-3.8-3.72l-2.37-.76l3.81 3.73z"/>
<path fill="#471164" d="M264.81 412l-3.85-1.44l-2.11 .93l3.86 1.44z"/>
<path fill="#481c6e" d="M241.33 405.7l-3.83-1.89l-2.15 .38l3.84 1.89z"/>
<path fill="#450457" d="M323.83 418.38l-3.91-1.19l-2.03 1.71l3.92 1.2z"/>
<path fill="#3a548c" d="M191.16 369.13l-3.81-3.73l-2.26-.52l3.82 3.74z"/>
<path fill="#228c8d" d="M143.19 323.85l-3.8-3.73l-2.36-.75l3.81 3.73z"/>
<path fill="#482677" d="M227.69 399.87l-3.83-2.49l-2.17-.01l3.83 2.5z"/>
<path fill="#481668" d="M254.99 410l-3.85-1.56l-2.12 .68l3.85 1.57z"/>
<path fill="#3c508b" d="M194.97 372.86l-3.81-3.73l-2.25-.51l3.82 3.74z"/>
<path fill="#24878e" d="M147 327.57l-3.81-3.72l-2.35-.75l3.81 3.73z"/>
<path fill="#3e4c8a" d="M198.78 376.59l-3.81-3.73l-2.24-.5l3.82 3.75z"/>
<path fill="#25838e" d="M150.8 331.29l-3.8-3.72l-2.35-.74l3.81 3.73z"/>
<path fill="#404688" d="M202.59 380.33l-3.81-3.74l-2.23-.48l3.82 3.74z"/>
<path fill="#460a5d" d="M288.35 416.17l-3.88-1.27l-2.08 1.3l3.89 1.28z"/>
<path fill="#46085c" d="M298.19 417.22l-3.89-1.24l-2.06 1.44l3.9 1.24z"/>
<path fill="#27808e" d="M154.6 335.02l-3.8-3.73l-2.34-.73l3.81 3.74z"/>
<path fill="#470d60" d="M278.51 414.91l-3.87-1.32l-2.09 1.14l3.88 1.32z"/>
<path fill="#46075a" d="M308.04 418.12l-3.9-1.22l-2.05 1.55l3.91 1.22z"/>
<path fill="#481b6d" d="M245.17 407.46l-3.84-1.76l-2.14 .38l3.84 1.77z"/>
<path fill="#482475" d="M231.51 402.13l-3.82-2.26l-2.17 0l3.83 2.26z"/>
<path fill="#450559" d="M317.89 418.9l-3.91-1.21l-2.03 1.64l3.91 1.21z"/>
<path fill="#424186" d="M206.41 384.06l-3.82-3.73l-2.22-.48l3.82 3.74z"/>
<path fill="#471063" d="M268.68 413.38l-3.87-1.38l-2.1 .93l3.87 1.39z"/>
<path fill="#297b8e" d="M158.41 338.75l-3.81-3.73l-2.33-.72l3.82 3.74z"/>
<path fill="#450457" d="M327.75 419.58l-3.92-1.2l-2.02 1.72l3.93 1.19z"/>
<path fill="#433d84" d="M210.22 387.8l-3.81-3.74l-2.22-.47l3.83 3.75z"/>
<path fill="#2a778e" d="M162.22 342.48l-3.81-3.73l-2.32-.71l3.81 3.73z"/>
<path fill="#481467" d="M258.85 411.49l-3.86-1.49l-2.12 .69l3.86 1.49z"/>
<path fill="#25ab82" d="M114.21 297.01l-1.9-1.86l-1.22-.41l-1.21-.4l1.9 1.86l1.21 .41z"/>
<path fill="#453781" d="M214.04 391.4l-3.82-3.6l-2.2-.46l3.82 3.61z"/>
<path fill="#2c738e" d="M166.03 346.21l-3.81-3.73l-2.32-.71l3.82 3.74z"/>
<path fill="#22a884" d="M118.01 300.73l-3.8-3.72l-2.43-.81l3.81 3.73z"/>
<path fill="#482173" d="M235.35 404.19l-3.84-2.06l-2.16 0l3.84 2.06z"/>
<path fill="#2e6f8e" d="M169.84 349.94l-3.81-3.73l-2.31-.7l3.82 3.74z"/>
<path fill="#481a6c" d="M249.02 409.12l-3.85-1.66l-2.14 .39l3.86 1.65z"/>
<path fill="#20a486" d="M121.81 304.46l-3.8-3.73l-2.42-.8l3.81 3.73z"/>
<path fill="#46337f" d="M217.86 394.57l-3.82-3.17l-2.2-.45l3.83 3.17z"/>
<path fill="#460a5d" d="M292.24 417.42l-3.89-1.25l-2.07 1.31l3.89 1.25z"/>
<path fill="#46085c" d="M302.09 418.45l-3.9-1.23l-2.05 1.44l3.9 1.24z"/>
<path fill="#470d60" d="M282.39 416.2l-3.88-1.29l-2.08 1.14l3.88 1.3z"/>
<path fill="#46075a" d="M311.95 419.33l-3.91-1.21l-2.04 1.55l3.91 1.22z"/>
<path fill="#2f6b8e" d="M173.65 353.68l-3.81-3.74l-2.3-.69l3.82 3.74z"/>
<path fill="#1fa188" d="M125.61 308.18l-3.8-3.72l-2.41-.8l3.81 3.74z"/>
<path fill="#471063" d="M272.55 414.73l-3.87-1.35l-2.1 .94l3.88 1.35z"/>
<path fill="#450559" d="M321.81 420.1l-3.92-1.2l-2.03 1.64l3.93 1.2z"/>
<path fill="#31678e" d="M177.46 357.41l-3.81-3.73l-2.29-.69l3.82 3.75z"/>
<path fill="#1e9c89" d="M129.41 311.91l-3.8-3.73l-2.4-.78l3.81 3.73z"/>
<path fill="#481467" d="M262.71 412.93l-3.86-1.44l-2.12 .69l3.87 1.44z"/>
<path fill="#472e7c" d="M221.69 397.37l-3.83-2.8l-2.19-.45l3.83 2.81z"/>
<path fill="#33628d" d="M181.28 361.15l-3.82-3.74l-2.28-.67l3.82 3.74z"/>
<path fill="#1f988b" d="M133.22 315.64l-3.81-3.73l-2.39-.78l3.82 3.74z"/>
<path fill="#482071" d="M239.19 406.08l-3.84-1.89l-2.16 0l3.85 1.9z"/>
<path fill="#355e8d" d="M185.09 364.88l-3.81-3.73l-2.28-.67l3.83 3.75z"/>
<path fill="#20938c" d="M137.03 319.37l-3.81-3.73l-2.38-.77l3.81 3.74z"/>
<path fill="#48186a" d="M252.87 410.69l-3.85-1.57l-2.13 .38l3.86 1.57z"/>
<path fill="#375a8c" d="M188.91 368.62l-3.82-3.74l-2.26-.65l3.82 3.75z"/>
<path fill="#472c7a" d="M225.52 399.87l-3.83-2.5l-2.19-.44l3.84 2.5z"/>
<path fill="#460a5d" d="M296.14 418.66l-3.9-1.24l-2.07 1.31l3.91 1.25z"/>
<path fill="#21908d" d="M140.84 323.1l-3.81-3.73l-2.38-.76l3.82 3.74z"/>
<path fill="#46085c" d="M306 419.67l-3.91-1.22l-2.05 1.45l3.91 1.22z"/>
<path fill="#460b5e" d="M286.28 417.48l-3.89-1.28l-2.08 1.15l3.9 1.27z"/>
<path fill="#46075a" d="M315.86 420.54l-3.91-1.21l-2.04 1.56l3.92 1.21z"/>
<path fill="#471063" d="M276.43 416.05l-3.88-1.32l-2.09 .94l3.88 1.33z"/>
<path fill="#3a548c" d="M192.73 372.36l-3.82-3.74l-2.26-.64l3.83 3.74z"/>
<path fill="#228c8d" d="M144.65 326.83l-3.81-3.73l-2.37-.75l3.82 3.74z"/>
<path fill="#450559" d="M325.74 421.29l-3.93-1.19l-2.02 1.64l3.93 1.2z"/>
<path fill="#3c508b" d="M196.55 376.11l-3.82-3.75l-2.25-.64l3.83 3.75z"/>
<path fill="#471365" d="M266.58 414.32l-3.87-1.39l-2.11 .69l3.88 1.4z"/>
<path fill="#24878e" d="M148.46 330.56l-3.81-3.73l-2.36-.74l3.82 3.74z"/>
<path fill="#481f70" d="M243.03 407.85l-3.84-1.77l-2.15 .01l3.85 1.77z"/>
<path fill="#3e4a89" d="M200.37 379.85l-3.82-3.74l-2.24-.64l3.83 3.76z"/>
<path fill="#482979" d="M229.35 402.13l-3.83-2.26l-2.18-.44l3.84 2.27z"/>
<path fill="#25838e" d="M152.27 334.3l-3.81-3.74l-2.35-.73l3.82 3.74z"/>
<path fill="#48186a" d="M256.73 412.18l-3.86-1.49l-2.12 .38l3.86 1.51z"/>
<path fill="#404688" d="M204.19 383.59l-3.82-3.74l-2.23-.62l3.83 3.75z"/>
<path fill="#27808e" d="M156.09 338.04l-3.82-3.74l-2.34-.73l3.82 3.75z"/>
<path fill="#424186" d="M208.02 387.34l-3.83-3.75l-2.22-.61l3.83 3.75z"/>
<path fill="#460a5d" d="M300.04 419.9l-3.9-1.24l-2.06 1.32l3.91 1.23z"/>
<path fill="#460b5e" d="M290.17 418.73l-3.89-1.25l-2.07 1.14l3.9 1.26z"/>
<path fill="#46075a" d="M309.91 420.89l-3.91-1.22l-2.05 1.45l3.92 1.22z"/>
<path fill="#297b8e" d="M159.9 341.77l-3.81-3.73l-2.34-.72l3.83 3.74z"/>
<path fill="#450559" d="M319.79 421.74l-3.93-1.2l-2.03 1.56l3.93 1.21z"/>
<path fill="#470e61" d="M280.31 417.35l-3.88-1.3l-2.09 .95l3.89 1.3z"/>
<path fill="#29af7f" d="M111.78 296.2l-1.9-1.86l-1.22-.41l-1.22-.41l1.9 1.87l1.22 .41z"/>
<path fill="#433d84" d="M211.84 390.95l-3.82-3.61l-2.22-.61l3.83 3.62z"/>
<path fill="#2a778e" d="M163.72 345.51l-3.82-3.74l-2.32-.71l3.82 3.75z"/>
<path fill="#481d6f" d="M246.89 409.5l-3.86-1.65l-2.14 .01l3.86 1.66z"/>
<path fill="#482677" d="M233.19 404.19l-3.84-2.06l-2.17-.43l3.85 2.06z"/>
<path fill="#471365" d="M270.46 415.67l-3.88-1.35l-2.1 .7l3.88 1.35z"/>
<path fill="#26ad81" d="M115.59 299.93l-3.81-3.73l-2.44-.81l3.82 3.74z"/>
<path fill="#2c738e" d="M167.54 349.25l-3.82-3.74l-2.32-.7l3.83 3.75z"/>
<path fill="#453882" d="M215.67 394.12l-3.83-3.17l-2.21-.6l3.84 3.18z"/>
<path fill="#22a884" d="M119.4 303.66l-3.81-3.73l-2.43-.8l3.82 3.74z"/>
<path fill="#481769" d="M260.6 413.62l-3.87-1.44l-2.12 .4l3.88 1.44z"/>
<path fill="#2e6f8e" d="M171.36 352.99l-3.82-3.74l-2.31-.69l3.83 3.75z"/>
<path fill="#20a486" d="M123.21 307.4l-3.81-3.74l-2.42-.79l3.82 3.74z"/>
<path fill="#2f6b8e" d="M175.18 356.74l-3.82-3.75l-2.3-.68l3.83 3.75z"/>
<path fill="#1fa188" d="M127.02 311.13l-3.81-3.73l-2.41-.79l3.82 3.74z"/>
<path fill="#463480" d="M219.5 396.93l-3.83-2.81l-2.2-.59l3.84 2.81z"/>
<path fill="#460a5d" d="M303.95 421.12l-3.91-1.22l-2.05 1.31l3.91 1.23z"/>
<path fill="#460b5e" d="M294.08 419.98l-3.91-1.25l-2.06 1.15l3.9 1.25z"/>
<path fill="#46075a" d="M313.83 422.1l-3.92-1.21l-2.04 1.45l3.93 1.21z"/>
<path fill="#482576" d="M237.04 406.09l-3.85-1.9l-2.16-.43l3.85 1.91z"/>
<path fill="#31678e" d="M179 360.48l-3.82-3.74l-2.29-.68l3.83 3.75z"/>
<path fill="#470e61" d="M284.21 418.62l-3.9-1.27l-2.08 .95l3.9 1.27z"/>
<path fill="#450559" d="M323.72 422.94l-3.93-1.2l-2.03 1.57l3.93 1.2z"/>
<path fill="#481c6e" d="M250.75 411.07l-3.86-1.57l-2.14 .02l3.87 1.58z"/>
<path fill="#1e9c89" d="M130.84 314.87l-3.82-3.74l-2.4-.78l3.82 3.75z"/>
<path fill="#471365" d="M274.34 417l-3.88-1.33l-2.1 .7l3.89 1.33z"/>
<path fill="#33628d" d="M182.83 364.23l-3.83-3.75l-2.28-.67l3.83 3.76z"/>
<path fill="#1f988b" d="M134.65 318.61l-3.81-3.74l-2.4-.77l3.83 3.74z"/>
<path fill="#355e8d" d="M186.65 367.98l-3.82-3.75l-2.28-.66l3.83 3.75z"/>
<path fill="#46307e" d="M223.34 399.43l-3.84-2.5l-2.19-.59l3.84 2.52z"/>
<path fill="#20938c" d="M138.47 322.35l-3.82-3.74l-2.38-.77l3.82 3.75z"/>
<path fill="#481769" d="M264.48 415.02l-3.88-1.4l-2.11 .4l3.88 1.4z"/>
<path fill="#375a8c" d="M190.48 371.72l-3.83-3.74l-2.27-.66l3.84 3.76z"/>
<path fill="#21908d" d="M142.29 326.09l-3.82-3.74l-2.38-.76l3.83 3.75z"/>
<path fill="#482475" d="M240.89 407.86l-3.85-1.77l-2.16-.42l3.86 1.77z"/>
<path fill="#3a548c" d="M194.31 375.47l-3.83-3.75l-2.26-.64l3.83 3.76z"/>
<path fill="#228c8d" d="M146.11 329.83l-3.82-3.74l-2.37-.75l3.83 3.75z"/>
<path fill="#460a5d" d="M307.87 422.34l-3.92-1.22l-2.05 1.32l3.93 1.22z"/>
<path fill="#460b5e" d="M297.99 421.21l-3.91-1.23l-2.07 1.15l3.92 1.24z"/>
<path fill="#46075a" d="M317.76 423.31l-3.93-1.21l-2.03 1.45l3.93 1.21z"/>
<path fill="#481c6e" d="M254.61 412.58l-3.86-1.51l-2.13 .03l3.87 1.5z"/>
<path fill="#470e61" d="M288.11 419.88l-3.9-1.26l-2.08 .95l3.9 1.27z"/>
<path fill="#3c508b" d="M198.14 379.23l-3.83-3.76l-2.26-.63l3.84 3.76z"/>
<path fill="#472e7c" d="M227.18 401.7l-3.84-2.27l-2.19-.57l3.85 2.26z"/>
<path fill="#24878e" d="M149.93 333.57l-3.82-3.74l-2.36-.74l3.83 3.75z"/>
<path fill="#471164" d="M278.23 418.3l-3.89-1.3l-2.09 .7l3.9 1.3z"/>
<path fill="#3e4a89" d="M201.97 382.98l-3.83-3.75l-2.25-.63l3.84 3.76z"/>
<path fill="#25838e" d="M153.75 337.32l-3.82-3.75l-2.35-.73l3.83 3.76z"/>
<path fill="#481668" d="M268.36 416.37l-3.88-1.35l-2.11 .4l3.89 1.35z"/>
<path fill="#404688" d="M205.8 386.73l-3.83-3.75l-2.24-.62l3.84 3.76z"/>
<path fill="#27808e" d="M157.58 341.06l-3.83-3.74l-2.34-.72l3.83 3.75z"/>
<path fill="#2eb37c" d="M109.34 295.39l-1.9-1.87l-1.23-.41l-1.22-.41l1.91 1.87l1.22 .41z"/>
<path fill="#482374" d="M244.75 409.52l-3.86-1.66l-2.15-.42l3.87 1.67z"/>
<path fill="#424186" d="M209.63 390.35l-3.83-3.62l-2.23-.61l3.85 3.63z"/>
<path fill="#297b8e" d="M161.4 344.81l-3.82-3.75l-2.34-.71l3.83 3.76z"/>
<path fill="#472c7a" d="M231.03 403.76l-3.85-2.06l-2.18-.58l3.86 2.07z"/>
<path fill="#2ab07f" d="M113.16 299.13l-3.82-3.74l-2.44-.82l3.82 3.75z"/>
<path fill="#481b6d" d="M258.49 414.02l-3.88-1.44l-2.12 .02l3.88 1.45z"/>
<path fill="#460a5d" d="M311.8 423.55l-3.93-1.21l-2.04 1.32l3.93 1.22z"/>
<path fill="#460b5e" d="M301.9 422.44l-3.91-1.23l-2.06 1.16l3.92 1.23z"/>
<path fill="#2a778e" d="M165.23 348.56l-3.83-3.75l-2.33-.7l3.84 3.75z"/>
<path fill="#46075a" d="M321.69 424.51l-3.93-1.2l-2.03 1.45l3.94 1.21z"/>
<path fill="#470e61" d="M292.01 421.13l-3.9-1.25l-2.08 .96l3.92 1.25z"/>
<path fill="#433d84" d="M213.47 393.53l-3.84-3.18l-2.21-.6l3.84 3.19z"/>
<path fill="#26ad81" d="M116.98 302.87l-3.82-3.74l-2.44-.81l3.83 3.75z"/>
<path fill="#2c738e" d="M169.06 352.31l-3.83-3.75l-2.32-.7l3.83 3.76z"/>
<path fill="#471164" d="M282.13 419.57l-3.9-1.27l-2.08 .7l3.9 1.28z"/>
<path fill="#22a884" d="M120.8 306.61l-3.82-3.74l-2.43-.8l3.83 3.75z"/>
<path fill="#2e6f8e" d="M172.89 356.06l-3.83-3.75l-2.32-.69l3.84 3.76z"/>
<path fill="#481668" d="M272.25 417.7l-3.89-1.33l-2.1 .4l3.89 1.33z"/>
<path fill="#20a486" d="M124.62 310.35l-3.82-3.74l-2.42-.79l3.83 3.75z"/>
<path fill="#443983" d="M217.31 396.34l-3.84-2.81l-2.21-.59l3.85 2.81z"/>
<path fill="#482173" d="M248.62 411.1l-3.87-1.58l-2.14-.41l3.87 1.57z"/>
<path fill="#472a7a" d="M234.88 405.67l-3.85-1.91l-2.17-.57l3.86 1.91z"/>
<path fill="#2f6b8e" d="M176.72 359.81l-3.83-3.75l-2.31-.68l3.84 3.76z"/>
<path fill="#1fa188" d="M128.44 314.1l-3.82-3.75l-2.41-.78l3.83 3.75z"/>
<path fill="#31678e" d="M180.55 363.57l-3.83-3.76l-2.3-.67l3.84 3.77z"/>
<path fill="#481b6d" d="M262.37 415.42l-3.88-1.4l-2.12 .03l3.89 1.4z"/>
<path fill="#1e9c89" d="M132.27 317.84l-3.83-3.74l-2.4-.78l3.83 3.76z"/>
<path fill="#46085c" d="M315.73 424.76l-3.93-1.21l-2.04 1.33l3.93 1.21z"/>
<path fill="#460b5e" d="M305.83 423.66l-3.93-1.22l-2.05 1.16l3.93 1.23z"/>
<path fill="#33628d" d="M184.38 367.32l-3.83-3.75l-2.29-.66l3.84 3.76z"/>
<path fill="#470e61" d="M295.93 422.37l-3.92-1.24l-2.06 .96l3.92 1.24z"/>
<path fill="#453781" d="M221.15 398.86l-3.84-2.52l-2.2-.59l3.85 2.52z"/>
<path fill="#1f988b" d="M136.09 321.59l-3.82-3.75l-2.4-.76l3.83 3.75z"/>
<path fill="#471164" d="M286.03 420.84l-3.9-1.27l-2.08 .71l3.91 1.27z"/>
<path fill="#355e8d" d="M188.22 371.08l-3.84-3.76l-2.28-.65l3.85 3.77z"/>
<path fill="#20938c" d="M139.92 325.34l-3.83-3.75l-2.39-.76l3.84 3.76z"/>
<path fill="#482979" d="M238.74 407.44l-3.86-1.77l-2.16-.57l3.87 1.78z"/>
<path fill="#481668" d="M276.15 419l-3.9-1.3l-2.1 .4l3.91 1.31z"/>
<path fill="#375a8c" d="M192.05 374.84l-3.83-3.76l-2.27-.64l3.84 3.76z"/>
<path fill="#482071" d="M252.49 412.6l-3.87-1.5l-2.14-.42l3.88 1.51z"/>
<path fill="#21908d" d="M143.75 329.09l-3.83-3.75l-2.38-.75l3.83 3.76z"/>
<path fill="#3a548c" d="M195.89 378.6l-3.84-3.76l-2.26-.64l3.85 3.77z"/>
<path fill="#46337f" d="M225 401.12l-3.85-2.26l-2.19-.59l3.86 2.28z"/>
<path fill="#228c8d" d="M147.58 332.84l-3.83-3.75l-2.38-.74l3.84 3.76z"/>
<path fill="#481a6c" d="M266.26 416.77l-3.89-1.35l-2.11 .03l3.89 1.36z"/>
<path fill="#3c508b" d="M199.73 382.36l-3.84-3.76l-2.25-.63l3.85 3.77z"/>
<path fill="#24878e" d="M151.41 336.6l-3.83-3.76l-2.37-.73l3.84 3.76z"/>
<path fill="#460b5e" d="M309.76 424.88l-3.93-1.22l-2.05 1.17l3.93 1.22z"/>
<path fill="#46085c" d="M319.67 425.97l-3.94-1.21l-2.04 1.33l3.95 1.22z"/>
<path fill="#470e61" d="M299.85 423.6l-3.92-1.23l-2.06 .96l3.92 1.23z"/>
<path fill="#3e4a89" d="M203.57 386.12l-3.84-3.76l-2.24-.62l3.85 3.77z"/>
<path fill="#25838e" d="M155.24 340.35l-3.83-3.75l-2.36-.73l3.84 3.77z"/>
<path fill="#471164" d="M289.95 422.09l-3.92-1.25l-2.07 .71l3.92 1.25z"/>
<path fill="#482878" d="M242.61 409.11l-3.87-1.67l-2.15-.56l3.87 1.67z"/>
<path fill="#35b779" d="M106.9 294.57l-1.91-1.87l-1.23-.41l-1.24-.42l1.92 1.88l1.23 .41z"/>
<path fill="#404688" d="M207.42 389.75l-3.85-3.63l-2.23-.61l3.85 3.63z"/>
<path fill="#27808e" d="M159.07 344.11l-3.83-3.76l-2.35-.71l3.84 3.76z"/>
<path fill="#46327e" d="M228.86 403.19l-3.86-2.07l-2.18-.57l3.86 2.07z"/>
<path fill="#482071" d="M256.37 414.05l-3.88-1.45l-2.13-.41l3.89 1.45z"/>
<path fill="#2fb47c" d="M110.72 298.32l-3.82-3.75l-2.46-.82l3.83 3.76z"/>
<path fill="#481668" d="M280.05 420.28l-3.9-1.28l-2.09 .41l3.91 1.28z"/>
<path fill="#297b8e" d="M162.91 347.86l-3.84-3.75l-2.34-.71l3.85 3.77z"/>
<path fill="#424186" d="M211.26 392.94l-3.84-3.19l-2.23-.61l3.85 3.2z"/>
<path fill="#2ab07f" d="M114.55 302.07l-3.83-3.75l-2.45-.81l3.84 3.76z"/>
<path fill="#2a778e" d="M166.74 351.62l-3.83-3.76l-2.33-.69l3.84 3.76z"/>
<path fill="#481a6c" d="M270.15 418.1l-3.89-1.33l-2.11 .04l3.91 1.33z"/>
<path fill="#26ad81" d="M118.38 305.82l-3.83-3.75l-2.44-.8l3.83 3.75z"/>
<path fill="#2c738e" d="M170.58 355.38l-3.84-3.76l-2.32-.69l3.85 3.77z"/>
<path fill="#460b5e" d="M313.69 426.09l-3.93-1.21l-2.05 1.17l3.95 1.21z"/>
<path fill="#22a884" d="M122.21 309.57l-3.83-3.75l-2.44-.8l3.84 3.76z"/>
<path fill="#470e61" d="M303.78 424.83l-3.93-1.23l-2.06 .96l3.94 1.23z"/>
<path fill="#433e85" d="M215.11 395.75l-3.85-2.81l-2.22-.6l3.85 2.82z"/>
<path fill="#482677" d="M246.48 410.68l-3.87-1.57l-2.15-.56l3.88 1.58z"/>
<path fill="#472f7d" d="M232.72 405.1l-3.86-1.91l-2.18-.57l3.87 1.91z"/>
<path fill="#471164" d="M293.87 423.33l-3.92-1.24l-2.07 .71l3.92 1.25z"/>
<path fill="#2e6f8e" d="M174.42 359.14l-3.84-3.76l-2.31-.68l3.84 3.77z"/>
<path fill="#20a486" d="M126.04 313.32l-3.83-3.75l-2.43-.79l3.84 3.77z"/>
<path fill="#482071" d="M260.26 415.45l-3.89-1.4l-2.12-.41l3.9 1.4z"/>
<path fill="#2f6b8e" d="M178.26 362.91l-3.84-3.77l-2.31-.67l3.85 3.77z"/>
<path fill="#481668" d="M283.96 421.55l-3.91-1.27l-2.08 .41l3.91 1.27z"/>
<path fill="#1fa188" d="M129.87 317.08l-3.83-3.76l-2.42-.77l3.84 3.76z"/>
<path fill="#31678e" d="M182.1 366.67l-3.84-3.76l-2.3-.67l3.85 3.77z"/>
<path fill="#443b84" d="M218.96 398.27l-3.85-2.52l-2.22-.59l3.86 2.53z"/>
<path fill="#1e9c89" d="M133.7 320.83l-3.83-3.75l-2.41-.77l3.84 3.76z"/>
<path fill="#481a6c" d="M274.06 419.41l-3.91-1.31l-2.09 .04l3.91 1.31z"/>
<path fill="#33628d" d="M185.95 370.44l-3.85-3.77l-2.29-.66l3.86 3.78z"/>
<path fill="#1f988b" d="M137.54 324.59l-3.84-3.76l-2.4-.76l3.85 3.77z"/>
<path fill="#472e7c" d="M236.59 406.88l-3.87-1.78l-2.17-.57l3.87 1.78z"/>
<path fill="#460b5e" d="M317.64 427.31l-3.95-1.22l-2.03 1.17l3.95 1.22z"/>
<path fill="#355e8d" d="M189.79 374.2l-3.84-3.76l-2.28-.65l3.85 3.77z"/>
<path fill="#482677" d="M250.36 412.19l-3.88-1.51l-2.14-.55l3.89 1.51z"/>
<path fill="#470e61" d="M307.71 426.05l-3.93-1.22l-2.05 .96l3.94 1.23z"/>
<path fill="#20938c" d="M141.37 328.35l-3.83-3.76l-2.39-.75l3.84 3.77z"/>
<path fill="#471164" d="M297.79 424.56l-3.92-1.23l-2.07 .72l3.94 1.24z"/>
<path fill="#375a8c" d="M193.64 377.97l-3.85-3.77l-2.27-.64l3.85 3.78z"/>
<path fill="#443983" d="M222.82 400.55l-3.86-2.28l-2.21-.58l3.87 2.28z"/>
<path fill="#481f70" d="M264.15 416.81l-3.89-1.36l-2.11-.41l3.9 1.37z"/>
<path fill="#21908d" d="M145.21 332.11l-3.84-3.76l-2.38-.74l3.85 3.76z"/>
<path fill="#481467" d="M287.88 422.8l-3.92-1.25l-2.08 .41l3.93 1.26z"/>
<path fill="#3a548c" d="M197.49 381.74l-3.85-3.77l-2.27-.63l3.86 3.78z"/>
<path fill="#228c8d" d="M149.05 335.87l-3.84-3.76l-2.37-.74l3.84 3.77z"/>
<path fill="#3c508b" d="M201.34 385.51l-3.85-3.77l-2.26-.62l3.86 3.78z"/>
<path fill="#24878e" d="M152.89 339.64l-3.84-3.77l-2.37-.73l3.85 3.78z"/>
<path fill="#481a6c" d="M277.97 420.69l-3.91-1.28l-2.09 .04l3.91 1.29z"/>
<path fill="#472d7b" d="M240.46 408.55l-3.87-1.67l-2.17-.57l3.88 1.67z"/>
<path fill="#3bbb75" d="M104.44 293.75l-1.92-1.88l-1.23-.41l-1.24-.41l1.92 1.88l1.24 .41z"/>
<path fill="#3e4c8a" d="M205.19 389.14l-3.85-3.63l-2.25-.61l3.86 3.64z"/>
<path fill="#25838e" d="M156.73 343.4l-3.84-3.76l-2.36-.72l3.85 3.77z"/>
<path fill="#482576" d="M254.25 413.64l-3.89-1.45l-2.13-.55l3.89 1.45z"/>
<path fill="#453781" d="M226.68 402.62l-3.86-2.07l-2.2-.58l3.87 2.08z"/>
<path fill="#37b878" d="M108.27 297.51l-3.83-3.76l-2.47-.82l3.84 3.76z"/>
<path fill="#470e61" d="M311.66 427.26l-3.95-1.21l-2.04 .97l3.95 1.22z"/>
<path fill="#27808e" d="M160.58 347.17l-3.85-3.77l-2.35-.71l3.85 3.77z"/>
<path fill="#471164" d="M301.73 425.79l-3.94-1.23l-2.05 .73l3.94 1.23z"/>
<path fill="#3f4788" d="M209.04 392.34l-3.85-3.2l-2.24-.6l3.86 3.2z"/>
<path fill="#2fb47c" d="M112.11 301.27l-3.84-3.76l-2.46-.82l3.84 3.77z"/>
<path fill="#481f70" d="M268.06 418.14l-3.91-1.33l-2.1-.4l3.91 1.33z"/>
<path fill="#297b8e" d="M164.42 350.93l-3.84-3.76l-2.35-.71l3.86 3.78z"/>
<path fill="#2ab07f" d="M115.94 305.02l-3.83-3.75l-2.46-.81l3.85 3.77z"/>
<path fill="#481467" d="M291.8 424.05l-3.92-1.25l-2.07 .42l3.93 1.25z"/>
<path fill="#2a778e" d="M168.27 354.7l-3.85-3.77l-2.33-.69l3.85 3.78z"/>
<path fill="#26ad81" d="M119.78 308.78l-3.84-3.76l-2.44-.79l3.84 3.76z"/>
<path fill="#414487" d="M212.89 395.16l-3.85-2.82l-2.23-.6l3.86 2.83z"/>
<path fill="#472d7b" d="M244.34 410.13l-3.88-1.58l-2.16-.57l3.89 1.59z"/>
<path fill="#453581" d="M230.55 404.53l-3.87-1.91l-2.19-.57l3.87 1.91z"/>
<path fill="#481a6c" d="M281.88 421.96l-3.91-1.27l-2.09 .05l3.93 1.27z"/>
<path fill="#2c738e" d="M172.11 358.47l-3.84-3.77l-2.33-.68l3.86 3.77z"/>
<path fill="#22a884" d="M123.62 312.55l-3.84-3.77l-2.44-.79l3.85 3.77z"/>
<path fill="#482576" d="M258.15 415.04l-3.9-1.4l-2.13-.55l3.91 1.4z"/>
<path fill="#2e6f8e" d="M175.96 362.24l-3.85-3.77l-2.31-.68l3.86 3.78z"/>
<path fill="#20a486" d="M127.46 316.31l-3.84-3.76l-2.43-.79l3.85 3.78z"/>
<path fill="#470e61" d="M315.61 428.48l-3.95-1.22l-2.04 .98l3.96 1.22z"/>
<path fill="#2f6b8e" d="M179.81 366.01l-3.85-3.77l-2.3-.67l3.85 3.79z"/>
<path fill="#424086" d="M216.75 397.69l-3.86-2.53l-2.22-.59l3.87 2.53z"/>
<path fill="#471164" d="M305.67 427.02l-3.94-1.23l-2.05 .73l3.94 1.22z"/>
<path fill="#481f70" d="M271.97 419.45l-3.91-1.31l-2.1-.4l3.91 1.31z"/>
<path fill="#1fa188" d="M131.3 320.07l-3.84-3.76l-2.42-.77l3.85 3.77z"/>
<path fill="#31678e" d="M183.67 369.79l-3.86-3.78l-2.3-.65l3.86 3.78z"/>
<path fill="#481467" d="M295.74 425.29l-3.94-1.24l-2.06 .42l3.94 1.24z"/>
<path fill="#1e9c89" d="M135.15 323.84l-3.85-3.77l-2.41-.76l3.85 3.77z"/>
<path fill="#463480" d="M234.42 406.31l-3.87-1.78l-2.19-.57l3.88 1.79z"/>
<path fill="#33628d" d="M187.52 373.56l-3.85-3.77l-2.3-.65l3.87 3.78z"/>
<path fill="#472c7a" d="M248.23 411.64l-3.89-1.51l-2.15-.56l3.89 1.51z"/>
<path fill="#1f988b" d="M138.99 327.61l-3.84-3.77l-2.41-.76l3.86 3.78z"/>
<path fill="#481a6c" d="M285.81 423.22l-3.93-1.26l-2.07 .05l3.93 1.26z"/>
<path fill="#355e8d" d="M191.37 377.34l-3.85-3.78l-2.28-.64l3.86 3.79z"/>
<path fill="#433e85" d="M220.62 399.97l-3.87-2.28l-2.21-.59l3.87 2.29z"/>
<path fill="#482475" d="M262.05 416.41l-3.9-1.37l-2.12-.55l3.91 1.37z"/>
<path fill="#20938c" d="M142.84 331.37l-3.85-3.76l-2.39-.75l3.85 3.78z"/>
<path fill="#375a8c" d="M195.23 381.12l-3.86-3.78l-2.27-.63l3.86 3.78z"/>
<path fill="#21908d" d="M146.68 335.14l-3.84-3.77l-2.39-.73l3.86 3.77z"/>
<path fill="#471164" d="M309.62 428.24l-3.95-1.22l-2.05 .72l3.96 1.23z"/>
<path fill="#3a548c" d="M199.09 384.9l-3.86-3.78l-2.27-.63l3.87 3.79z"/>
<path fill="#481f70" d="M275.88 420.74l-3.91-1.29l-2.1-.4l3.93 1.29z"/>
<path fill="#228c8d" d="M150.53 338.92l-3.85-3.78l-2.37-.73l3.85 3.78z"/>
<path fill="#46337f" d="M238.3 407.98l-3.88-1.67l-2.18-.56l3.89 1.67z"/>
<path fill="#42be71" d="M101.97 292.93l-1.92-1.88l-1.24-.42l-1.24-.42l1.92 1.89l1.24 .41z"/>
<path fill="#481467" d="M299.68 426.52l-3.94-1.23l-2.06 .42l3.95 1.23z"/>
<path fill="#3c508b" d="M202.95 388.54l-3.86-3.64l-2.26-.62l3.87 3.65z"/>
<path fill="#24878e" d="M154.38 342.69l-3.85-3.77l-2.37-.73l3.86 3.79z"/>
<path fill="#472c7a" d="M252.12 413.09l-3.89-1.45l-2.15-.56l3.91 1.46z"/>
<path fill="#433d84" d="M224.49 402.05l-3.87-2.08l-2.21-.58l3.88 2.08z"/>
<path fill="#3dbc74" d="M105.81 296.69l-3.84-3.76l-2.48-.83l3.85 3.77z"/>
<path fill="#25838e" d="M158.23 346.46l-3.85-3.77l-2.36-.71l3.86 3.78z"/>
<path fill="#48186a" d="M289.74 424.47l-3.93-1.25l-2.07 .05l3.94 1.25z"/>
<path fill="#3e4c8a" d="M206.81 391.74l-3.86-3.2l-2.25-.61l3.87 3.21z"/>
<path fill="#37b878" d="M109.65 300.46l-3.84-3.77l-2.47-.82l3.85 3.78z"/>
<path fill="#482475" d="M265.96 417.74l-3.91-1.33l-2.11-.55l3.91 1.34z"/>
<path fill="#27808e" d="M162.09 350.24l-3.86-3.78l-2.35-.7l3.86 3.78z"/>
<path fill="#2fb47c" d="M113.5 304.23l-3.85-3.77l-2.46-.81l3.85 3.77z"/>
<path fill="#297b8e" d="M165.94 354.02l-3.85-3.78l-2.35-.7l3.87 3.79z"/>
<path fill="#2ab07f" d="M117.34 307.99l-3.84-3.76l-2.46-.81l3.86 3.78z"/>
<path fill="#481d6f" d="M279.81 422.01l-3.93-1.27l-2.08-.4l3.93 1.28z"/>
<path fill="#3f4889" d="M210.67 394.57l-3.86-2.83l-2.24-.6l3.87 2.84z"/>
<path fill="#471164" d="M313.58 429.46l-3.96-1.22l-2.04 .73l3.96 1.22z"/>
<path fill="#46327e" d="M242.19 409.57l-3.89-1.59l-2.17-.56l3.9 1.59z"/>
<path fill="#443a83" d="M228.36 403.96l-3.87-1.91l-2.2-.58l3.88 1.92z"/>
<path fill="#2a778e" d="M169.8 357.79l-3.86-3.77l-2.33-.69l3.86 3.78z"/>
<path fill="#26ad81" d="M121.19 311.76l-3.85-3.77l-2.44-.79l3.85 3.78z"/>
<path fill="#481467" d="M303.62 427.74l-3.94-1.22l-2.05 .42l3.95 1.23z"/>
<path fill="#472a7a" d="M256.03 414.49l-3.91-1.4l-2.13-.55l3.91 1.4z"/>
<path fill="#2c738e" d="M173.66 361.57l-3.86-3.78l-2.33-.68l3.87 3.79z"/>
<path fill="#22a884" d="M125.04 315.54l-3.85-3.78l-2.44-.78l3.86 3.78z"/>
<path fill="#2e6f8e" d="M177.51 365.36l-3.85-3.79l-2.32-.67l3.86 3.79z"/>
<path fill="#48186a" d="M293.68 425.71l-3.94-1.24l-2.06 .05l3.94 1.24z"/>
<path fill="#404688" d="M214.54 397.1l-3.87-2.53l-2.23-.59l3.87 2.53z"/>
<path fill="#482475" d="M269.87 419.05l-3.91-1.31l-2.11-.54l3.92 1.31z"/>
<path fill="#20a486" d="M128.89 319.31l-3.85-3.77l-2.43-.78l3.86 3.78z"/>
<path fill="#2f6b8e" d="M181.37 369.14l-3.86-3.78l-2.31-.67l3.87 3.79z"/>
<path fill="#1fa188" d="M132.74 323.08l-3.85-3.77l-2.42-.77l3.86 3.78z"/>
<path fill="#443983" d="M232.24 405.75l-3.88-1.79l-2.19-.57l3.89 1.78z"/>
<path fill="#31678e" d="M185.24 372.92l-3.87-3.78l-2.3-.66l3.87 3.8z"/>
<path fill="#46307e" d="M246.08 411.08l-3.89-1.51l-2.16-.56l3.9 1.51z"/>
<path fill="#481d6f" d="M283.74 423.27l-3.93-1.26l-2.08-.39l3.94 1.26z"/>
<path fill="#1e9c89" d="M136.6 326.86l-3.86-3.78l-2.41-.76l3.86 3.79z"/>
<path fill="#33628d" d="M189.1 376.71l-3.86-3.79l-2.3-.64l3.87 3.79z"/>
<path fill="#414487" d="M218.41 399.39l-3.87-2.29l-2.23-.59l3.88 2.29z"/>
<path fill="#472a7a" d="M259.94 415.86l-3.91-1.37l-2.13-.55l3.91 1.37z"/>
<path fill="#481467" d="M307.58 428.97l-3.96-1.23l-2.04 .43l3.96 1.23z"/>
<path fill="#1f988b" d="M140.45 330.64l-3.85-3.78l-2.41-.75l3.86 3.78z"/>
<path fill="#355e8d" d="M192.96 380.49l-3.86-3.78l-2.29-.64l3.88 3.8z"/>
<path fill="#20938c" d="M144.31 334.41l-3.86-3.77l-2.4-.75l3.87 3.79z"/>
<path fill="#48186a" d="M297.63 426.94l-3.95-1.23l-2.06 .05l3.95 1.24z"/>
<path fill="#482475" d="M273.8 420.34l-3.93-1.29l-2.1-.54l3.94 1.29z"/>
<path fill="#375a8c" d="M196.83 384.28l-3.87-3.79l-2.27-.62l3.87 3.79z"/>
<path fill="#21908d" d="M148.16 338.19l-3.85-3.78l-2.39-.73l3.86 3.79z"/>
<path fill="#453882" d="M236.13 407.42l-3.89-1.67l-2.18-.58l3.89 1.68z"/>
<path fill="#4cc26c" d="M99.49 292.1l-1.92-1.89l-1.25-.41l-1.25-.42l1.93 1.89l1.25 .41z"/>
<path fill="#3a548c" d="M200.7 387.93l-3.87-3.65l-2.27-.62l3.88 3.66z"/>
<path fill="#228c8d" d="M152.02 341.98l-3.86-3.79l-2.38-.72l3.87 3.79z"/>
<path fill="#46307e" d="M249.99 412.54l-3.91-1.46l-2.15-.56l3.91 1.46z"/>
<path fill="#424186" d="M222.29 401.47l-3.88-2.08l-2.22-.59l3.89 2.09z"/>
<path fill="#44bf70" d="M103.34 295.87l-3.85-3.77l-2.49-.83l3.86 3.78z"/>
<path fill="#481d6f" d="M287.68 424.52l-3.94-1.25l-2.07-.39l3.94 1.25z"/>
<path fill="#24878e" d="M155.88 345.76l-3.86-3.78l-2.37-.72l3.87 3.79z"/>
<path fill="#3b518b" d="M204.57 391.14l-3.87-3.21l-2.26-.61l3.87 3.21z"/>
<path fill="#3dbc74" d="M107.19 299.65l-3.85-3.78l-2.48-.82l3.86 3.78z"/>
<path fill="#472a7a" d="M263.85 417.2l-3.91-1.34l-2.13-.55l3.93 1.34z"/>
<path fill="#481467" d="M311.54 430.19l-3.96-1.22l-2.04 .43l3.97 1.22z"/>
<path fill="#25838e" d="M159.74 349.54l-3.86-3.78l-2.36-.71l3.87 3.79z"/>
<path fill="#37b878" d="M111.04 303.42l-3.85-3.77l-2.47-.82l3.86 3.79z"/>
<path fill="#27808e" d="M163.61 353.33l-3.87-3.79l-2.35-.7l3.87 3.8z"/>
<path fill="#2fb47c" d="M114.9 307.2l-3.86-3.78l-2.46-.8l3.86 3.78z"/>
<path fill="#48186a" d="M301.58 428.17l-3.95-1.23l-2.06 .06l3.96 1.23z"/>
<path fill="#482475" d="M277.73 421.62l-3.93-1.28l-2.09-.54l3.93 1.28z"/>
<path fill="#3d4d8a" d="M208.44 393.98l-3.87-2.84l-2.26-.61l3.88 2.85z"/>
<path fill="#453781" d="M240.03 409.01l-3.9-1.59l-2.18-.57l3.91 1.59z"/>
<path fill="#424086" d="M226.17 403.39l-3.88-1.92l-2.21-.58l3.89 1.92z"/>
<path fill="#297b8e" d="M167.47 357.11l-3.86-3.78l-2.35-.69l3.87 3.79z"/>
<path fill="#2ab07f" d="M118.75 310.98l-3.85-3.78l-2.46-.8l3.86 3.79z"/>
<path fill="#46307e" d="M253.9 413.94l-3.91-1.4l-2.15-.56l3.92 1.41z"/>
<path fill="#2a778e" d="M171.34 360.9l-3.87-3.79l-2.34-.68l3.88 3.8z"/>
<path fill="#26ad81" d="M122.61 314.76l-3.86-3.78l-2.45-.79l3.87 3.79z"/>
<path fill="#481d6f" d="M291.62 425.76l-3.94-1.24l-2.07-.39l3.95 1.25z"/>
<path fill="#2c738e" d="M175.2 364.69l-3.86-3.79l-2.33-.67l3.87 3.8z"/>
<path fill="#3e4a89" d="M212.31 396.51l-3.87-2.53l-2.25-.6l3.89 2.54z"/>
<path fill="#482979" d="M267.77 418.51l-3.92-1.31l-2.11-.55l3.93 1.32z"/>
<path fill="#22a884" d="M126.47 318.54l-3.86-3.78l-2.44-.78l3.87 3.79z"/>
<path fill="#2e6f8e" d="M179.07 368.48l-3.87-3.79l-2.32-.66l3.88 3.8z"/>
<path fill="#20a486" d="M130.33 322.32l-3.86-3.78l-2.43-.77l3.86 3.79z"/>
<path fill="#433e85" d="M230.06 405.17l-3.89-1.78l-2.2-.58l3.89 1.79z"/>
<path fill="#2f6b8e" d="M182.94 372.28l-3.87-3.8l-2.31-.65l3.88 3.8z"/>
<path fill="#453781" d="M243.93 410.52l-3.9-1.51l-2.17-.57l3.91 1.52z"/>
<path fill="#482475" d="M281.67 422.88l-3.94-1.26l-2.09-.54l3.95 1.27z"/>
<path fill="#48186a" d="M305.54 429.4l-3.96-1.23l-2.05 .06l3.97 1.23z"/>
<path fill="#1fa188" d="M134.19 326.11l-3.86-3.79l-2.43-.76l3.87 3.79z"/>
<path fill="#31678e" d="M186.81 376.07l-3.87-3.79l-2.3-.65l3.88 3.8z"/>
<path fill="#3f4889" d="M216.19 398.8l-3.88-2.29l-2.23-.59l3.88 2.29z"/>
<path fill="#472f7d" d="M257.81 415.31l-3.91-1.37l-2.14-.55l3.92 1.37z"/>
<path fill="#1e9c89" d="M138.05 329.89l-3.86-3.78l-2.42-.76l3.88 3.8z"/>
<path fill="#33628d" d="M190.69 379.87l-3.88-3.8l-2.29-.64l3.88 3.8z"/>
<path fill="#481d6f" d="M295.57 427l-3.95-1.24l-2.06-.38l3.96 1.23z"/>
<path fill="#1f988b" d="M141.92 333.68l-3.87-3.79l-2.4-.74l3.87 3.79z"/>
<path fill="#482979" d="M271.71 419.8l-3.94-1.29l-2.1-.54l3.93 1.29z"/>
<path fill="#355e8d" d="M194.56 383.66l-3.87-3.79l-2.29-.64l3.88 3.81z"/>
<path fill="#20938c" d="M145.78 337.47l-3.86-3.79l-2.4-.74l3.87 3.8z"/>
<path fill="#433d84" d="M233.95 406.85l-3.89-1.68l-2.2-.57l3.91 1.68z"/>
<path fill="#54c568" d="M97 291.27l-1.93-1.89l-1.25-.42l-1.26-.42l1.93 1.89l1.26 .42z"/>
<path fill="#375a8c" d="M198.44 387.32l-3.88-3.66l-2.28-.62l3.89 3.66z"/>
<path fill="#21908d" d="M149.65 341.26l-3.87-3.79l-2.39-.73l3.88 3.8z"/>
<path fill="#453581" d="M247.84 411.98l-3.91-1.46l-2.16-.56l3.91 1.46z"/>
<path fill="#404688" d="M220.08 400.89l-3.89-2.09l-2.23-.59l3.89 2.09z"/>
<path fill="#4ec36b" d="M100.86 295.05l-3.86-3.78l-2.51-.84l3.87 3.79z"/>
<path fill="#482374" d="M285.61 424.13l-3.94-1.25l-2.08-.53l3.95 1.25z"/>
<path fill="#48186a" d="M309.51 430.62l-3.97-1.22l-2.04 .06l3.98 1.23z"/>
<path fill="#228c8d" d="M153.52 345.05l-3.87-3.79l-2.38-.72l3.87 3.8z"/>
<path fill="#39558c" d="M202.31 390.53l-3.87-3.21l-2.27-.62l3.88 3.23z"/>
<path fill="#44bf70" d="M104.72 298.83l-3.86-3.78l-2.5-.83l3.87 3.79z"/>
<path fill="#472f7d" d="M261.74 416.65l-3.93-1.34l-2.13-.55l3.93 1.35z"/>
<path fill="#24878e" d="M157.39 348.84l-3.87-3.79l-2.38-.71l3.88 3.8z"/>
<path fill="#3dbc74" d="M108.58 302.62l-3.86-3.79l-2.49-.82l3.87 3.8z"/>
<path fill="#481d6f" d="M299.53 428.23l-3.96-1.23l-2.05-.39l3.97 1.24z"/>
<path fill="#25838e" d="M161.26 352.64l-3.87-3.8l-2.37-.7l3.88 3.8z"/>
<path fill="#37b878" d="M112.44 306.4l-3.86-3.78l-2.48-.81l3.87 3.79z"/>
<path fill="#482979" d="M275.64 421.08l-3.93-1.28l-2.11-.54l3.95 1.28z"/>
<path fill="#3b528b" d="M206.19 393.38l-3.88-2.85l-2.26-.6l3.89 2.85z"/>
<path fill="#433d84" d="M237.86 408.44l-3.91-1.59l-2.18-.57l3.9 1.6z"/>
<path fill="#404588" d="M223.97 402.81l-3.89-1.92l-2.23-.59l3.9 1.93z"/>
<path fill="#27808e" d="M165.13 356.43l-3.87-3.79l-2.36-.7l3.88 3.81z"/>
<path fill="#2fb47c" d="M116.3 310.19l-3.86-3.79l-2.47-.8l3.87 3.8z"/>
<path fill="#453581" d="M251.76 413.39l-3.92-1.41l-2.16-.56l3.93 1.42z"/>
<path fill="#297b8e" d="M169.01 360.23l-3.88-3.8l-2.35-.68l3.89 3.8z"/>
<path fill="#2ab07f" d="M120.17 313.98l-3.87-3.79l-2.46-.79l3.88 3.79z"/>
<path fill="#482374" d="M289.56 425.38l-3.95-1.25l-2.07-.53l3.96 1.25z"/>
<path fill="#2a778e" d="M172.88 364.03l-3.87-3.8l-2.34-.68l3.88 3.81z"/>
<path fill="#3c4f8a" d="M210.08 395.92l-3.89-2.54l-2.25-.6l3.89 2.54z"/>
<path fill="#472f7d" d="M265.67 417.97l-3.93-1.32l-2.13-.54l3.94 1.31z"/>
<path fill="#26ad81" d="M124.04 317.77l-3.87-3.79l-2.45-.79l3.87 3.8z"/>
<path fill="#2c738e" d="M176.76 367.83l-3.88-3.8l-2.33-.67l3.89 3.81z"/>
<path fill="#22a884" d="M127.9 321.56l-3.86-3.79l-2.45-.78l3.88 3.8z"/>
<path fill="#481d6f" d="M303.5 429.46l-3.97-1.23l-2.04-.38l3.98 1.23z"/>
<path fill="#414487" d="M227.86 404.6l-3.89-1.79l-2.22-.58l3.91 1.8z"/>
<path fill="#2e6f8e" d="M180.64 371.63l-3.88-3.8l-2.32-.66l3.88 3.81z"/>
<path fill="#443b84" d="M241.77 409.96l-3.91-1.52l-2.19-.56l3.92 1.52z"/>
<path fill="#482979" d="M279.59 422.35l-3.95-1.27l-2.09-.54l3.95 1.27z"/>
<path fill="#20a486" d="M131.77 325.35l-3.87-3.79l-2.43-.77l3.88 3.8z"/>
<path fill="#2f6b8e" d="M184.52 375.43l-3.88-3.8l-2.32-.65l3.89 3.81z"/>
<path fill="#3d4d8a" d="M213.96 398.21l-3.88-2.29l-2.25-.6l3.89 2.3z"/>
<path fill="#453581" d="M255.68 414.76l-3.92-1.37l-2.15-.55l3.93 1.37z"/>
<path fill="#1fa188" d="M135.65 329.15l-3.88-3.8l-2.42-.76l3.88 3.81z"/>
<path fill="#31678e" d="M188.4 379.23l-3.88-3.8l-2.31-.64l3.89 3.81z"/>
<path fill="#482374" d="M293.52 426.61l-3.96-1.23l-2.06-.53l3.97 1.24z"/>
<path fill="#1e9c89" d="M139.52 332.94l-3.87-3.79l-2.42-.75l3.88 3.8z"/>
<path fill="#472e7c" d="M269.6 419.26l-3.93-1.29l-2.12-.55l3.94 1.3z"/>
<path fill="#33628d" d="M192.28 383.04l-3.88-3.81l-2.3-.63l3.89 3.81z"/>
<path fill="#1f988b" d="M143.39 336.74l-3.87-3.8l-2.41-.74l3.88 3.81z"/>
<path fill="#414287" d="M231.77 406.28l-3.91-1.68l-2.2-.57l3.91 1.68z"/>
<path fill="#5cc863" d="M94.49 290.43l-1.93-1.89l-1.26-.42l-1.26-.42l1.94 1.89l1.26 .42z"/>
<path fill="#355e8d" d="M196.17 386.7l-3.89-3.66l-2.29-.63l3.9 3.68z"/>
<path fill="#20938c" d="M147.27 340.54l-3.88-3.8l-2.4-.73l3.88 3.8z"/>
<path fill="#443b84" d="M245.68 411.42l-3.91-1.46l-2.18-.56l3.92 1.46z"/>
<path fill="#481d6f" d="M307.48 430.69l-3.98-1.23l-2.03-.38l3.98 1.23z"/>
<path fill="#3e4c8a" d="M217.85 400.3l-3.89-2.09l-2.24-.59l3.9 2.1z"/>
<path fill="#56c667" d="M98.36 294.22l-3.87-3.79l-2.51-.84l3.87 3.8z"/>
<path fill="#482979" d="M283.54 423.6l-3.95-1.25l-2.09-.54l3.96 1.26z"/>
<path fill="#21908d" d="M151.14 344.34l-3.87-3.8l-2.4-.73l3.89 3.81z"/>
<path fill="#375a8c" d="M200.05 389.93l-3.88-3.23l-2.28-.61l3.89 3.23z"/>
<path fill="#4ec36b" d="M102.23 298.01l-3.87-3.79l-2.51-.83l3.88 3.8z"/>
<path fill="#463480" d="M259.61 416.11l-3.93-1.35l-2.14-.55l3.93 1.35z"/>
<path fill="#228c8d" d="M155.02 348.14l-3.88-3.8l-2.38-.72l3.89 3.81z"/>
<path fill="#44bf70" d="M106.1 301.81l-3.87-3.8l-2.5-.82l3.88 3.8z"/>
<path fill="#482374" d="M297.49 427.85l-3.97-1.24l-2.05-.52l3.97 1.24z"/>
<path fill="#24878e" d="M158.9 351.94l-3.88-3.8l-2.37-.71l3.88 3.81z"/>
<path fill="#3dbc74" d="M109.97 305.6l-3.87-3.79l-2.49-.82l3.88 3.81z"/>
<path fill="#472e7c" d="M273.55 420.54l-3.95-1.28l-2.11-.54l3.95 1.28z"/>
<path fill="#39568c" d="M203.94 392.78l-3.89-2.85l-2.27-.61l3.89 2.85z"/>
<path fill="#424186" d="M235.67 407.88l-3.9-1.6l-2.2-.57l3.91 1.6z"/>
<path fill="#3e4989" d="M221.75 402.23l-3.9-1.93l-2.23-.58l3.91 1.93z"/>
<path fill="#25838e" d="M162.78 355.75l-3.88-3.81l-2.37-.7l3.89 3.82z"/>
<path fill="#37b878" d="M113.84 309.4l-3.87-3.8l-2.48-.8l3.88 3.8z"/>
<path fill="#443a83" d="M249.61 412.84l-3.93-1.42l-2.17-.56l3.94 1.42z"/>
<path fill="#27808e" d="M166.67 359.55l-3.89-3.8l-2.36-.69l3.9 3.81z"/>
<path fill="#2fb47c" d="M117.72 313.19l-3.88-3.79l-2.47-.8l3.88 3.81z"/>
<path fill="#482979" d="M287.5 424.85l-3.96-1.25l-2.08-.53l3.97 1.25z"/>
<path fill="#297b8e" d="M170.55 363.36l-3.88-3.81l-2.35-.68l3.89 3.82z"/>
<path fill="#3a548c" d="M207.83 395.32l-3.89-2.54l-2.27-.61l3.9 2.56z"/>
<path fill="#463480" d="M263.55 417.42l-3.94-1.31l-2.14-.55l3.95 1.32z"/>
<path fill="#2ab07f" d="M121.59 316.99l-3.87-3.8l-2.47-.78l3.89 3.8z"/>
<path fill="#2a778e" d="M174.44 367.17l-3.89-3.81l-2.34-.67l3.89 3.81z"/>
<path fill="#26ad81" d="M125.47 320.79l-3.88-3.8l-2.45-.78l3.88 3.81z"/>
<path fill="#482374" d="M301.47 429.08l-3.98-1.23l-2.05-.52l3.98 1.23z"/>
<path fill="#3f4889" d="M225.66 404.03l-3.91-1.8l-2.22-.58l3.91 1.8z"/>
<path fill="#2c738e" d="M178.32 370.98l-3.88-3.81l-2.34-.67l3.9 3.82z"/>
<path fill="#424086" d="M239.59 409.4l-3.92-1.52l-2.19-.57l3.93 1.52z"/>
<path fill="#472e7c" d="M277.5 421.81l-3.95-1.27l-2.11-.54l3.96 1.27z"/>
<path fill="#22a884" d="M129.35 324.59l-3.88-3.8l-2.45-.77l3.89 3.81z"/>
<path fill="#2e6f8e" d="M182.21 374.79l-3.89-3.81l-2.32-.66l3.9 3.82z"/>
<path fill="#3b528b" d="M211.72 397.62l-3.89-2.3l-2.26-.59l3.9 2.3z"/>
<path fill="#443a83" d="M253.54 414.21l-3.93-1.37l-2.16-.56l3.93 1.38z"/>
<path fill="#20a486" d="M133.23 328.4l-3.88-3.81l-2.44-.76l3.89 3.81z"/>
<path fill="#2f6b8e" d="M186.1 378.6l-3.89-3.81l-2.31-.65l3.89 3.82z"/>
<path fill="#482979" d="M291.47 426.09l-3.97-1.24l-2.07-.53l3.97 1.24z"/>
<path fill="#1fa188" d="M137.11 332.2l-3.88-3.8l-2.43-.76l3.89 3.82z"/>
<path fill="#463480" d="M267.49 418.72l-3.94-1.3l-2.13-.54l3.95 1.3z"/>
<path fill="#31678e" d="M189.99 382.41l-3.89-3.81l-2.31-.64l3.91 3.83z"/>
<path fill="#1e9c89" d="M140.99 336.01l-3.88-3.81l-2.42-.74l3.89 3.81z"/>
<path fill="#3f4788" d="M229.57 405.71l-3.91-1.68l-2.22-.58l3.92 1.69z"/>
<path fill="#67cc5c" d="M91.98 289.59l-1.94-1.89l-1.26-.43l-1.27-.42l1.94 1.9l1.27 .42z"/>
<path fill="#33628d" d="M193.89 386.09l-3.9-3.68l-2.29-.62l3.9 3.68z"/>
<path fill="#1f988b" d="M144.87 339.81l-3.88-3.8l-2.41-.74l3.89 3.82z"/>
<path fill="#482374" d="M305.45 430.31l-3.98-1.23l-2.05-.52l3.99 1.23z"/>
<path fill="#424086" d="M243.51 410.86l-3.92-1.46l-2.18-.57l3.93 1.47z"/>
<path fill="#3c508b" d="M215.62 399.72l-3.9-2.1l-2.25-.59l3.91 2.1z"/>
<path fill="#5ec962" d="M95.85 293.39l-3.87-3.8l-2.53-.84l3.89 3.81z"/>
<path fill="#472e7c" d="M281.46 423.07l-3.96-1.26l-2.1-.54l3.97 1.26z"/>
<path fill="#20938c" d="M148.76 343.62l-3.89-3.81l-2.4-.72l3.89 3.81z"/>
<path fill="#355f8d" d="M197.78 389.32l-3.89-3.23l-2.29-.62l3.9 3.23z"/>
<path fill="#56c667" d="M99.73 297.19l-3.88-3.8l-2.51-.83l3.88 3.81z"/>
<path fill="#443a83" d="M257.47 415.56l-3.93-1.35l-2.16-.55l3.95 1.34z"/>
<path fill="#21908d" d="M152.65 347.43l-3.89-3.81l-2.4-.72l3.9 3.82z"/>
<path fill="#4ec36b" d="M103.61 300.99l-3.88-3.8l-2.51-.82l3.89 3.81z"/>
<path fill="#482979" d="M295.44 427.33l-3.97-1.24l-2.07-.53l3.98 1.24z"/>
<path fill="#228c8d" d="M156.53 351.24l-3.88-3.81l-2.39-.71l3.9 3.82z"/>
<path fill="#44bf70" d="M107.49 304.8l-3.88-3.81l-2.5-.81l3.89 3.81z"/>
<path fill="#463480" d="M271.44 420l-3.95-1.28l-2.12-.54l3.96 1.28z"/>
<path fill="#365c8d" d="M201.67 392.17l-3.89-2.85l-2.28-.62l3.9 2.87z"/>
<path fill="#404688" d="M233.48 407.31l-3.91-1.6l-2.21-.57l3.92 1.6z"/>
<path fill="#3c4f8a" d="M219.53 401.65l-3.91-1.93l-2.24-.59l3.91 1.94z"/>
<path fill="#24878e" d="M160.42 355.06l-3.89-3.82l-2.37-.7l3.89 3.82z"/>
<path fill="#3dbc74" d="M111.37 308.6l-3.88-3.8l-2.49-.81l3.89 3.81z"/>
<path fill="#424086" d="M247.45 412.28l-3.94-1.42l-2.17-.56l3.94 1.42z"/>
<path fill="#25838e" d="M164.32 358.87l-3.9-3.81l-2.37-.7l3.9 3.83z"/>
<path fill="#37b878" d="M115.25 312.41l-3.88-3.81l-2.48-.8l3.89 3.82z"/>
<path fill="#472e7c" d="M285.43 424.32l-3.97-1.25l-2.09-.54l3.98 1.26z"/>
<path fill="#27808e" d="M168.21 362.69l-3.89-3.82l-2.37-.68l3.91 3.82z"/>
<path fill="#38598c" d="M205.57 394.73l-3.9-2.56l-2.27-.6l3.91 2.55z"/>
<path fill="#443983" d="M261.42 416.88l-3.95-1.32l-2.14-.56l3.95 1.33z"/>
<path fill="#2fb47c" d="M119.14 316.21l-3.89-3.8l-2.47-.79l3.89 3.81z"/>
<path fill="#297b8e" d="M172.1 366.5l-3.89-3.81l-2.35-.68l3.9 3.83z"/>
<path fill="#2ab07f" d="M123.02 320.02l-3.88-3.81l-2.47-.78l3.89 3.82z"/>
<path fill="#482979" d="M299.42 428.56l-3.98-1.23l-2.06-.53l3.99 1.24z"/>
<path fill="#3d4d8a" d="M223.44 403.45l-3.91-1.8l-2.24-.58l3.92 1.8z"/>
<path fill="#2a778e" d="M176 370.32l-3.9-3.82l-2.34-.66l3.9 3.82z"/>
<path fill="#404688" d="M237.41 408.83l-3.93-1.52l-2.2-.57l3.93 1.52z"/>
<path fill="#463480" d="M275.4 421.27l-3.96-1.27l-2.11-.54l3.97 1.27z"/>
<path fill="#26ad81" d="M126.91 323.83l-3.89-3.81l-2.46-.77l3.9 3.82z"/>
<path fill="#2c738e" d="M179.9 374.14l-3.9-3.82l-2.34-.66l3.91 3.83z"/>
<path fill="#39568c" d="M209.47 397.03l-3.9-2.3l-2.26-.61l3.9 2.31z"/>
<path fill="#423f85" d="M251.38 413.66l-3.93-1.38l-2.17-.56l3.94 1.38z"/>
<path fill="#22a884" d="M130.8 327.64l-3.89-3.81l-2.45-.76l3.89 3.82z"/>
<path fill="#2e6f8e" d="M183.79 377.96l-3.89-3.82l-2.33-.65l3.91 3.83z"/>
<path fill="#472e7c" d="M289.4 425.56l-3.97-1.24l-2.08-.53l3.98 1.24z"/>
<path fill="#20a486" d="M134.69 331.46l-3.89-3.82l-2.45-.75l3.9 3.82z"/>
<path fill="#443983" d="M265.37 418.18l-3.95-1.3l-2.14-.55l3.96 1.3z"/>
<path fill="#2f6b8e" d="M187.7 381.79l-3.91-3.83l-2.31-.64l3.9 3.83z"/>
<path fill="#1fa188" d="M138.58 335.27l-3.89-3.81l-2.44-.75l3.9 3.82z"/>
<path fill="#3d4d8a" d="M227.36 405.14l-3.92-1.69l-2.23-.58l3.93 1.69z"/>
<path fill="#70cf57" d="M89.45 288.75l-1.94-1.9l-1.27-.43l-1.27-.42l1.94 1.9l1.27 .43z"/>
<path fill="#31678e" d="M191.6 385.47l-3.9-3.68l-2.32-.64l3.91 3.69z"/>
<path fill="#1e9c89" d="M142.47 339.09l-3.89-3.82l-2.43-.74l3.9 3.83z"/>
<path fill="#482878" d="M303.41 429.79l-3.99-1.23l-2.05-.52l4 1.23z"/>
<path fill="#404588" d="M241.34 410.3l-3.93-1.47l-2.2-.57l3.94 1.47z"/>
<path fill="#3a548c" d="M213.38 399.13l-3.91-2.1l-2.26-.6l3.92 2.11z"/>
<path fill="#69cd5b" d="M93.34 292.56l-3.89-3.81l-2.54-.85l3.9 3.82z"/>
<path fill="#46337f" d="M279.37 422.53l-3.97-1.26l-2.1-.54l3.97 1.27z"/>
<path fill="#1f988b" d="M146.36 342.9l-3.89-3.81l-2.42-.73l3.91 3.82z"/>
<path fill="#33638d" d="M195.5 388.7l-3.9-3.23l-2.31-.63l3.91 3.25z"/>
<path fill="#5ec962" d="M97.22 296.37l-3.88-3.81l-2.53-.84l3.89 3.82z"/>
<path fill="#423f85" d="M255.33 415l-3.95-1.34l-2.16-.56l3.95 1.35z"/>
<path fill="#20938c" d="M150.26 346.72l-3.9-3.82l-2.4-.72l3.9 3.83z"/>
<path fill="#56c667" d="M101.11 300.18l-3.89-3.81l-2.52-.83l3.9 3.82z"/>
<path fill="#472e7c" d="M293.38 426.8l-3.98-1.24l-2.07-.53l3.99 1.24z"/>
<path fill="#21908d" d="M154.16 350.54l-3.9-3.82l-2.4-.71l3.91 3.83z"/>
<path fill="#4ec36b" d="M105 303.99l-3.89-3.81l-2.51-.82l3.89 3.82z"/>
<path fill="#443983" d="M269.33 419.46l-3.96-1.28l-2.13-.55l3.97 1.29z"/>
<path fill="#34608d" d="M199.4 391.57l-3.9-2.87l-2.3-.61l3.91 2.87z"/>
<path fill="#3e4c8a" d="M231.28 406.74l-3.92-1.6l-2.22-.58l3.93 1.6z"/>
<path fill="#3a538b" d="M217.29 401.07l-3.91-1.94l-2.25-.59l3.92 1.94z"/>
<path fill="#228c8d" d="M158.05 354.36l-3.89-3.82l-2.39-.7l3.9 3.83z"/>
<path fill="#44bf70" d="M108.89 307.8l-3.89-3.81l-2.51-.81l3.9 3.82z"/>
<path fill="#404588" d="M245.28 411.72l-3.94-1.42l-2.19-.57l3.95 1.43z"/>
<path fill="#24878e" d="M161.95 358.19l-3.9-3.83l-2.38-.69l3.91 3.83z"/>
<path fill="#3dbc74" d="M112.78 311.62l-3.89-3.82l-2.5-.8l3.9 3.82z"/>
<path fill="#46337f" d="M283.35 423.79l-3.98-1.26l-2.1-.53l3.98 1.25z"/>
<path fill="#25838e" d="M165.86 362.01l-3.91-3.82l-2.37-.69l3.91 3.83z"/>
<path fill="#365d8d" d="M203.31 394.12l-3.91-2.55l-2.29-.61l3.92 2.56z"/>
<path fill="#423f85" d="M259.28 416.33l-3.95-1.33l-2.16-.55l3.96 1.33z"/>
<path fill="#37b878" d="M116.67 315.43l-3.89-3.81l-2.49-.8l3.9 3.82z"/>
<path fill="#27808e" d="M169.76 365.84l-3.9-3.83l-2.37-.68l3.91 3.84z"/>
<path fill="#2fb47c" d="M120.56 319.25l-3.89-3.82l-2.48-.79l3.9 3.83z"/>
<path fill="#472e7c" d="M297.37 428.04l-3.99-1.24l-2.06-.53l3.99 1.24z"/>
<path fill="#3b528b" d="M221.21 402.87l-3.92-1.8l-2.24-.59l3.93 1.8z"/>
<path fill="#297b8e" d="M173.66 369.66l-3.9-3.82l-2.36-.67l3.92 3.83z"/>
<path fill="#3e4a89" d="M235.21 408.26l-3.93-1.52l-2.21-.58l3.94 1.53z"/>
<path fill="#443983" d="M273.3 420.73l-3.97-1.27l-2.12-.54l3.97 1.27z"/>
<path fill="#2ab07f" d="M124.46 323.07l-3.9-3.82l-2.47-.78l3.91 3.83z"/>
<path fill="#2a778e" d="M177.57 373.49l-3.91-3.83l-2.34-.66l3.91 3.84z"/>
<path fill="#375b8d" d="M207.21 396.43l-3.9-2.31l-2.28-.6l3.91 2.31z"/>
<path fill="#404588" d="M249.22 413.1l-3.94-1.38l-2.18-.56l3.95 1.38z"/>
<path fill="#26ad81" d="M128.35 326.89l-3.89-3.82l-2.46-.77l3.9 3.83z"/>
<path fill="#2c738e" d="M181.48 377.32l-3.91-3.83l-2.34-.65l3.92 3.84z"/>
<path fill="#46337f" d="M287.33 425.03l-3.98-1.24l-2.1-.54l3.99 1.25z"/>
<path fill="#22a884" d="M132.25 330.71l-3.9-3.82l-2.45-.76l3.91 3.83z"/>
<path fill="#423f85" d="M263.24 417.63l-3.96-1.3l-2.15-.55l3.97 1.3z"/>
<path fill="#2e6f8e" d="M185.38 381.15l-3.9-3.83l-2.33-.64l3.91 3.84z"/>
<path fill="#20a486" d="M136.15 334.53l-3.9-3.82l-2.44-.75l3.91 3.83z"/>
<path fill="#3b518b" d="M225.14 404.56l-3.93-1.69l-2.23-.59l3.93 1.7z"/>
<path fill="#7ad151" d="M86.91 287.9l-1.94-1.9l-1.28-.43l-1.28-.43l1.95 1.91l1.28 .43z"/>
<path fill="#2f6b8e" d="M189.29 384.84l-3.91-3.69l-2.32-.63l3.92 3.7z"/>
<path fill="#1fa188" d="M140.05 338.36l-3.9-3.83l-2.43-.74l3.91 3.83z"/>
<path fill="#472e7c" d="M301.37 429.27l-4-1.23l-2.06-.53l4.01 1.24z"/>
<path fill="#3e4a89" d="M239.15 409.73l-3.94-1.47l-2.2-.57l3.94 1.48z"/>
<path fill="#375a8c" d="M211.13 398.54l-3.92-2.11l-2.27-.6l3.93 2.11z"/>
<path fill="#73d056" d="M90.81 291.72l-3.9-3.82l-2.55-.85l3.9 3.83z"/>
<path fill="#443983" d="M277.27 422l-3.97-1.27l-2.12-.54l3.98 1.27z"/>
<path fill="#1e9c89" d="M143.96 342.18l-3.91-3.82l-2.42-.74l3.91 3.84z"/>
<path fill="#31678e" d="M193.2 388.09l-3.91-3.25l-2.31-.62l3.92 3.25z"/>
<path fill="#69cd5b" d="M94.7 295.54l-3.89-3.82l-2.55-.84l3.91 3.82z"/>
<path fill="#414487" d="M253.17 414.45l-3.95-1.35l-2.17-.56l3.96 1.35z"/>
<path fill="#1f988b" d="M147.86 346.01l-3.9-3.83l-2.42-.72l3.91 3.83z"/>
<path fill="#5ec962" d="M98.6 299.36l-3.9-3.82l-2.53-.84l3.9 3.83z"/>
<path fill="#46337f" d="M291.32 426.27l-3.99-1.24l-2.09-.53l4 1.24z"/>
<path fill="#20938c" d="M151.77 349.84l-3.91-3.83l-2.41-.72l3.91 3.84z"/>
<path fill="#56c667" d="M102.49 303.18l-3.89-3.82l-2.53-.83l3.91 3.83z"/>
<path fill="#433e85" d="M267.21 418.92l-3.97-1.29l-2.14-.55l3.97 1.29z"/>
<path fill="#32648e" d="M197.11 390.96l-3.91-2.87l-2.3-.62l3.92 2.88z"/>
<path fill="#3c508b" d="M229.07 406.16l-3.93-1.6l-2.23-.58l3.94 1.61z"/>
<path fill="#38588c" d="M215.05 400.48l-3.92-1.94l-2.26-.6l3.92 1.95z"/>
<path fill="#21908d" d="M155.67 353.67l-3.9-3.83l-2.41-.71l3.92 3.84z"/>
<path fill="#4ec36b" d="M106.39 307l-3.9-3.82l-2.51-.82l3.9 3.83z"/>
<path fill="#3e4989" d="M243.1 411.16l-3.95-1.43l-2.2-.56l3.96 1.42z"/>
<path fill="#228c8d" d="M159.58 357.5l-3.91-3.83l-2.39-.7l3.92 3.84z"/>
<path fill="#44bf70" d="M110.29 310.82l-3.9-3.82l-2.51-.81l3.91 3.83z"/>
<path fill="#443983" d="M281.25 423.25l-3.98-1.25l-2.11-.54l3.99 1.25z"/>
<path fill="#24878e" d="M163.49 361.33l-3.91-3.83l-2.38-.69l3.92 3.84z"/>
<path fill="#33628d" d="M201.03 393.52l-3.92-2.56l-2.29-.61l3.92 2.56z"/>
<path fill="#414487" d="M257.13 415.78l-3.96-1.33l-2.16-.56l3.96 1.33z"/>
<path fill="#3dbc74" d="M114.19 314.64l-3.9-3.82l-2.5-.8l3.91 3.84z"/>
<path fill="#25838e" d="M167.4 365.17l-3.91-3.84l-2.37-.68l3.92 3.85z"/>
<path fill="#37b878" d="M118.09 318.47l-3.9-3.83l-2.49-.78l3.91 3.83z"/>
<path fill="#46337f" d="M295.31 427.51l-3.99-1.24l-2.08-.53l4 1.25z"/>
<path fill="#39568c" d="M218.98 402.28l-3.93-1.8l-2.26-.59l3.94 1.81z"/>
<path fill="#27808e" d="M171.32 369l-3.92-3.83l-2.36-.67l3.92 3.84z"/>
<path fill="#3c508b" d="M233.01 407.69l-3.94-1.53l-2.22-.57l3.94 1.53z"/>
<path fill="#433e85" d="M271.18 420.19l-3.97-1.27l-2.14-.55l3.99 1.28z"/>
<path fill="#2fb47c" d="M122 322.3l-3.91-3.83l-2.48-.78l3.91 3.84z"/>
<path fill="#297b8e" d="M175.23 372.84l-3.91-3.84l-2.36-.66l3.92 3.85z"/>
<path fill="#34608d" d="M204.94 395.83l-3.91-2.31l-2.29-.61l3.92 2.32z"/>
<path fill="#3e4989" d="M247.05 412.54l-3.95-1.38l-2.19-.57l3.95 1.39z"/>
<path fill="#2ab07f" d="M125.9 326.13l-3.9-3.83l-2.48-.77l3.92 3.83z"/>
<path fill="#2a778e" d="M179.15 376.68l-3.92-3.84l-2.35-.65l3.93 3.84z"/>
<path fill="#443983" d="M285.24 424.5l-3.99-1.25l-2.1-.54l4 1.26z"/>
<path fill="#26ad81" d="M129.81 329.96l-3.91-3.83l-2.46-.77l3.91 3.84z"/>
<path fill="#414487" d="M261.1 417.08l-3.97-1.3l-2.16-.56l3.98 1.31z"/>
<path fill="#2c738e" d="M183.06 380.52l-3.91-3.84l-2.34-.65l3.92 3.85z"/>
<path fill="#22a884" d="M133.72 333.79l-3.91-3.83l-2.46-.76l3.92 3.84z"/>
<path fill="#39558c" d="M222.91 403.98l-3.93-1.7l-2.25-.58l3.94 1.7z"/>
<path fill="#86d549" d="M84.36 287.05l-1.95-1.91l-1.28-.43l-1.28-.43l1.95 1.92l1.28 .43z"/>
<path fill="#2e6f8e" d="M186.98 384.22l-3.92-3.7l-2.33-.64l3.93 3.71z"/>
<path fill="#20a486" d="M137.63 337.62l-3.91-3.83l-2.45-.75l3.92 3.85z"/>
<path fill="#46337f" d="M299.32 428.75l-4.01-1.24l-2.07-.52l4.02 1.24z"/>
<path fill="#3c4f8a" d="M236.95 409.17l-3.94-1.48l-2.22-.57l3.95 1.48z"/>
<path fill="#355e8d" d="M208.87 397.94l-3.93-2.11l-2.28-.6l3.93 2.12z"/>
<path fill="#7cd250" d="M88.26 290.88l-3.9-3.83l-2.56-.85l3.91 3.83z"/>
<path fill="#433e85" d="M275.16 421.46l-3.98-1.27l-2.12-.54l3.98 1.26z"/>
<path fill="#1fa188" d="M141.54 341.46l-3.91-3.84l-2.44-.73l3.92 3.84z"/>
<path fill="#2f6c8e" d="M190.9 387.47l-3.92-3.25l-2.32-.63l3.92 3.26z"/>
<path fill="#73d056" d="M92.17 294.7l-3.91-3.82l-2.55-.85l3.91 3.84z"/>
<path fill="#3e4989" d="M251.01 413.89l-3.96-1.35l-2.19-.56l3.97 1.35z"/>
<path fill="#1e9c89" d="M145.45 345.29l-3.91-3.83l-2.43-.73l3.92 3.84z"/>
<path fill="#69cd5b" d="M96.07 298.53l-3.9-3.83l-2.55-.83l3.91 3.83z"/>
<path fill="#443983" d="M289.24 425.74l-4-1.24l-2.09-.53l4 1.24z"/>
<path fill="#1f988b" d="M149.36 349.13l-3.91-3.84l-2.42-.72l3.92 3.85z"/>
<path fill="#5ec962" d="M99.98 302.36l-3.91-3.83l-2.54-.83l3.92 3.84z"/>
<path fill="#414487" d="M265.07 418.37l-3.97-1.29l-2.15-.55l3.98 1.29z"/>
<path fill="#30698e" d="M194.82 390.35l-3.92-2.88l-2.32-.62l3.93 2.88z"/>
<path fill="#3a548c" d="M226.85 405.59l-3.94-1.61l-2.24-.58l3.94 1.61z"/>
<path fill="#365d8d" d="M212.79 399.89l-3.92-1.95l-2.28-.59l3.94 1.95z"/>
<path fill="#20938c" d="M153.28 352.97l-3.92-3.84l-2.41-.71l3.93 3.85z"/>
<path fill="#56c667" d="M103.88 306.19l-3.9-3.83l-2.53-.82l3.91 3.84z"/>
<path fill="#3c4f8a" d="M240.91 410.59l-3.96-1.42l-2.21-.57l3.96 1.42z"/>
<path fill="#21908d" d="M157.2 356.81l-3.92-3.84l-2.4-.7l3.92 3.85z"/>
<path fill="#4ec36b" d="M107.79 310.02l-3.91-3.83l-2.52-.81l3.92 3.84z"/>
<path fill="#433e85" d="M279.15 422.71l-3.99-1.25l-2.12-.55l4 1.26z"/>
<path fill="#228c8d" d="M161.12 360.65l-3.92-3.84l-2.4-.69l3.93 3.85z"/>
<path fill="#31668e" d="M198.74 392.91l-3.92-2.56l-2.31-.62l3.93 2.57z"/>
<path fill="#3f4889" d="M254.97 415.22l-3.96-1.33l-2.18-.56l3.98 1.33z"/>
<path fill="#44bf70" d="M111.7 313.86l-3.91-3.84l-2.51-.8l3.92 3.84z"/>
<path fill="#24878e" d="M165.04 364.5l-3.92-3.85l-2.39-.68l3.93 3.85z"/>
<path fill="#3dbc74" d="M115.61 317.69l-3.91-3.83l-2.5-.8l3.92 3.84z"/>
<path fill="#443983" d="M293.24 426.99l-4-1.25l-2.09-.53l4.01 1.25z"/>
<path fill="#375b8d" d="M216.73 401.7l-3.94-1.81l-2.26-.59l3.94 1.81z"/>
<path fill="#25838e" d="M168.96 368.34l-3.92-3.84l-2.38-.68l3.93 3.85z"/>
<path fill="#3a548c" d="M230.79 407.12l-3.94-1.53l-2.24-.58l3.96 1.53z"/>
<path fill="#414487" d="M269.06 419.65l-3.99-1.28l-2.14-.55l3.99 1.28z"/>
<path fill="#37b878" d="M119.52 321.53l-3.91-3.84l-2.49-.79l3.92 3.85z"/>
<path fill="#27808e" d="M172.88 372.19l-3.92-3.85l-2.37-.67l3.93 3.86z"/>
<path fill="#32648e" d="M202.66 395.23l-3.92-2.32l-2.3-.61l3.93 2.33z"/>
<path fill="#3d4e8a" d="M244.86 411.98l-3.95-1.39l-2.21-.57l3.97 1.39z"/>
<path fill="#2fb47c" d="M123.44 325.36l-3.92-3.83l-2.48-.78l3.92 3.85z"/>
<path fill="#297b8e" d="M176.81 376.03l-3.93-3.84l-2.36-.66l3.93 3.85z"/>
<path fill="#433e85" d="M283.15 423.97l-4-1.26l-2.11-.54l4 1.26z"/>
<path fill="#2ab07f" d="M127.35 329.2l-3.91-3.84l-2.48-.76l3.93 3.84z"/>
<path fill="#3f4889" d="M258.95 416.53l-3.98-1.31l-2.16-.56l3.98 1.31z"/>
<path fill="#2a778e" d="M180.73 379.88l-3.92-3.85l-2.36-.65l3.94 3.86z"/>
<path fill="#26ad81" d="M131.27 333.04l-3.92-3.84l-2.46-.76l3.92 3.85z"/>
<path fill="#375b8d" d="M220.67 403.4l-3.94-1.7l-2.26-.59l3.95 1.7z"/>
<path fill="#90d743" d="M81.8 286.2l-1.95-1.92l-1.29-.43l-1.29-.43l1.96 1.92l1.29 .43z"/>
<path fill="#2c738e" d="M184.66 383.59l-3.93-3.71l-2.34-.64l3.93 3.72z"/>
<path fill="#22a884" d="M135.19 336.89l-3.92-3.85l-2.46-.75l3.93 3.85z"/>
<path fill="#443983" d="M297.26 428.23l-4.02-1.24l-2.08-.53l4.02 1.24z"/>
<path fill="#3a538b" d="M234.74 408.6l-3.95-1.48l-2.22-.58l3.96 1.48z"/>
<path fill="#33628d" d="M206.59 397.35l-3.93-2.12l-2.29-.6l3.94 2.12z"/>
<path fill="#89d548" d="M85.71 290.03l-3.91-3.83l-2.57-.86l3.92 3.84z"/>
<path fill="#414487" d="M273.04 420.91l-3.98-1.26l-2.14-.55l4 1.27z"/>
<path fill="#20a486" d="M139.11 340.73l-3.92-3.84l-2.45-.75l3.93 3.86z"/>
<path fill="#2d708e" d="M188.58 386.85l-3.92-3.26l-2.34-.63l3.94 3.26z"/>
<path fill="#7cd250" d="M89.62 293.87l-3.91-3.84l-2.56-.85l3.92 3.84z"/>
<path fill="#3d4e8a" d="M248.83 413.33l-3.97-1.35l-2.19-.57l3.98 1.36z"/>
<path fill="#1fa188" d="M143.03 344.57l-3.92-3.84l-2.44-.73l3.93 3.85z"/>
<path fill="#73d056" d="M93.53 297.7l-3.91-3.83l-2.55-.85l3.92 3.85z"/>
<path fill="#433e85" d="M287.15 425.21l-4-1.24l-2.11-.54l4.02 1.25z"/>
<path fill="#1e9c89" d="M146.95 348.42l-3.92-3.85l-2.43-.72l3.93 3.86z"/>
<path fill="#69cd5b" d="M97.45 301.54l-3.92-3.84l-2.54-.83l3.92 3.85z"/>
<path fill="#3f4889" d="M262.93 417.82l-3.98-1.29l-2.16-.56l3.99 1.3z"/>
<path fill="#2e6d8e" d="M192.51 389.73l-3.93-2.88l-2.32-.63l3.93 2.89z"/>
<path fill="#375a8c" d="M224.61 405.01l-3.94-1.61l-2.25-.59l3.95 1.61z"/>
<path fill="#34618d" d="M210.53 399.3l-3.94-1.95l-2.28-.6l3.94 1.95z"/>
<path fill="#1f988b" d="M150.88 352.27l-3.93-3.85l-2.42-.71l3.93 3.85z"/>
<path fill="#5ec962" d="M101.36 305.38l-3.91-3.84l-2.54-.82l3.92 3.84z"/>
<path fill="#3a538b" d="M238.7 410.02l-3.96-1.42l-2.21-.58l3.96 1.43z"/>
<path fill="#20938c" d="M154.8 356.12l-3.92-3.85l-2.42-.71l3.94 3.86z"/>
<path fill="#56c667" d="M105.28 309.22l-3.92-3.84l-2.53-.82l3.93 3.85z"/>
<path fill="#414287" d="M277.04 422.17l-4-1.26l-2.12-.54l4 1.26z"/>
<path fill="#21908d" d="M158.73 359.97l-3.93-3.85l-2.4-.7l3.93 3.86z"/>
<path fill="#306a8e" d="M196.44 392.3l-3.93-2.57l-2.32-.62l3.94 2.58z"/>
<path fill="#3d4e8a" d="M252.81 414.66l-3.98-1.33l-2.18-.56l3.98 1.33z"/>
<path fill="#4ec36b" d="M109.2 313.06l-3.92-3.84l-2.52-.81l3.92 3.85z"/>
<path fill="#228c8d" d="M162.66 363.82l-3.93-3.85l-2.4-.69l3.94 3.86z"/>
<path fill="#44bf70" d="M113.12 316.9l-3.92-3.84l-2.52-.8l3.93 3.86z"/>
<path fill="#433e85" d="M291.16 426.46l-4.01-1.25l-2.09-.53l4.01 1.24z"/>
<path fill="#34608d" d="M214.47 401.11l-3.94-1.81l-2.28-.6l3.95 1.82z"/>
<path fill="#24878e" d="M166.59 367.67l-3.93-3.85l-2.39-.68l3.94 3.86z"/>
<path fill="#38598c" d="M228.57 406.54l-3.96-1.53l-2.24-.59l3.96 1.54z"/>
<path fill="#3f4889" d="M266.92 419.1l-3.99-1.28l-2.15-.55l3.99 1.28z"/>
<path fill="#3dbc74" d="M117.04 320.75l-3.92-3.85l-2.51-.78l3.93 3.85z"/>
<path fill="#25838e" d="M170.52 371.53l-3.93-3.86l-2.38-.67l3.94 3.87z"/>
<path fill="#31688e" d="M200.37 394.63l-3.93-2.33l-2.31-.61l3.94 2.33z"/>
<path fill="#3a538b" d="M242.67 411.41l-3.97-1.39l-2.21-.57l3.98 1.39z"/>
<path fill="#37b878" d="M120.96 324.6l-3.92-3.85l-2.5-.78l3.93 3.86z"/>
<path fill="#27808e" d="M174.45 375.38l-3.93-3.85l-2.37-.66l3.94 3.86z"/>
<path fill="#414287" d="M281.04 423.43l-4-1.26l-2.12-.54l4.01 1.26z"/>
<path fill="#2fb47c" d="M124.89 328.44l-3.93-3.84l-2.49-.77l3.94 3.85z"/>
<path fill="#3d4e8a" d="M256.79 415.97l-3.98-1.31l-2.18-.56l3.99 1.32z"/>
<path fill="#297b8e" d="M178.39 379.24l-3.94-3.86l-2.36-.65l3.95 3.87z"/>
<path fill="#2ab07f" d="M128.81 332.29l-3.92-3.85l-2.48-.76l3.93 3.86z"/>
<path fill="#355f8d" d="M218.42 402.81l-3.95-1.7l-2.27-.59l3.96 1.7z"/>
<path fill="#9bd93c" d="M79.23 285.34l-1.96-1.92l-1.29-.43l-1.3-.44l1.96 1.93l1.3 .43z"/>
<path fill="#2a778e" d="M182.32 382.96l-3.93-3.72l-2.35-.64l3.94 3.72z"/>
<path fill="#26ad81" d="M132.74 336.14l-3.93-3.85l-2.47-.75l3.94 3.86z"/>
<path fill="#433e85" d="M295.18 427.7l-4.02-1.24l-2.09-.54l4.03 1.25z"/>
<path fill="#38598c" d="M232.53 408.02l-3.96-1.48l-2.24-.58l3.97 1.49z"/>
<path fill="#31678e" d="M204.31 396.75l-3.94-2.12l-2.3-.61l3.95 2.12z"/>
<path fill="#93d741" d="M83.15 289.18l-3.92-3.84l-2.59-.86l3.93 3.85z"/>
<path fill="#3f4889" d="M270.92 420.37l-4-1.27l-2.15-.55l4.01 1.27z"/>
<path fill="#22a884" d="M136.67 340l-3.93-3.86l-2.46-.74l3.93 3.86z"/>
<path fill="#2c738e" d="M186.26 386.22l-3.94-3.26l-2.34-.64l3.94 3.28z"/>
<path fill="#89d548" d="M87.07 293.02l-3.92-3.84l-2.58-.85l3.93 3.85z"/>
<path fill="#3b528b" d="M246.65 412.77l-3.98-1.36l-2.2-.57l3.98 1.36z"/>
<path fill="#20a486" d="M140.6 343.85l-3.93-3.85l-2.46-.74l3.94 3.86z"/>
<path fill="#7cd250" d="M90.99 296.87l-3.92-3.85l-2.57-.84l3.93 3.85z"/>
<path fill="#414287" d="M285.06 424.68l-4.02-1.25l-2.11-.54l4.02 1.25z"/>
<path fill="#1fa188" d="M144.53 347.71l-3.93-3.86l-2.45-.73l3.94 3.87z"/>
<path fill="#73d056" d="M94.91 300.72l-3.92-3.85l-2.56-.84l3.93 3.86z"/>
<path fill="#3d4d8a" d="M260.78 417.27l-3.99-1.3l-2.17-.55l3.99 1.29z"/>
<path fill="#2d718e" d="M190.19 389.11l-3.93-2.89l-2.34-.62l3.94 2.89z"/>
<path fill="#355e8d" d="M222.37 404.42l-3.95-1.61l-2.26-.59l3.96 1.62z"/>
<path fill="#32658e" d="M208.25 398.7l-3.94-1.95l-2.29-.61l3.95 1.96z"/>
<path fill="#1e9c89" d="M148.46 351.56l-3.93-3.85l-2.44-.72l3.95 3.86z"/>
<path fill="#69cd5b" d="M98.83 304.56l-3.92-3.84l-2.55-.83l3.93 3.86z"/>
<path fill="#38588c" d="M236.49 409.45l-3.96-1.43l-2.23-.57l3.97 1.43z"/>
<path fill="#1f988b" d="M152.4 355.42l-3.94-3.86l-2.42-.71l3.94 3.87z"/>
<path fill="#5ec962" d="M102.76 308.41l-3.93-3.85l-2.54-.81l3.93 3.85z"/>
<path fill="#3f4889" d="M274.92 421.63l-4-1.26l-2.14-.55l4.01 1.27z"/>
<path fill="#20938c" d="M156.33 359.28l-3.93-3.86l-2.42-.7l3.94 3.87z"/>
<path fill="#2e6f8e" d="M194.13 391.69l-3.94-2.58l-2.33-.62l3.95 2.59z"/>
<path fill="#3b528b" d="M250.63 414.1l-3.98-1.33l-2.2-.57l3.99 1.34z"/>
<path fill="#56c667" d="M106.68 312.26l-3.92-3.85l-2.54-.81l3.94 3.86z"/>
<path fill="#21908d" d="M160.27 363.14l-3.94-3.86l-2.41-.69l3.95 3.87z"/>
<path fill="#4ec36b" d="M110.61 316.12l-3.93-3.86l-2.52-.8l3.94 3.86z"/>
<path fill="#414287" d="M289.07 425.92l-4.01-1.24l-2.11-.54l4.03 1.25z"/>
<path fill="#32648e" d="M212.2 400.52l-3.95-1.82l-2.28-.6l3.95 1.82z"/>
<path fill="#228c8d" d="M164.21 367l-3.94-3.86l-2.4-.68l3.95 3.87z"/>
<path fill="#355e8d" d="M226.33 405.96l-3.96-1.54l-2.25-.58l3.96 1.54z"/>
<path fill="#3d4d8a" d="M264.77 418.55l-3.99-1.28l-2.17-.56l4.01 1.29z"/>
<path fill="#44bf70" d="M114.54 319.97l-3.93-3.85l-2.51-.8l3.94 3.87z"/>
<path fill="#24878e" d="M168.15 370.87l-3.94-3.87l-2.39-.67l3.95 3.87z"/>
<path fill="#2e6d8e" d="M198.07 394.02l-3.94-2.33l-2.32-.61l3.95 2.33z"/>
<path fill="#38588c" d="M240.47 410.84l-3.98-1.39l-2.22-.57l3.98 1.39z"/>
<path fill="#3dbc74" d="M118.47 323.83l-3.93-3.86l-2.5-.78l3.94 3.86z"/>
<path fill="#25838e" d="M172.09 374.73l-3.94-3.86l-2.38-.67l3.95 3.88z"/>
<path fill="#3f4889" d="M278.93 422.89l-4.01-1.26l-2.13-.54l4.02 1.26z"/>
<path fill="#37b878" d="M122.41 327.68l-3.94-3.85l-2.49-.78l3.94 3.87z"/>
<path fill="#3b528b" d="M254.62 415.42l-3.99-1.32l-2.19-.56l3.99 1.32z"/>
<path fill="#27808e" d="M176.04 378.6l-3.95-3.87l-2.37-.65l3.95 3.87z"/>
<path fill="#2fb47c" d="M126.34 331.54l-3.93-3.86l-2.49-.76l3.94 3.86z"/>
<path fill="#33638d" d="M216.16 402.22l-3.96-1.7l-2.28-.6l3.96 1.71z"/>
<path fill="#a8db34" d="M76.64 284.48l-1.96-1.93l-1.3-.43l-1.3-.44l1.96 1.93l1.3 .43z"/>
<path fill="#297b8e" d="M179.98 382.32l-3.94-3.72l-2.37-.65l3.95 3.74z"/>
<path fill="#2ab07f" d="M130.28 335.4l-3.94-3.86l-2.48-.76l3.94 3.87z"/>
<path fill="#414287" d="M293.1 427.17l-4.03-1.25l-2.09-.53l4.03 1.24z"/>
<path fill="#365d8d" d="M230.3 407.45l-3.97-1.49l-2.25-.58l3.98 1.49z"/>
<path fill="#2f6b8e" d="M202.02 396.14l-3.95-2.12l-2.31-.61l3.95 2.13z"/>
<path fill="#a0da39" d="M80.57 288.33l-3.93-3.85l-2.6-.87l3.94 3.86z"/>
<path fill="#3d4d8a" d="M268.78 419.82l-4.01-1.27l-2.15-.55l4.01 1.27z"/>
<path fill="#26ad81" d="M134.21 339.26l-3.93-3.86l-2.48-.75l3.95 3.87z"/>
<path fill="#2a788e" d="M183.92 385.6l-3.94-3.28l-2.36-.63l3.95 3.28z"/>
<path fill="#93d741" d="M84.5 292.18l-3.93-3.85l-2.59-.86l3.94 3.86z"/>
<path fill="#38588c" d="M244.45 412.2l-3.98-1.36l-2.22-.57l3.99 1.37z"/>
<path fill="#22a884" d="M138.15 343.12l-3.94-3.86l-2.46-.74l3.95 3.87z"/>
<path fill="#89d548" d="M88.43 296.03l-3.93-3.85l-2.58-.85l3.93 3.86z"/>
<path fill="#3f4889" d="M282.95 424.14l-4.02-1.25l-2.12-.54l4.02 1.25z"/>
<path fill="#20a486" d="M142.09 346.99l-3.94-3.87l-2.45-.73l3.95 3.88z"/>
<path fill="#7cd250" d="M92.36 299.89l-3.93-3.86l-2.58-.84l3.94 3.87z"/>
<path fill="#3b528b" d="M258.61 416.71l-3.99-1.29l-2.19-.56l4.01 1.3z"/>
<path fill="#2b758e" d="M187.86 388.49l-3.94-2.89l-2.35-.63l3.96 2.9z"/>
<path fill="#33638d" d="M220.12 403.84l-3.96-1.62l-2.28-.59l3.97 1.62z"/>
<path fill="#306a8e" d="M205.97 398.1l-3.95-1.96l-2.31-.6l3.96 1.96z"/>
<path fill="#1fa188" d="M146.04 350.85l-3.95-3.86l-2.44-.72l3.95 3.87z"/>
<path fill="#73d056" d="M96.29 303.75l-3.93-3.86l-2.57-.83l3.95 3.86z"/>
<path fill="#365d8d" d="M234.27 408.88l-3.97-1.43l-2.24-.58l3.98 1.43z"/>
<path fill="#1e9c89" d="M149.98 354.72l-3.94-3.87l-2.44-.71l3.95 3.88z"/>
<path fill="#69cd5b" d="M100.22 307.6l-3.93-3.85l-2.55-.83l3.94 3.87z"/>
<path fill="#3d4d8a" d="M272.79 421.09l-4.01-1.27l-2.15-.55l4.02 1.27z"/>
<path fill="#1f988b" d="M153.92 358.59l-3.94-3.87l-2.43-.7l3.95 3.87z"/>
<path fill="#2c728e" d="M191.81 391.08l-3.95-2.59l-2.33-.62l3.95 2.59z"/>
<path fill="#39568c" d="M248.44 413.54l-3.99-1.34l-2.21-.56l4 1.34z"/>
<path fill="#5ec962" d="M104.16 311.46l-3.94-3.86l-2.54-.81l3.94 3.87z"/>
<path fill="#20938c" d="M157.87 362.46l-3.95-3.87l-2.42-.7l3.96 3.88z"/>
<path fill="#56c667" d="M108.1 315.32l-3.94-3.86l-2.54-.8l3.95 3.87z"/>
<path fill="#3f4889" d="M286.98 425.39l-4.03-1.25l-2.12-.54l4.04 1.25z"/>
<path fill="#30698e" d="M209.92 399.92l-3.95-1.82l-2.3-.6l3.96 1.82z"/>
<path fill="#21908d" d="M161.82 366.33l-3.95-3.87l-2.41-.69l3.96 3.88z"/>
<path fill="#33628d" d="M224.08 405.38l-3.96-1.54l-2.27-.59l3.98 1.55z"/>
<path fill="#3b528b" d="M262.62 418l-4.01-1.29l-2.17-.55l4.01 1.28z"/>
<path fill="#4ec36b" d="M112.04 319.19l-3.94-3.87l-2.53-.79l3.95 3.87z"/>
<path fill="#228c8d" d="M165.77 370.2l-3.95-3.87l-2.4-.68l3.95 3.89z"/>
<path fill="#2d718e" d="M195.76 393.41l-3.95-2.33l-2.33-.62l3.95 2.34z"/>
<path fill="#365c8d" d="M238.25 410.27l-3.98-1.39l-2.23-.58l3.99 1.4z"/>
<path fill="#44bf70" d="M115.98 323.05l-3.94-3.86l-2.52-.79l3.94 3.87z"/>
<path fill="#24878e" d="M169.72 374.08l-3.95-3.88l-2.4-.66l3.96 3.88z"/>
<path fill="#3d4d8a" d="M276.81 422.35l-4.02-1.26l-2.14-.55l4.02 1.26z"/>
<path fill="#3dbc74" d="M119.92 326.92l-3.94-3.87l-2.52-.78l3.96 3.88z"/>
<path fill="#39568c" d="M252.43 414.86l-3.99-1.32l-2.2-.56l4 1.31z"/>
<path fill="#25838e" d="M173.67 377.95l-3.95-3.87l-2.39-.66l3.96 3.88z"/>
<path fill="#37b878" d="M123.86 330.78l-3.94-3.86l-2.5-.77l3.95 3.87z"/>
<path fill="#31688e" d="M213.88 401.63l-3.96-1.71l-2.29-.6l3.97 1.72z"/>
<path fill="#b2dd2d" d="M74.04 283.61l-1.96-1.93l-1.31-.44l-1.31-.44l1.97 1.94l1.31 .43z"/>
<path fill="#27808e" d="M177.62 381.69l-3.95-3.74l-2.38-.65l3.97 3.74z"/>
<path fill="#2fb47c" d="M127.8 334.65l-3.94-3.87l-2.49-.76l3.95 3.88z"/>
<path fill="#3f4889" d="M291.01 426.63l-4.03-1.24l-2.11-.54l4.04 1.25z"/>
<path fill="#34618d" d="M228.06 406.87l-3.98-1.49l-2.25-.58l3.98 1.48z"/>
<path fill="#2e6f8e" d="M199.71 395.54l-3.95-2.13l-2.33-.61l3.97 2.13z"/>
<path fill="#aadc32" d="M77.98 287.47l-3.94-3.86l-2.61-.87l3.95 3.87z"/>
<path fill="#3b528b" d="M266.63 419.27l-4.01-1.27l-2.17-.56l4.02 1.28z"/>
<path fill="#2ab07f" d="M131.75 338.52l-3.95-3.87l-2.48-.75l3.96 3.88z"/>
<path fill="#287c8e" d="M181.57 384.97l-3.95-3.28l-2.36-.65l3.96 3.29z"/>
<path fill="#a0da39" d="M81.92 291.33l-3.94-3.86l-2.6-.86l3.94 3.87z"/>
<path fill="#365c8d" d="M242.24 411.64l-3.99-1.37l-2.22-.57l4 1.37z"/>
<path fill="#26ad81" d="M135.7 342.39l-3.95-3.87l-2.47-.74l3.95 3.88z"/>
<path fill="#93d741" d="M85.85 295.19l-3.93-3.86l-2.6-.85l3.95 3.87z"/>
<path fill="#3d4d8a" d="M280.83 423.6l-4.02-1.25l-2.14-.55l4.04 1.26z"/>
<path fill="#22a884" d="M139.65 346.27l-3.95-3.88l-2.47-.73l3.96 3.88z"/>
<path fill="#89d548" d="M89.79 299.06l-3.94-3.87l-2.58-.84l3.95 3.87z"/>
<path fill="#39568c" d="M256.44 416.16l-4.01-1.3l-2.19-.57l4.01 1.31z"/>
<path fill="#29798e" d="M185.53 387.87l-3.96-2.9l-2.35-.64l3.95 2.91z"/>
<path fill="#31678e" d="M217.85 403.25l-3.97-1.62l-2.28-.59l3.98 1.62z"/>
<path fill="#2e6e8e" d="M203.67 397.5l-3.96-1.96l-2.31-.61l3.96 1.97z"/>
<path fill="#20a486" d="M143.6 350.14l-3.95-3.87l-2.46-.73l3.96 3.89z"/>
<path fill="#7cd250" d="M93.74 302.92l-3.95-3.86l-2.57-.84l3.95 3.88z"/>
<path fill="#34618d" d="M232.04 408.3l-3.98-1.43l-2.25-.59l3.99 1.44z"/>
<path fill="#1fa188" d="M147.55 354.02l-3.95-3.88l-2.45-.71l3.96 3.88z"/>
<path fill="#73d056" d="M97.68 306.79l-3.94-3.87l-2.57-.82l3.95 3.87z"/>
<path fill="#3b528b" d="M270.65 420.54l-4.02-1.27l-2.16-.55l4.02 1.27z"/>
<path fill="#1e9c89" d="M151.5 357.89l-3.95-3.87l-2.44-.71l3.96 3.89z"/>
<path fill="#2a768e" d="M189.48 390.46l-3.95-2.59l-2.36-.63l3.97 2.6z"/>
<path fill="#365c8d" d="M246.24 412.98l-4-1.34l-2.21-.57l4 1.34z"/>
<path fill="#69cd5b" d="M101.62 310.66l-3.94-3.87l-2.56-.82l3.95 3.88z"/>
<path fill="#1f988b" d="M155.46 361.77l-3.96-3.88l-2.43-.69l3.97 3.89z"/>
<path fill="#5ec962" d="M105.57 314.53l-3.95-3.87l-2.55-.81l3.96 3.88z"/>
<path fill="#3d4d8a" d="M284.87 424.85l-4.04-1.25l-2.12-.54l4.04 1.25z"/>
<path fill="#2e6d8e" d="M207.63 399.32l-3.96-1.82l-2.31-.6l3.97 1.82z"/>
<path fill="#20938c" d="M159.42 365.65l-3.96-3.88l-2.42-.68l3.96 3.88z"/>
<path fill="#31668e" d="M221.83 404.8l-3.98-1.55l-2.27-.59l3.98 1.55z"/>
<path fill="#39568c" d="M260.45 417.44l-4.01-1.28l-2.19-.56l4.02 1.29z"/>
<path fill="#56c667" d="M109.52 318.4l-3.95-3.87l-2.54-.8l3.95 3.88z"/>
<path fill="#21908d" d="M163.37 369.54l-3.95-3.89l-2.42-.68l3.97 3.9z"/>
<path fill="#2b748e" d="M193.43 392.8l-3.95-2.34l-2.34-.62l3.96 2.34z"/>
<path fill="#34618d" d="M236.03 409.7l-3.99-1.4l-2.24-.58l4 1.4z"/>
<path fill="#4ec36b" d="M113.46 322.27l-3.94-3.87l-2.54-.79l3.96 3.88z"/>
<path fill="#228c8d" d="M167.33 373.42l-3.96-3.88l-2.4-.67l3.97 3.89z"/>
<path fill="#3b518b" d="M274.67 421.8l-4.02-1.26l-2.16-.55l4.04 1.26z"/>
<path fill="#44bf70" d="M117.42 326.15l-3.96-3.88l-2.52-.78l3.96 3.88z"/>
<path fill="#365c8d" d="M250.24 414.29l-4-1.31l-2.21-.57l4.01 1.32z"/>
<path fill="#24878e" d="M171.29 377.3l-3.96-3.88l-2.39-.66l3.97 3.89z"/>
<path fill="#3dbc74" d="M121.37 330.02l-3.95-3.87l-2.52-.78l3.96 3.89z"/>
<path fill="#2f6c8e" d="M211.6 401.04l-3.97-1.72l-2.3-.6l3.98 1.72z"/>
<path fill="#bddf26" d="M71.43 282.74l-1.97-1.94l-1.31-.44l-1.32-.44l1.98 1.94l1.31 .44z"/>
<path fill="#25838e" d="M175.26 381.04l-3.97-3.74l-2.38-.65l3.97 3.75z"/>
<path fill="#37b878" d="M125.32 333.9l-3.95-3.88l-2.51-.76l3.96 3.89z"/>
<path fill="#3d4d8a" d="M288.91 426.1l-4.04-1.25l-2.12-.54l4.05 1.25z"/>
<path fill="#31668e" d="M225.81 406.28l-3.98-1.48l-2.27-.59l3.99 1.49z"/>
<path fill="#2c738e" d="M197.4 394.93l-3.97-2.13l-2.33-.62l3.97 2.14z"/>
<path fill="#b5de2b" d="M75.38 286.61l-3.95-3.87l-2.62-.88l3.95 3.88z"/>
<path fill="#39568c" d="M264.47 418.72l-4.02-1.28l-2.18-.55l4.03 1.27z"/>
<path fill="#2fb47c" d="M129.28 337.78l-3.96-3.88l-2.5-.75l3.97 3.88z"/>
<path fill="#27808e" d="M179.22 384.33l-3.96-3.29l-2.38-.64l3.97 3.3z"/>
<path fill="#aadc32" d="M79.32 290.48l-3.94-3.87l-2.62-.87l3.96 3.88z"/>
<path fill="#34608d" d="M240.03 411.07l-4-1.37l-2.23-.58l4 1.37z"/>
<path fill="#2ab07f" d="M133.23 341.66l-3.95-3.88l-2.49-.75l3.96 3.89z"/>
<path fill="#a0da39" d="M83.27 294.35l-3.95-3.87l-2.6-.86l3.95 3.88z"/>
<path fill="#3b518b" d="M278.71 423.06l-4.04-1.26l-2.14-.55l4.04 1.26z"/>
<path fill="#26ad81" d="M137.19 345.54l-3.96-3.88l-2.48-.74l3.97 3.89z"/>
<path fill="#93d741" d="M87.22 298.22l-3.95-3.87l-2.6-.85l3.96 3.88z"/>
<path fill="#365c8d" d="M254.25 415.6l-4.01-1.31l-2.2-.56l4.02 1.3z"/>
<path fill="#287d8e" d="M183.17 387.24l-3.95-2.91l-2.37-.63l3.96 2.91z"/>
<path fill="#2f6b8e" d="M215.58 402.66l-3.98-1.62l-2.29-.6l3.98 1.63z"/>
<path fill="#2c718e" d="M201.36 396.9l-3.96-1.97l-2.33-.61l3.97 1.97z"/>
<path fill="#22a884" d="M141.15 349.43l-3.96-3.89l-2.47-.73l3.97 3.9z"/>
<path fill="#89d548" d="M91.17 302.1l-3.95-3.88l-2.59-.84l3.96 3.89z"/>
<path fill="#32658e" d="M229.8 407.72l-3.99-1.44l-2.26-.58l4 1.44z"/>
<path fill="#20a486" d="M145.11 353.31l-3.96-3.88l-2.46-.72l3.97 3.89z"/>
<path fill="#7cd250" d="M95.12 305.97l-3.95-3.87l-2.58-.83l3.96 3.88z"/>
<path fill="#39568c" d="M268.49 419.99l-4.02-1.27l-2.17-.56l4.03 1.28z"/>
<path fill="#1fa188" d="M149.07 357.2l-3.96-3.89l-2.45-.71l3.97 3.9z"/>
<path fill="#297b8e" d="M187.14 389.84l-3.97-2.6l-2.36-.63l3.97 2.61z"/>
<path fill="#34608d" d="M244.03 412.41l-4-1.34l-2.23-.58l4.01 1.35z"/>
<path fill="#73d056" d="M99.07 309.85l-3.95-3.88l-2.57-.82l3.96 3.89z"/>
<path fill="#1e9c89" d="M153.04 361.09l-3.97-3.89l-2.44-.7l3.97 3.89z"/>
<path fill="#69cd5b" d="M103.03 313.73l-3.96-3.88l-2.56-.81l3.97 3.89z"/>
<path fill="#3b518b" d="M282.75 424.31l-4.04-1.25l-2.14-.55l4.05 1.26z"/>
<path fill="#2d718e" d="M205.33 398.72l-3.97-1.82l-2.32-.61l3.98 1.83z"/>
<path fill="#1f988b" d="M157 364.97l-3.96-3.88l-2.44-.7l3.98 3.9z"/>
<path fill="#2f6b8e" d="M219.56 404.21l-3.98-1.55l-2.29-.59l3.99 1.55z"/>
<path fill="#375b8d" d="M258.27 416.89l-4.02-1.29l-2.19-.57l4.03 1.29z"/>
<path fill="#5ec962" d="M106.98 317.61l-3.95-3.88l-2.55-.8l3.96 3.88z"/>
<path fill="#20938c" d="M160.97 368.87l-3.97-3.9l-2.42-.68l3.97 3.9z"/>
<path fill="#29798e" d="M191.1 392.18l-3.96-2.34l-2.36-.62l3.97 2.34z"/>
<path fill="#32658e" d="M233.8 409.12l-4-1.4l-2.25-.58l4 1.41z"/>
<path fill="#56c667" d="M110.94 321.49l-3.96-3.88l-2.54-.8l3.97 3.9z"/>
<path fill="#21908d" d="M164.94 372.76l-3.97-3.89l-2.42-.68l3.98 3.9z"/>
<path fill="#39568c" d="M272.53 421.25l-4.04-1.26l-2.16-.55l4.04 1.26z"/>
<path fill="#4ec36b" d="M114.9 325.37l-3.96-3.88l-2.53-.78l3.97 3.89z"/>
<path fill="#34608d" d="M248.04 413.73l-4.01-1.32l-2.22-.57l4.02 1.32z"/>
<path fill="#228c8d" d="M168.91 376.65l-3.97-3.89l-2.41-.67l3.98 3.91z"/>
<path fill="#44bf70" d="M118.86 329.26l-3.96-3.89l-2.52-.77l3.97 3.89z"/>
<path fill="#2d708e" d="M209.31 400.44l-3.98-1.72l-2.31-.6l3.98 1.72z"/>
<path fill="#cae11f" d="M68.81 281.86l-1.98-1.94l-1.31-.44l-1.32-.44l1.98 1.94l1.31 .44z"/>
<path fill="#23888e" d="M172.88 380.4l-3.97-3.75l-2.4-.65l3.98 3.75z"/>
<path fill="#3dbc74" d="M122.82 333.15l-3.96-3.89l-2.51-.77l3.97 3.9z"/>
<path fill="#3b518b" d="M286.8 425.56l-4.05-1.25l-2.13-.54l4.06 1.25z"/>
<path fill="#306a8e" d="M223.55 405.7l-3.99-1.49l-2.28-.59l4 1.49z"/>
<path fill="#2a778e" d="M195.07 394.32l-3.97-2.14l-2.35-.62l3.98 2.15z"/>
<path fill="#c2df23" d="M72.76 285.74l-3.95-3.88l-2.63-.88l3.96 3.89z"/>
<path fill="#375b8d" d="M262.3 418.16l-4.03-1.27l-2.18-.57l4.03 1.29z"/>
<path fill="#37b878" d="M126.79 337.03l-3.97-3.88l-2.5-.76l3.97 3.9z"/>
<path fill="#25848e" d="M176.85 383.7l-3.97-3.3l-2.39-.65l3.97 3.31z"/>
<path fill="#b5de2b" d="M76.72 289.62l-3.96-3.88l-2.62-.87l3.96 3.89z"/>
<path fill="#32658e" d="M237.8 410.49l-4-1.37l-2.25-.57l4.01 1.37z"/>
<path fill="#2fb47c" d="M130.75 340.92l-3.96-3.89l-2.5-.74l3.97 3.89z"/>
<path fill="#aadc32" d="M80.67 293.5l-3.95-3.88l-2.62-.86l3.97 3.89z"/>
<path fill="#39568c" d="M276.57 422.51l-4.04-1.26l-2.16-.55l4.05 1.26z"/>
<path fill="#2ab07f" d="M134.72 344.81l-3.97-3.89l-2.49-.74l3.98 3.9z"/>
<path fill="#a0da39" d="M84.63 297.38l-3.96-3.88l-2.6-.85l3.96 3.89z"/>
<path fill="#34608d" d="M252.06 415.03l-4.02-1.3l-2.21-.57l4.03 1.31z"/>
<path fill="#26828e" d="M180.81 386.61l-3.96-2.91l-2.39-.64l3.98 2.92z"/>
<path fill="#2d708e" d="M213.29 402.07l-3.98-1.63l-2.31-.6l4 1.63z"/>
<path fill="#2a768e" d="M199.04 396.29l-3.97-1.97l-2.34-.61l3.98 1.97z"/>
<path fill="#26ad81" d="M138.69 348.71l-3.97-3.9l-2.48-.73l3.98 3.91z"/>
<path fill="#93d741" d="M88.59 301.27l-3.96-3.89l-2.6-.84l3.97 3.89z"/>
<path fill="#306a8e" d="M227.55 407.14l-4-1.44l-2.27-.59l4 1.45z"/>
<path fill="#22a884" d="M142.66 352.6l-3.97-3.89l-2.47-.72l3.97 3.9z"/>
<path fill="#89d548" d="M92.55 305.15l-3.96-3.88l-2.59-.84l3.97 3.9z"/>
<path fill="#375b8d" d="M266.33 419.44l-4.03-1.28l-2.18-.55l4.04 1.27z"/>
<path fill="#20a486" d="M146.63 356.5l-3.97-3.9l-2.47-.71l3.99 3.9z"/>
<path fill="#277f8e" d="M184.78 389.22l-3.97-2.61l-2.37-.63l3.98 2.61z"/>
<path fill="#32658e" d="M241.81 411.84l-4.01-1.35l-2.24-.57l4.02 1.34z"/>
<path fill="#7cd250" d="M96.51 309.04l-3.96-3.89l-2.58-.82l3.97 3.89z"/>
<path fill="#1fa188" d="M150.6 360.39l-3.97-3.89l-2.45-.71l3.98 3.91z"/>
<path fill="#73d056" d="M100.48 312.93l-3.97-3.89l-2.57-.82l3.97 3.9z"/>
<path fill="#39568c" d="M280.62 423.77l-4.05-1.26l-2.15-.55l4.06 1.26z"/>
<path fill="#2b758e" d="M203.02 398.12l-3.98-1.83l-2.33-.61l3.99 1.83z"/>
<path fill="#1e9c89" d="M154.58 364.29l-3.98-3.9l-2.44-.69l3.98 3.91z"/>
<path fill="#2e6f8e" d="M217.28 403.62l-3.99-1.55l-2.29-.6l3.99 1.56z"/>
<path fill="#34608d" d="M256.09 416.32l-4.03-1.29l-2.2-.56l4.03 1.29z"/>
<path fill="#69cd5b" d="M104.44 316.81l-3.96-3.88l-2.57-.81l3.98 3.9z"/>
<path fill="#1f988b" d="M158.55 368.19l-3.97-3.9l-2.44-.68l3.98 3.91z"/>
<path fill="#287d8e" d="M188.75 391.56l-3.97-2.34l-2.36-.63l3.98 2.35z"/>
<path fill="#30698e" d="M231.55 408.55l-4-1.41l-2.27-.58l4.01 1.4z"/>
<path fill="#5ec962" d="M108.41 320.71l-3.97-3.9l-2.55-.79l3.97 3.9z"/>
<path fill="#20938c" d="M162.53 372.09l-3.98-3.9l-2.43-.67l3.99 3.91z"/>
<path fill="#375b8d" d="M270.37 420.7l-4.04-1.26l-2.17-.56l4.05 1.27z"/>
<path fill="#56c667" d="M112.38 324.6l-3.97-3.89l-2.55-.79l3.98 3.9z"/>
<path fill="#32648e" d="M245.83 413.16l-4.02-1.32l-2.23-.58l4.03 1.33z"/>
<path fill="#21908d" d="M166.51 376l-3.98-3.91l-2.42-.66l3.99 3.91z"/>
<path fill="#4ec36b" d="M116.35 328.49l-3.97-3.89l-2.54-.78l3.98 3.9z"/>
<path fill="#2b748e" d="M207 399.84l-3.98-1.72l-2.32-.61l3.99 1.73z"/>
<path fill="#d5e21a" d="M66.18 280.98l-1.98-1.94l-1.33-.44l-1.33-.45l1.99 1.95l1.32 .44z"/>
<path fill="#228c8d" d="M170.49 379.75l-3.98-3.75l-2.41-.66l3.99 3.76z"/>
<path fill="#44bf70" d="M120.32 332.39l-3.97-3.9l-2.53-.77l3.98 3.91z"/>
<path fill="#39568c" d="M284.68 425.02l-4.06-1.25l-2.14-.55l4.06 1.26z"/>
<path fill="#2e6e8e" d="M221.28 405.11l-4-1.49l-2.29-.59l4.01 1.49z"/>
<path fill="#297b8e" d="M192.73 393.71l-3.98-2.15l-2.35-.62l3.98 2.15z"/>
<path fill="#cde11d" d="M70.14 284.87l-3.96-3.89l-2.65-.88l3.97 3.9z"/>
<path fill="#34608d" d="M260.12 417.61l-4.03-1.29l-2.2-.56l4.04 1.29z"/>
<path fill="#3dbc74" d="M124.29 336.29l-3.97-3.9l-2.52-.76l3.98 3.9z"/>
<path fill="#23888e" d="M174.46 383.06l-3.97-3.31l-2.4-.65l3.98 3.32z"/>
<path fill="#c2df23" d="M74.1 288.76l-3.96-3.89l-2.64-.87l3.97 3.89z"/>
<path fill="#30698e" d="M235.56 409.92l-4.01-1.37l-2.26-.59l4.02 1.38z"/>
<path fill="#37b878" d="M128.26 340.18l-3.97-3.89l-2.51-.76l3.98 3.91z"/>
<path fill="#b5de2b" d="M78.07 292.65l-3.97-3.89l-2.63-.87l3.97 3.9z"/>
<path fill="#375b8d" d="M274.42 421.96l-4.05-1.26l-2.16-.55l4.06 1.26z"/>
<path fill="#2fb47c" d="M132.24 344.08l-3.98-3.9l-2.5-.74l3.99 3.91z"/>
<path fill="#aadc32" d="M82.03 296.54l-3.96-3.89l-2.63-.86l3.98 3.9z"/>
<path fill="#32648e" d="M249.86 414.47l-4.03-1.31l-2.22-.57l4.03 1.31z"/>
<path fill="#25858e" d="M178.44 385.98l-3.98-2.92l-2.39-.64l3.99 2.92z"/>
<path fill="#2c738e" d="M211 401.47l-4-1.63l-2.31-.6l4 1.63z"/>
<path fill="#297a8e" d="M196.71 395.68l-3.98-1.97l-2.35-.62l3.99 1.98z"/>
<path fill="#2ab07f" d="M136.22 347.99l-3.98-3.91l-2.49-.73l3.98 3.91z"/>
<path fill="#a0da39" d="M86 300.43l-3.97-3.89l-2.61-.85l3.98 3.9z"/>
<path fill="#2e6e8e" d="M225.28 406.56l-4-1.45l-2.28-.59l4.01 1.45z"/>
<path fill="#26ad81" d="M140.19 351.89l-3.97-3.9l-2.49-.73l3.99 3.91z"/>
<path fill="#93d741" d="M89.97 304.33l-3.97-3.9l-2.6-.84l3.97 3.91z"/>
<path fill="#34608d" d="M264.16 418.88l-4.04-1.27l-2.19-.56l4.05 1.27z"/>
<path fill="#22a884" d="M144.18 355.79l-3.99-3.9l-2.47-.72l3.99 3.92z"/>
<path fill="#25838e" d="M182.42 388.59l-3.98-2.61l-2.38-.64l3.98 2.62z"/>
<path fill="#30698e" d="M239.58 411.26l-4.02-1.34l-2.25-.58l4.03 1.35z"/>
<path fill="#89d548" d="M93.94 308.22l-3.97-3.89l-2.6-.83l3.98 3.9z"/>
<path fill="#20a486" d="M148.16 359.7l-3.98-3.91l-2.47-.7l3.99 3.91z"/>
<path fill="#7cd250" d="M97.91 312.12l-3.97-3.9l-2.59-.82l3.99 3.91z"/>
<path fill="#375b8d" d="M278.48 423.22l-4.06-1.26l-2.15-.55l4.06 1.26z"/>
<path fill="#29798e" d="M200.7 397.51l-3.99-1.83l-2.34-.61l3.99 1.84z"/>
<path fill="#1fa188" d="M152.14 363.61l-3.98-3.91l-2.46-.7l3.99 3.92z"/>
<path fill="#2c728e" d="M214.99 403.03l-3.99-1.56l-2.31-.6l4 1.56z"/>
<path fill="#32648e" d="M253.89 415.76l-4.03-1.29l-2.22-.57l4.04 1.3z"/>
<path fill="#73d056" d="M101.89 316.02l-3.98-3.9l-2.57-.81l3.98 3.9z"/>
<path fill="#1e9c89" d="M156.12 367.52l-3.98-3.91l-2.45-.69l4 3.92z"/>
<path fill="#26818e" d="M186.4 390.94l-3.98-2.35l-2.38-.63l3.99 2.36z"/>
<path fill="#2e6e8e" d="M229.29 407.96l-4.01-1.4l-2.27-.59l4.02 1.41z"/>
<path fill="#69cd5b" d="M105.86 319.92l-3.97-3.9l-2.57-.81l3.98 3.91z"/>
<path fill="#1f988b" d="M160.11 371.43l-3.99-3.91l-2.43-.68l3.99 3.92z"/>
<path fill="#34608d" d="M268.21 420.15l-4.05-1.27l-2.18-.56l4.06 1.27z"/>
<path fill="#5ec962" d="M109.84 323.82l-3.98-3.9l-2.56-.8l3.99 3.91z"/>
<path fill="#30698e" d="M243.61 412.59l-4.03-1.33l-2.24-.57l4.03 1.33z"/>
<path fill="#20938c" d="M164.1 375.34l-3.99-3.91l-2.43-.67l4 3.92z"/>
<path fill="#56c667" d="M113.82 327.72l-3.98-3.9l-2.55-.79l3.99 3.92z"/>
<path fill="#2a788e" d="M204.69 399.24l-3.99-1.73l-2.34-.6l4 1.72z"/>
<path fill="#e2e418" d="M63.53 280.1l-1.99-1.95l-1.33-.44l-1.33-.45l1.99 1.95l1.33 .45z"/>
<path fill="#21908d" d="M168.09 379.1l-3.99-3.76l-2.42-.66l3.99 3.77z"/>
<path fill="#4ec36b" d="M117.8 331.63l-3.98-3.91l-2.54-.77l3.99 3.91z"/>
<path fill="#375b8d" d="M282.54 424.48l-4.06-1.26l-2.15-.55l4.07 1.26z"/>
<path fill="#2c728e" d="M219 404.52l-4.01-1.49l-2.3-.6l4.02 1.5z"/>
<path fill="#27808e" d="M190.38 393.09l-3.98-2.15l-2.37-.62l3.99 2.15z"/>
<path fill="#d8e219" d="M67.5 284l-3.97-3.9l-2.66-.89l3.98 3.91z"/>
<path fill="#32648e" d="M257.93 417.05l-4.04-1.29l-2.21-.56l4.05 1.28z"/>
<path fill="#44bf70" d="M121.78 335.53l-3.98-3.9l-2.53-.77l3.99 3.92z"/>
<path fill="#228c8d" d="M172.07 382.42l-3.98-3.32l-2.42-.65l4 3.32z"/>
<path fill="#cde11d" d="M71.47 287.89l-3.97-3.89l-2.65-.88l3.98 3.9z"/>
<path fill="#2e6d8e" d="M233.31 409.34l-4.02-1.38l-2.26-.58l4.02 1.38z"/>
<path fill="#3dbc74" d="M125.76 339.44l-3.98-3.91l-2.52-.75l3.99 3.91z"/>
<path fill="#c2df23" d="M75.44 291.79l-3.97-3.9l-2.64-.87l3.98 3.91z"/>
<path fill="#355f8d" d="M272.27 421.41l-4.06-1.26l-2.17-.56l4.06 1.27z"/>
<path fill="#37b878" d="M129.75 343.35l-3.99-3.91l-2.51-.75l3.99 3.92z"/>
<path fill="#b5de2b" d="M79.42 295.69l-3.98-3.9l-2.63-.86l3.99 3.91z"/>
<path fill="#30698e" d="M247.64 413.9l-4.03-1.31l-2.24-.57l4.04 1.31z"/>
<path fill="#23898e" d="M176.06 385.34l-3.99-2.92l-2.4-.65l3.99 2.94z"/>
<path fill="#2a778e" d="M208.69 400.87l-4-1.63l-2.33-.61l4.01 1.64z"/>
<path fill="#277e8e" d="M194.37 395.07l-3.99-1.98l-2.36-.62l4 1.98z"/>
<path fill="#2fb47c" d="M133.73 347.26l-3.98-3.91l-2.51-.74l4 3.92z"/>
<path fill="#aadc32" d="M83.4 299.59l-3.98-3.9l-2.62-.85l3.98 3.91z"/>
<path fill="#2c718e" d="M223.01 405.97l-4.01-1.45l-2.29-.59l4.01 1.45z"/>
<path fill="#2ab07f" d="M137.72 351.17l-3.99-3.91l-2.49-.73l3.99 3.92z"/>
<path fill="#a0da39" d="M87.37 303.5l-3.97-3.91l-2.62-.84l3.99 3.91z"/>
<path fill="#32648e" d="M261.98 418.32l-4.05-1.27l-2.2-.57l4.06 1.28z"/>
<path fill="#26ad81" d="M141.71 355.09l-3.99-3.92l-2.49-.72l4 3.92z"/>
<path fill="#24878e" d="M180.04 387.96l-3.98-2.62l-2.4-.63l3.99 2.62z"/>
<path fill="#2e6d8e" d="M237.34 410.69l-4.03-1.35l-2.26-.58l4.04 1.35z"/>
<path fill="#93d741" d="M91.35 307.4l-3.98-3.9l-2.6-.84l3.99 3.92z"/>
<path fill="#22a884" d="M145.7 359l-3.99-3.91l-2.48-.72l4 3.93z"/>
<path fill="#89d548" d="M95.34 311.31l-3.99-3.91l-2.59-.82l3.99 3.91z"/>
<path fill="#355f8d" d="M276.33 422.67l-4.06-1.26l-2.17-.55l4.07 1.26z"/>
<path fill="#287d8e" d="M198.36 396.91l-3.99-1.84l-2.35-.62l4 1.84z"/>
<path fill="#20a486" d="M149.69 362.92l-3.99-3.92l-2.47-.7l4 3.92z"/>
<path fill="#2a778e" d="M212.69 402.43l-4-1.56l-2.32-.6l4.01 1.56z"/>
<path fill="#31688e" d="M251.68 415.2l-4.04-1.3l-2.23-.57l4.05 1.3z"/>
<path fill="#7cd250" d="M99.32 315.21l-3.98-3.9l-2.59-.82l3.99 3.92z"/>
<path fill="#1fa188" d="M153.69 366.84l-4-3.92l-2.46-.7l4.01 3.93z"/>
<path fill="#25858e" d="M184.03 390.32l-3.99-2.36l-2.39-.63l4 2.36z"/>
<path fill="#2c718e" d="M227.03 407.38l-4.02-1.41l-2.29-.59l4.03 1.41z"/>
<path fill="#73d056" d="M103.3 319.12l-3.98-3.91l-2.58-.8l3.99 3.92z"/>
<path fill="#1e9c89" d="M157.68 370.76l-3.99-3.92l-2.45-.69l4 3.93z"/>
<path fill="#32648e" d="M266.04 419.59l-4.06-1.27l-2.19-.56l4.06 1.28z"/>
<path fill="#69cd5b" d="M107.29 323.03l-3.99-3.91l-2.57-.79l4 3.92z"/>
<path fill="#2e6d8e" d="M241.37 412.02l-4.03-1.33l-2.25-.58l4.04 1.33z"/>
<path fill="#1f988b" d="M161.68 374.68l-4-3.92l-2.44-.68l4.01 3.93z"/>
<path fill="#5ec962" d="M111.28 326.95l-3.99-3.92l-2.56-.78l3.99 3.92z"/>
<path fill="#287c8e" d="M202.36 398.63l-4-1.72l-2.34-.62l4.01 1.74z"/>
<path fill="#ece51b" d="M60.87 279.21l-1.99-1.95l-1.34-.45l-1.34-.45l2 1.96l1.33 .45z"/>
<path fill="#1f948c" d="M165.67 378.45l-3.99-3.77l-2.43-.67l4 3.79z"/>
<path fill="#56c667" d="M115.27 330.86l-3.99-3.91l-2.56-.78l4 3.92z"/>
<path fill="#355f8d" d="M280.4 423.93l-4.07-1.26l-2.16-.55l4.08 1.27z"/>
<path fill="#2a768e" d="M216.71 403.93l-4.02-1.5l-2.31-.6l4.02 1.51z"/>
<path fill="#25838e" d="M188.02 392.47l-3.99-2.15l-2.38-.63l4 2.16z"/>
<path fill="#e5e419" d="M64.85 283.12l-3.98-3.91l-2.67-.89l3.98 3.91z"/>
<path fill="#31688e" d="M255.73 416.48l-4.05-1.28l-2.22-.57l4.06 1.29z"/>
<path fill="#4ec36b" d="M119.26 334.78l-3.99-3.92l-2.55-.77l4 3.93z"/>
<path fill="#21918c" d="M169.67 381.77l-4-3.32l-2.42-.65l4 3.32z"/>
<path fill="#d8e219" d="M68.83 287.02l-3.98-3.9l-2.67-.89l3.99 3.92z"/>
<path fill="#2c718e" d="M231.05 408.76l-4.02-1.38l-2.28-.59l4.03 1.38z"/>
<path fill="#44bf70" d="M123.25 338.69l-3.99-3.91l-2.54-.76l4 3.92z"/>
<path fill="#cde11d" d="M72.81 290.93l-3.98-3.91l-2.66-.87l4 3.92z"/>
<path fill="#32648e" d="M270.1 420.86l-4.06-1.27l-2.19-.55l4.07 1.27z"/>
<path fill="#3dbc74" d="M127.24 342.61l-3.99-3.92l-2.53-.75l4 3.93z"/>
<path fill="#c2df23" d="M76.8 294.84l-3.99-3.91l-2.64-.86l3.99 3.91z"/>
<path fill="#2e6d8e" d="M245.41 413.33l-4.04-1.31l-2.24-.58l4.05 1.31z"/>
<path fill="#218e8d" d="M173.66 384.71l-3.99-2.94l-2.42-.65l4 2.94z"/>
<path fill="#287c8e" d="M206.37 400.27l-4.01-1.64l-2.33-.6l4.01 1.64z"/>
<path fill="#26828e" d="M192.02 394.45l-4-1.98l-2.37-.62l4 1.98z"/>
<path fill="#37b878" d="M131.24 346.53l-4-3.92l-2.52-.74l4.01 3.93z"/>
<path fill="#b5de2b" d="M80.78 298.75l-3.98-3.91l-2.64-.86l3.99 3.92z"/>
<path fill="#2a768e" d="M220.72 405.38l-4.01-1.45l-2.31-.59l4.03 1.45z"/>
<path fill="#2fb47c" d="M135.23 350.45l-3.99-3.92l-2.51-.73l4 3.93z"/>
<path fill="#aadc32" d="M84.77 302.66l-3.99-3.91l-2.63-.85l4 3.93z"/>
<path fill="#31688e" d="M259.79 417.76l-4.06-1.28l-2.21-.56l4.06 1.28z"/>
<path fill="#2ab07f" d="M139.23 354.37l-4-3.92l-2.5-.72l4.01 3.93z"/>
<path fill="#228b8d" d="M177.65 387.33l-3.99-2.62l-2.41-.65l4.01 2.63z"/>
<path fill="#2c718e" d="M235.09 410.11l-4.04-1.35l-2.27-.59l4.05 1.36z"/>
<path fill="#a0da39" d="M88.76 306.58l-3.99-3.92l-2.62-.83l4 3.92z"/>
<path fill="#26ad81" d="M143.23 358.3l-4-3.93l-2.49-.71l4.01 3.93z"/>
<path fill="#93d741" d="M92.75 310.49l-3.99-3.91l-2.61-.83l4 3.92z"/>
<path fill="#32648e" d="M274.17 422.12l-4.07-1.26l-2.18-.55l4.08 1.26z"/>
<path fill="#26828e" d="M196.02 396.29l-4-1.84l-2.37-.62l4.01 1.85z"/>
<path fill="#22a884" d="M147.23 362.22l-4-3.92l-2.48-.71l4.01 3.94z"/>
<path fill="#297b8e" d="M210.38 401.83l-4.01-1.56l-2.33-.6l4.02 1.56z"/>
<path fill="#2e6d8e" d="M249.46 414.63l-4.05-1.3l-2.23-.58l4.05 1.31z"/>
<path fill="#89d548" d="M96.74 314.41l-3.99-3.92l-2.6-.82l4 3.93z"/>
<path fill="#20a486" d="M151.24 366.15l-4.01-3.93l-2.47-.69l4.01 3.94z"/>
<path fill="#23898e" d="M181.65 389.69l-4-2.36l-2.39-.64l4 2.37z"/>
<path fill="#2b758e" d="M224.75 406.79l-4.03-1.41l-2.29-.59l4.03 1.41z"/>
<path fill="#7cd250" d="M100.73 318.33l-3.99-3.92l-2.59-.81l4 3.93z"/>
<path fill="#1fa188" d="M155.24 370.08l-4-3.93l-2.47-.68l4.02 3.93z"/>
<path fill="#31688e" d="M263.85 419.04l-4.06-1.28l-2.21-.56l4.08 1.28z"/>
<path fill="#73d056" d="M104.73 322.25l-4-3.92l-2.58-.8l4 3.93z"/>
<path fill="#2d718e" d="M239.13 411.44l-4.04-1.33l-2.26-.58l4.04 1.33z"/>
<path fill="#1e9c89" d="M159.25 374.01l-4.01-3.93l-2.45-.68l4.01 3.94z"/>
<path fill="#69cd5b" d="M108.72 326.17l-3.99-3.92l-2.58-.79l4.01 3.93z"/>
<path fill="#26818e" d="M200.03 398.03l-4.01-1.74l-2.36-.61l4.02 1.73z"/>
<path fill="#f6e620" d="M58.2 278.32l-2-1.96l-1.34-.45l-1.35-.45l2 1.96l1.34 .45z"/>
<path fill="#1f988b" d="M163.25 377.8l-4-3.79l-2.45-.67l4.02 3.8z"/>
<path fill="#5ec962" d="M112.72 330.09l-4-3.92l-2.56-.78l4.01 3.93z"/>
<path fill="#32648e" d="M278.25 423.39l-4.08-1.27l-2.17-.55l4.09 1.26z"/>
<path fill="#297b8e" d="M214.4 403.34l-4.02-1.51l-2.32-.6l4.03 1.51z"/>
<path fill="#23888e" d="M185.65 391.85l-4-2.16l-2.39-.63l4.01 2.16z"/>
<path fill="#efe51c" d="M62.18 282.23l-3.98-3.91l-2.69-.9l4 3.93z"/>
<path fill="#2e6d8e" d="M253.52 415.92l-4.06-1.29l-2.23-.57l4.07 1.29z"/>
<path fill="#56c667" d="M116.72 334.02l-4-3.93l-2.55-.77l4 3.93z"/>
<path fill="#1f948c" d="M167.25 381.12l-4-3.32l-2.43-.66l4.01 3.33z"/>
<path fill="#e5e419" d="M66.17 286.15l-3.99-3.92l-2.67-.88l4 3.92z"/>
<path fill="#2b758e" d="M228.78 408.17l-4.03-1.38l-2.29-.59l4.04 1.39z"/>
<path fill="#4ec36b" d="M120.72 337.94l-4-3.92l-2.55-.77l4.01 3.94z"/>
<path fill="#d8e219" d="M70.17 290.07l-4-3.92l-2.66-.88l4 3.93z"/>
<path fill="#31688e" d="M267.92 420.31l-4.07-1.27l-2.19-.56l4.07 1.27z"/>
<path fill="#44bf70" d="M124.72 341.87l-4-3.93l-2.54-.75l4.02 3.93z"/>
<path fill="#cde11d" d="M74.16 293.98l-3.99-3.91l-2.66-.87l4 3.93z"/>
<path fill="#2d718e" d="M243.18 412.75l-4.05-1.31l-2.26-.58l4.06 1.32z"/>
<path fill="#20928c" d="M171.25 384.06l-4-2.94l-2.42-.65l4.01 2.95z"/>
<path fill="#27808e" d="M204.04 399.67l-4.01-1.64l-2.35-.62l4.02 1.65z"/>
<path fill="#24868e" d="M189.65 393.83l-4-1.98l-2.38-.63l4.01 1.99z"/>
<path fill="#3dbc74" d="M128.73 345.8l-4.01-3.93l-2.52-.75l4.01 3.94z"/>
<path fill="#c2df23" d="M78.15 297.9l-3.99-3.92l-2.65-.85l4 3.92z"/>
<path fill="#297a8e" d="M218.43 404.79l-4.03-1.45l-2.31-.6l4.03 1.45z"/>
<path fill="#37b878" d="M132.73 349.73l-4-3.93l-2.52-.74l4.01 3.94z"/>
<path fill="#b5de2b" d="M82.15 301.83l-4-3.93l-2.64-.85l4.01 3.93z"/>
<path fill="#2e6d8e" d="M257.58 417.2l-4.06-1.28l-2.22-.57l4.07 1.28z"/>
<path fill="#2fb47c" d="M136.74 353.66l-4.01-3.93l-2.51-.73l4.02 3.94z"/>
<path fill="#21908d" d="M175.26 386.69l-4.01-2.63l-2.41-.64l4.01 2.63z"/>
<path fill="#2b758e" d="M232.83 409.53l-4.05-1.36l-2.28-.58l4.05 1.35z"/>
<path fill="#aadc32" d="M86.15 305.75l-4-3.92l-2.63-.85l4 3.94z"/>
<path fill="#2ab07f" d="M140.75 357.59l-4.01-3.93l-2.5-.72l4.02 3.95z"/>
<path fill="#a0da39" d="M90.15 309.67l-4-3.92l-2.63-.83l4.01 3.93z"/>
<path fill="#31688e" d="M272 421.57l-4.08-1.26l-2.19-.56l4.09 1.27z"/>
<path fill="#25858e" d="M193.66 395.68l-4.01-1.85l-2.37-.62l4.02 1.85z"/>
<path fill="#26ad81" d="M144.76 361.53l-4.01-3.94l-2.49-.7l4.02 3.94z"/>
<path fill="#277f8e" d="M208.06 401.23l-4.02-1.56l-2.34-.61l4.03 1.57z"/>
<path fill="#2d718e" d="M247.23 414.06l-4.05-1.31l-2.25-.57l4.06 1.3z"/>
<path fill="#93d741" d="M94.15 313.6l-4-3.93l-2.62-.82l4.01 3.94z"/>
<path fill="#fde725" d="M55.51 277.42l-2-1.96l-1.35-.45l2 1.96z"/>
<path fill="#22a884" d="M148.77 365.47l-4.01-3.94l-2.48-.7l4.02 3.95z"/>
<path fill="#218e8d" d="M179.26 389.06l-4-2.37l-2.41-.64l4.01 2.38z"/>
<path fill="#297a8e" d="M222.46 406.2l-4.03-1.41l-2.31-.6l4.04 1.42z"/>
<path fill="#89d548" d="M98.15 317.53l-4-3.93l-2.61-.81l4.01 3.93z"/>
<path fill="#f6e620" d="M59.51 281.35l-2-1.96l-2-1.97l-1.35-.45l2 1.97l2 1.96z"/>
<path fill="#20a486" d="M152.79 369.4l-4.02-3.93l-2.47-.69l4.02 3.94z"/>
<path fill="#2e6d8e" d="M261.66 418.48l-4.08-1.28l-2.21-.57l4.08 1.28z"/>
<path fill="#7cd250" d="M102.15 321.46l-4-3.93l-2.6-.81l4.02 3.94z"/>
<path fill="#ece51b" d="M63.51 285.27l-2-1.96l-2-1.96l-1.35-.45l2.01 1.97l2 1.96z"/>
<path fill="#2b758e" d="M236.87 410.86l-4.04-1.33l-2.28-.59l4.06 1.34z"/>
<path fill="#1fa188" d="M156.8 373.34l-4.01-3.94l-2.47-.68l4.03 3.95z"/>
<path fill="#73d056" d="M106.16 325.39l-4.01-3.93l-2.58-.8l4.01 3.94z"/>
<path fill="#e2e418" d="M67.51 289.2l-2-1.97l-2-1.96l-1.34-.44l2 1.97l2 1.96z"/>
<path fill="#25848e" d="M197.68 397.41l-4.02-1.73l-2.36-.62l4.02 1.74z"/>
<path fill="#1e9c89" d="M160.82 377.14l-4.02-3.8l-2.45-.67l4.02 3.8z"/>
<path fill="#69cd5b" d="M110.17 329.32l-4.01-3.93l-2.58-.79l4.02 3.94z"/>
<path fill="#31688e" d="M276.09 422.83l-4.09-1.26l-2.18-.55l4.1 1.26z"/>
<path fill="#277f8e" d="M212.09 402.74l-4.03-1.51l-2.33-.6l4.03 1.51z"/>
<path fill="#228c8d" d="M183.27 391.22l-4.01-2.16l-2.4-.63l4.01 2.16z"/>
<path fill="#d5e21a" d="M71.51 293.13l-2-1.97l-2-1.96l-1.34-.44l2.01 1.97l2 1.96z"/>
<path fill="#2d718e" d="M251.3 415.35l-4.07-1.29l-2.24-.58l4.08 1.3z"/>
<path fill="#5ec962" d="M114.17 333.25l-4-3.93l-2.57-.78l4.02 3.95z"/>
<path fill="#cae11f" d="M75.51 297.05l-2-1.96l-2-1.96l-1.33-.44l2 1.97l2.01 1.97z"/>
<path fill="#1f998a" d="M164.83 380.47l-4.01-3.33l-2.45-.67l4.02 3.35z"/>
<path fill="#297a8e" d="M226.5 407.59l-4.04-1.39l-2.3-.59l4.05 1.39z"/>
<path fill="#56c667" d="M118.18 337.19l-4.01-3.94l-2.55-.76l4.01 3.94z"/>
<path fill="#bddf26" d="M79.52 300.98l-2.01-1.96l-2-1.97l-1.32-.42l2 1.97l2.01 1.96z"/>
<path fill="#2e6d8e" d="M265.73 419.75l-4.07-1.27l-2.21-.57l4.09 1.28z"/>
<path fill="#4ec36b" d="M122.2 341.12l-4.02-3.93l-2.55-.76l4.03 3.95z"/>
<path fill="#b2dd2d" d="M83.52 304.92l-2-1.97l-2-1.97l-1.32-.42l2 1.97l2.01 1.97z"/>
<path fill="#2b758e" d="M240.93 412.18l-4.06-1.32l-2.26-.58l4.06 1.32z"/>
<path fill="#1f958b" d="M168.84 383.42l-4.01-2.95l-2.44-.65l4.02 2.95z"/>
<path fill="#25838e" d="M201.7 399.06l-4.02-1.65l-2.36-.61l4.03 1.65z"/>
<path fill="#238a8d" d="M187.28 393.21l-4.01-1.99l-2.4-.63l4.02 2z"/>
<path fill="#44bf70" d="M126.21 345.06l-4.01-3.94l-2.54-.74l4.02 3.94z"/>
<path fill="#a8db34" d="M87.53 308.85l-2-1.97l-2.01-1.96l-1.31-.42l2 1.97l2.01 1.97z"/>
<path fill="#277e8e" d="M216.12 404.19l-4.03-1.45l-2.33-.6l4.04 1.46z"/>
<path fill="#3dbc74" d="M130.22 349l-4.01-3.94l-2.53-.74l4.02 3.95z"/>
<path fill="#9bd93c" d="M91.54 312.79l-2-1.97l-2.01-1.97l-1.31-.41l2.01 1.97l2.01 1.97z"/>
<path fill="#2d718e" d="M255.37 416.63l-4.07-1.28l-2.23-.57l4.08 1.29z"/>
<path fill="#37b878" d="M134.24 352.94l-4.02-3.94l-2.52-.73l4.03 3.95z"/>
<path fill="#20938c" d="M172.85 386.05l-4.01-2.63l-2.43-.65l4.01 2.64z"/>
<path fill="#29798e" d="M230.55 408.94l-4.05-1.35l-2.29-.59l4.06 1.36z"/>
<path fill="#90d743" d="M95.55 316.72l-2-1.97l-2.01-1.96l-1.3-.41l2 1.97l2.01 1.97z"/>
<path fill="#2fb47c" d="M138.26 356.89l-4.02-3.95l-2.51-.72l4.02 3.95z"/>
<path fill="#86d549" d="M99.57 320.66l-2.01-1.97l-2.01-1.97l-1.3-.4l2.01 1.97l2.01 1.97z"/>
<path fill="#2f6c8e" d="M269.82 421.02l-4.09-1.27l-2.19-.56l4.09 1.27z"/>
<path fill="#23898e" d="M191.3 395.06l-4.02-1.85l-2.39-.62l4.03 1.85z"/>
<path fill="#2ab07f" d="M142.28 360.83l-4.02-3.94l-2.51-.72l4.03 3.96z"/>
<path fill="#25838e" d="M205.73 400.63l-4.03-1.57l-2.35-.61l4.03 1.57z"/>
<path fill="#2b758e" d="M244.99 413.48l-4.06-1.3l-2.26-.58l4.07 1.31z"/>
<path fill="#7ad151" d="M103.58 324.6l-2.01-1.97l-2-1.97l-1.3-.4l2.01 1.97l2.01 1.98z"/>
<path fill="#26ad81" d="M146.3 364.78l-4.02-3.95l-2.5-.7l4.03 3.95z"/>
<path fill="#20928c" d="M176.86 388.43l-4.01-2.38l-2.43-.64l4.02 2.38z"/>
<path fill="#277e8e" d="M220.16 405.61l-4.04-1.42l-2.32-.59l4.05 1.42z"/>
<path fill="#70cf57" d="M107.6 328.54l-2.01-1.97l-2.01-1.97l-1.29-.39l2.01 1.97l2.01 1.97z"/>
<path fill="#22a884" d="M150.32 368.72l-4.02-3.94l-2.49-.7l4.03 3.96z"/>
<path fill="#2d718e" d="M259.45 417.91l-4.08-1.28l-2.22-.56l4.08 1.28z"/>
<path fill="#67cc5c" d="M111.62 332.49l-2.01-1.98l-2.01-1.97l-1.29-.39l2.01 1.98l2.01 1.97z"/>
<path fill="#29798e" d="M234.61 410.28l-4.06-1.34l-2.28-.58l4.06 1.33z"/>
<path fill="#20a486" d="M154.35 372.67l-4.03-3.95l-2.48-.68l4.04 3.96z"/>
<path fill="#5cc863" d="M115.63 336.43l-2.01-1.97l-2-1.97l-1.29-.39l2.01 1.97l2.01 1.98z"/>
<path fill="#23888e" d="M195.32 396.8l-4.02-1.74l-2.38-.62l4.03 1.74z"/>
<path fill="#1fa188" d="M158.37 376.47l-4.02-3.8l-2.47-.67l4.03 3.81z"/>
<path fill="#54c568" d="M119.66 340.38l-2.02-1.98l-2.01-1.97l-1.28-.38l2.02 1.97l2.01 1.98z"/>
<path fill="#2f6c8e" d="M273.92 422.28l-4.1-1.26l-2.19-.56l4.1 1.27z"/>
<path fill="#26828e" d="M209.76 402.14l-4.03-1.51l-2.35-.61l4.05 1.51z"/>
<path fill="#21908d" d="M180.87 390.59l-4.01-2.16l-2.42-.64l4.03 2.17z"/>
<path fill="#2b748e" d="M249.07 414.78l-4.08-1.3l-2.25-.57l4.08 1.29z"/>
<path fill="#4cc26c" d="M123.68 344.32l-2.01-1.97l-2.01-1.97l-1.28-.38l2.01 1.98l2.02 1.97z"/>
<path fill="#1e9d89" d="M162.39 379.82l-4.02-3.35l-2.46-.66l4.03 3.35z"/>
<path fill="#277e8e" d="M224.21 407l-4.05-1.39l-2.31-.59l4.06 1.38z"/>
<path fill="#42be71" d="M127.7 348.27l-2.01-1.97l-2.01-1.98l-1.27-.37l2.01 1.98l2.02 1.98z"/>
<path fill="#2d718e" d="M263.54 419.19l-4.09-1.28l-2.22-.56l4.1 1.27z"/>
<path fill="#3bbb75" d="M131.73 352.22l-2.02-1.97l-2.01-1.98l-1.26-.36l2.01 1.97l2.02 1.98z"/>
<path fill="#29798e" d="M238.67 411.6l-4.06-1.32l-2.28-.59l4.07 1.33z"/>
<path fill="#1f9a8a" d="M166.41 382.77l-4.02-2.95l-2.45-.66l4.02 2.96z"/>
<path fill="#23888e" d="M199.35 398.45l-4.03-1.65l-2.37-.62l4.04 1.65z"/>
<path fill="#218f8d" d="M184.89 392.59l-4.02-2l-2.4-.63l4.03 2z"/>
<path fill="#35b779" d="M135.75 356.17l-2.01-1.97l-2.01-1.98l-1.26-.36l2.01 1.98l2.02 1.98z"/>
<path fill="#26828e" d="M213.8 403.6l-4.04-1.46l-2.33-.61l4.05 1.46z"/>
<path fill="#2eb37c" d="M139.78 360.13l-2.01-1.98l-2.02-1.98l-1.25-.35l2.01 1.98l2.02 1.98z"/>
<path fill="#2b748e" d="M253.15 416.07l-4.08-1.29l-2.25-.58l4.09 1.29z"/>
<path fill="#29af7f" d="M143.81 364.08l-2.01-1.97l-2.02-1.98l-1.25-.35l2.02 1.98l2.01 1.98z"/>
<path fill="#1f978b" d="M170.42 385.41l-4.01-2.64l-2.45-.65l4.03 2.65z"/>
<path fill="#277e8e" d="M228.27 408.36l-4.06-1.36l-2.3-.6l4.06 1.37z"/>
<path fill="#25ab82" d="M147.84 368.04l-2.01-1.98l-2.02-1.98l-1.25-.34l2.02 1.98l2.02 1.98z"/>
<path fill="#2d718e" d="M267.63 420.46l-4.09-1.27l-2.21-.57l4.1 1.28z"/>
<path fill="#218e8d" d="M188.92 394.44l-4.03-1.85l-2.39-.63l4.03 1.86z"/>
<path fill="#22a785" d="M151.88 372l-2.02-1.98l-2.02-1.98l-1.24-.34l2.02 1.98l2.02 1.98z"/>
<path fill="#24878e" d="M203.38 400.02l-4.03-1.57l-2.36-.62l4.04 1.58z"/>
<path fill="#29798e" d="M242.74 412.91l-4.07-1.31l-2.27-.58l4.08 1.31z"/>
<path fill="#20a386" d="M155.91 375.81l-2.02-1.85l-2.01-1.96l-1.24-.34l2.02 1.96l2.02 1.86z"/>
<path fill="#1f958b" d="M174.44 387.79l-4.02-2.38l-2.43-.64l4.03 2.38z"/>
<path fill="#26828e" d="M217.85 405.02l-4.05-1.42l-2.32-.61l4.05 1.43z"/>
<path fill="#2b748e" d="M257.23 417.35l-4.08-1.28l-2.24-.58l4.1 1.29z"/>
<path fill="#1fa088" d="M159.94 379.16l-2.02-1.62l-2.01-1.73l-1.23-.33l2.01 1.73l2.02 1.62z"/>
<path fill="#287d8e" d="M232.33 409.69l-4.06-1.33l-2.3-.59l4.08 1.34z"/>
<path fill="#228d8d" d="M192.95 396.18l-4.03-1.74l-2.39-.62l4.04 1.74z"/>
<path fill="#2d718e" d="M271.73 421.73l-4.1-1.27l-2.2-.56l4.11 1.27z"/>
<path fill="#24878e" d="M207.43 401.53l-4.05-1.51l-2.35-.61l4.05 1.51z"/>
<path fill="#1f948c" d="M178.47 389.96l-4.03-2.17l-2.42-.64l4.03 2.18z"/>
<path fill="#1e9d89" d="M163.96 382.12l-2.01-1.44l-2.01-1.52l-1.23-.33l2.01 1.53l2.02 1.43z"/>
<path fill="#29798e" d="M246.82 414.2l-4.08-1.29l-2.26-.58l4.09 1.3z"/>
<path fill="#26828e" d="M221.91 406.4l-4.06-1.38l-2.32-.6l4.07 1.39z"/>
<path fill="#2b748e" d="M261.33 418.62l-4.1-1.27l-2.22-.57l4.1 1.28z"/>
<path fill="#1e9b8a" d="M167.99 384.77l-2.01-1.29l-2.02-1.36l-1.22-.33l2.01 1.36l2.02 1.29z"/>
<path fill="#287d8e" d="M236.4 411.02l-4.07-1.33l-2.28-.58l4.08 1.32z"/>
<path fill="#228c8d" d="M196.99 397.83l-4.04-1.65l-2.38-.62l4.04 1.66z"/>
<path fill="#20928c" d="M182.5 391.96l-4.03-2l-2.42-.63l4.04 2z"/>
<path fill="#24868e" d="M211.48 402.99l-4.05-1.46l-2.35-.61l4.06 1.47z"/>
<path fill="#29798e" d="M250.91 415.49l-4.09-1.29l-2.25-.57l4.1 1.29z"/>
<path fill="#1f988b" d="M172.02 387.15l-2.01-1.16l-2.02-1.22l-1.22-.33l2.02 1.22l2.01 1.17z"/>
<path fill="#26828e" d="M225.97 407.77l-4.06-1.37l-2.31-.59l4.07 1.36z"/>
<path fill="#2b748e" d="M265.43 419.9l-4.1-1.28l-2.22-.56l4.11 1.27z"/>
<path fill="#20928c" d="M186.53 393.82l-4.03-1.86l-2.41-.63l4.04 1.86z"/>
<path fill="#228b8d" d="M201.03 399.41l-4.04-1.58l-2.38-.61l4.05 1.58z"/>
<path fill="#287d8e" d="M240.48 412.33l-4.08-1.31l-2.27-.59l4.08 1.32z"/>
<path fill="#24868e" d="M215.53 404.42l-4.05-1.43l-2.34-.6l4.06 1.43z"/>
<path fill="#1f978b" d="M176.05 389.33l-2.02-1.07l-2.01-1.11l-1.22-.32l2.02 1.11l2.02 1.07z"/>
<path fill="#29798e" d="M255.01 416.78l-4.1-1.29l-2.24-.57l4.1 1.29z"/>
<path fill="#26828e" d="M230.05 409.11l-4.08-1.34l-2.3-.6l4.08 1.35z"/>
<path fill="#21918c" d="M190.57 395.56l-4.04-1.74l-2.4-.63l4.04 1.75z"/>
<path fill="#2b748e" d="M269.54 421.17l-4.11-1.27l-2.21-.57l4.12 1.28z"/>
<path fill="#228b8d" d="M205.08 400.92l-4.05-1.51l-2.37-.61l4.06 1.51z"/>
<path fill="#287d8e" d="M244.57 413.63l-4.09-1.3l-2.27-.58l4.1 1.3z"/>
<path fill="#1f958b" d="M180.09 391.33l-2.02-.98l-2.02-1.02l-1.21-.32l2.02 1.02l2.02 .98z"/>
<path fill="#24868e" d="M219.6 405.81l-4.07-1.39l-2.33-.6l4.07 1.39z"/>
<path fill="#29798e" d="M259.11 418.06l-4.1-1.28l-2.24-.57l4.11 1.28z"/>
<path fill="#26828e" d="M234.13 410.43l-4.08-1.32l-2.3-.59l4.08 1.33z"/>
<path fill="#21908d" d="M194.61 397.22l-4.04-1.66l-2.4-.62l4.06 1.66z"/>
<path fill="#228b8d" d="M209.14 402.39l-4.06-1.47l-2.36-.61l4.06 1.47z"/>
<path fill="#1f948c" d="M184.13 393.19l-2.02-.91l-2.02-.95l-1.21-.32l2.02 .95l2.02 .92z"/>
<path fill="#287d8e" d="M248.67 414.92l-4.1-1.29l-2.26-.58l4.1 1.29z"/>
<path fill="#25858e" d="M223.67 407.17l-4.07-1.36l-2.33-.6l4.08 1.37z"/>
<path fill="#29798e" d="M263.22 419.33l-4.11-1.27l-2.23-.57l4.12 1.28z"/>
<path fill="#21908d" d="M198.66 398.8l-4.05-1.58l-2.38-.62l4.05 1.58z"/>
<path fill="#26828e" d="M238.21 411.75l-4.08-1.32l-2.3-.58l4.1 1.31z"/>
<path fill="#20938c" d="M188.17 394.94l-2.02-.86l-2.02-.89l-1.21-.31l2.03 .89l2.02 .86z"/>
<path fill="#238a8d" d="M213.2 403.82l-4.06-1.43l-2.36-.61l4.08 1.43z"/>
<path fill="#287d8e" d="M252.77 416.21l-4.1-1.29l-2.26-.58l4.11 1.29z"/>
<path fill="#25858e" d="M227.75 408.52l-4.08-1.35l-2.32-.59l4.09 1.34z"/>
<path fill="#2a788e" d="M267.34 420.61l-4.12-1.28l-2.22-.56l4.12 1.27z"/>
<path fill="#218f8d" d="M202.72 400.31l-4.06-1.51l-2.38-.62l4.07 1.52z"/>
<path fill="#26818e" d="M242.31 413.05l-4.1-1.3l-2.28-.59l4.1 1.31z"/>
<path fill="#20938c" d="M192.23 396.6l-2.03-.82l-2.03-.84l-1.2-.31l2.03 .84l2.03 .82z"/>
<path fill="#238a8d" d="M217.27 405.21l-4.07-1.39l-2.34-.61l4.08 1.4z"/>
<path fill="#287d8e" d="M256.88 417.49l-4.11-1.28l-2.25-.58l4.12 1.29z"/>
<path fill="#25858e" d="M231.83 409.85l-4.08-1.33l-2.31-.6l4.09 1.34z"/>
<path fill="#218f8d" d="M206.78 401.78l-4.06-1.47l-2.37-.61l4.07 1.47z"/>
<path fill="#20928c" d="M196.28 398.18l-2.03-.78l-2.02-.8l-1.2-.31l2.03 .8l2.03 .78z"/>
<path fill="#26818e" d="M246.41 414.34l-4.1-1.29l-2.28-.58l4.11 1.29z"/>
<path fill="#238a8d" d="M221.35 406.58l-4.08-1.37l-2.33-.6l4.08 1.37z"/>
<path fill="#287d8e" d="M261 418.77l-4.12-1.28l-2.24-.57l4.12 1.28z"/>
<path fill="#25858e" d="M235.93 411.16l-4.1-1.31l-2.3-.59l4.11 1.31z"/>
<path fill="#218f8d" d="M210.86 403.21l-4.08-1.43l-2.36-.61l4.08 1.43z"/>
<path fill="#20928c" d="M200.35 399.7l-2.03-.75l-2.04-.77l-1.19-.31l2.03 .77l2.04 .75z"/>
<path fill="#26818e" d="M250.52 415.63l-4.11-1.29l-2.27-.58l4.12 1.29z"/>
<path fill="#238a8d" d="M225.44 407.92l-4.09-1.34l-2.33-.6l4.1 1.35z"/>
<path fill="#287d8e" d="M265.12 420.04l-4.12-1.27l-2.24-.57l4.14 1.28z"/>
<path fill="#25858e" d="M240.03 412.47l-4.1-1.31l-2.29-.59l4.11 1.31z"/>
<path fill="#218e8d" d="M214.94 404.61l-4.08-1.4l-2.36-.61l4.09 1.4z"/>
<path fill="#20928c" d="M204.42 401.17l-2.04-.73l-2.03-.74l-1.19-.31l2.04 .75l2.04 .73z"/>
<path fill="#26818e" d="M254.64 416.92l-4.12-1.29l-2.26-.58l4.13 1.29z"/>
<path fill="#23898e" d="M229.53 409.26l-4.09-1.34l-2.32-.59l4.1 1.33z"/>
<path fill="#25858e" d="M244.14 413.76l-4.11-1.29l-2.28-.59l4.11 1.3z"/>
<path fill="#20928c" d="M208.5 402.6l-2.04-.71l-2.04-.72l-1.18-.3l2.04 .72l2.04 .71z"/>
<path fill="#218e8d" d="M219.02 405.98l-4.08-1.37l-2.35-.61l4.09 1.38z"/>
<path fill="#26818e" d="M258.76 418.2l-4.12-1.28l-2.25-.58l4.13 1.28z"/>
<path fill="#23898e" d="M233.64 410.57l-4.11-1.31l-2.31-.6l4.11 1.32z"/>
<path fill="#25858e" d="M248.26 415.05l-4.12-1.29l-2.28-.58l4.13 1.29z"/>
<path fill="#20928c" d="M212.59 404l-2.05-.69l-2.04-.71l-1.18-.3l2.04 .7l2.05 .7z"/>
<path fill="#218e8d" d="M223.12 407.33l-4.1-1.35l-2.34-.6l4.11 1.35z"/>
<path fill="#26818e" d="M262.9 419.48l-4.14-1.28l-2.24-.58l4.14 1.29z"/>
<path fill="#23898e" d="M237.75 411.88l-4.11-1.31l-2.31-.59l4.12 1.31z"/>
<path fill="#25858e" d="M252.39 416.34l-4.13-1.29l-2.27-.58l4.13 1.29z"/>
<path fill="#21918c" d="M216.68 405.38l-2.04-.69l-2.05-.69l-1.18-.3l2.05 .69l2.05 .69z"/>
<path fill="#218e8d" d="M227.22 408.66l-4.1-1.33l-2.33-.6l4.11 1.34z"/>
<path fill="#23898e" d="M241.86 413.18l-4.11-1.3l-2.3-.59l4.12 1.31z"/>
<path fill="#25858e" d="M256.52 417.62l-4.13-1.28l-2.27-.58l4.15 1.29z"/>
<path fill="#21918c" d="M220.79 406.73l-2.06-.67l-2.05-.68l-1.17-.3l2.05 .67l2.06 .68z"/>
<path fill="#218e8d" d="M231.33 409.98l-4.11-1.32l-2.32-.59l4.11 1.32z"/>
<path fill="#23898e" d="M245.99 414.47l-4.13-1.29l-2.29-.58l4.14 1.29z"/>
<path fill="#25858e" d="M260.66 418.91l-4.14-1.29l-2.25-.57l4.14 1.28z"/>
<path fill="#21918c" d="M224.9 408.07l-2.06-.67l-2.05-.67l-1.17-.3l2.05 .67l2.06 .67z"/>
<path fill="#218e8d" d="M235.45 411.29l-4.12-1.31l-2.32-.59l4.13 1.31z"/>
<path fill="#23898e" d="M250.12 415.76l-4.13-1.29l-2.28-.58l4.14 1.29z"/>
<path fill="#21918c" d="M229.01 409.39l-2.06-.66l-2.05-.66l-1.17-.3l2.06 .66l2.06 .66z"/>
<path fill="#228d8d" d="M239.57 412.6l-4.12-1.31l-2.31-.59l4.13 1.31z"/>
<path fill="#23898e" d="M254.27 417.05l-4.15-1.29l-2.27-.58l4.15 1.29z"/>
<path fill="#21918c" d="M233.14 410.7l-2.06-.65l-2.07-.66l-1.16-.3l2.07 .66l2.06 .66z"/>
<path fill="#228d8d" d="M243.71 413.89l-4.14-1.29l-2.3-.59l4.15 1.3z"/>
<path fill="#23898e" d="M258.41 418.33l-4.14-1.28l-2.27-.58l4.16 1.29z"/>
<path fill="#21918c" d="M237.27 412.01l-2.06-.65l-2.07-.66l-1.16-.29l2.07 .65l2.07 .65z"/>
<path fill="#228d8d" d="M247.85 415.18l-4.14-1.29l-2.29-.58l4.15 1.29z"/>
<path fill="#21918c" d="M241.42 413.31l-2.08-.65l-2.07-.65l-1.15-.3l2.07 .65l2.07 .65z"/>
<path fill="#228d8d" d="M252 416.47l-4.15-1.29l-2.28-.58l4.15 1.29z"/>
<path fill="#21918c" d="M245.57 414.6l-2.08-.65l-2.07-.64l-1.16-.3l2.08 .65l2.08 .65z"/>
<path fill="#228d8d" d="M256.16 417.76l-4.16-1.29l-2.28-.58l4.17 1.29z"/>
<path fill="#21918c" d="M249.72 415.89l-2.08-.64l-2.07-.65l-1.15-.29l2.08 .64l2.08 .65z"/>
<path fill="#21908d" d="M253.89 417.18l-2.09-.64l-2.08-.65l-1.14-.29l2.08 .65l2.09 .64z"/>
</g>
<g id="text_21" transform="translate(.14 0)">
<text style="font-size: 16px; text-anchor: middle; fill: #262626" x="204.192" y="124.216">TeLU Activation Surface</text>
</g>
</g>
<g id="axes_2">
<g id="patch_6">
<path d="M 434.952 439.812 L 474.444 439.812 L 474.444 242.64 L 434.952 242.64 z
" style="fill: #ffffff"/>
</g>
<g id="matplotlib.axis_1"/>
<g id="matplotlib.axis_2">
<g id="ytick_1">
<g id="line2d_38">
<defs>
<path id="mba989f57bf" d="M 0 0 L 6 0 
" style="stroke: #262626; stroke-width: 1.25"/>
</defs>
<g>
<use href="#mba989f57bf" x="474.444" y="406.877" style="fill: #262626; stroke: #262626; stroke-width: 1.25"/>
</g>
</g>
<g id="text_22" transform="translate(.86 1.37)">
<text style="font-size: 11.5px; text-anchor: start; fill: #262626" x="483.944" y="411.056">0</text>
</g>
</g>
<g id="ytick_2">
<g id="line2d_39">
<g>
<use href="#mba989f57bf" x="474.444" y="373.694" style="fill: #262626; stroke: #262626; stroke-width: 1.25"/>
</g>
</g>
<g id="text_23" transform="translate(.86 1.37)">
<text style="font-size: 11.5px; text-anchor: start; fill: #262626" x="483.944" y="377.874">2</text>
</g>
</g>
<g id="ytick_3">
<g id="line2d_40">
<g>
<use href="#mba989f57bf" x="474.444" y="340.512" style="fill: #262626; stroke: #262626; stroke-width: 1.25"/>
</g>
</g>
<g id="text_24" transform="translate(.86 1.37)">
<text style="font-size: 11.5px; text-anchor: start; fill: #262626" x="483.944" y="344.691">4</text>
</g>
</g>
<g id="ytick_4">
<g id="line2d_41">
<g>
<use href="#mba989f57bf" x="474.444" y="307.329" style="fill: #262626; stroke: #262626; stroke-width: 1.25"/>
</g>
</g>
<g id="text_25" transform="translate(.86 1.37)">
<text style="font-size: 11.5px; text-anchor: start; fill: #262626" x="483.944" y="311.508">6</text>
</g>
</g>
<g id="ytick_5">
<g id="line2d_42">
<g>
<use href="#mba989f57bf" x="474.444" y="274.146" style="fill: #262626; stroke: #262626; stroke-width: 1.25"/>
</g>
</g>
<g id="text_26" transform="translate(.86 1.37)">
<text style="font-size: 11.5px; text-anchor: start; fill: #262626" x="483.944" y="278.325">8</text>
</g>
</g>
<g id="text_27" transform="translate(1.44 .94)">
<text style="font-size: 14px; text-anchor: middle; fill: #262626" x="495.304" y="341.226" transform="rotate(-270 495.304 341.226)">Activation Value</text>
</g>
</g>
<g shape-rendering="crispEdges" transform="translate(434.88 242.64) scale(39.600 0.770)"><path fill="#693476" d="M0 255h1v1h-1z"/><path fill="#6a3577" d="M0 254h1v1h-1z"/><path fill="#6a3679" d="M0 253h1v1h-1z"/><path fill="#6a377a" d="M0 252h1v1h-1z"/><path fill="#6b387b" d="M0 251h1v1h-1z"/><path fill="#6b397c" d="M0 250h1v1h-1z"/><path fill="#6b3b7d" d="M0 249h1v1h-1z"/><path fill="#6b3c7f" d="M0 248h1v1h-1z"/><path fill="#6c3d80" d="M0 247h1v1h-1z"/><path fill="#6c3e81" d="M0 246h1v1h-1z"/><path fill="#6c4082" d="M0 245h1v1h-1z"/><path fill="#6c4183" d="M0 244h1v1h-1z"/><path fill="#6c4284" d="M0 243h1v1h-1z"/><path fill="#6c4385" d="M0 242h1v1h-1z"/><path fill="#6c4486" d="M0 241h1v1h-1z"/><path fill="#6d4587" d="M0 240h1v1h-1z"/><path fill="#6d4688" d="M0 239h1v1h-1z"/><path fill="#6d4789" d="M0 238h1v1h-1z"/><path fill="#6d498a" d="M0 237h1v1h-1z"/><path fill="#6d4a8b" d="M0 236h1v1h-1z"/><path fill="#6d4b8c" d="M0 235h1v1h-1z"/><path fill="#6d4c8d" d="M0 234h1v1h-1z"/><path fill="#6d4d8e" d="M0 233h1v1h-1z"/><path fill="#6d4e8f" d="M0 232h1v1h-1z"/><path fill="#6d4f8f" d="M0 231h1v1h-1z"/><path fill="#6d5090" d="M0 230h1v1h-1z"/><path fill="#6d5191" d="M0 229h1v1h-1z"/><path fill="#6d5292" d="M0 228h1v1h-1z"/><path fill="#6c5393" d="M0 227h1v1h-1z"/><path fill="#6c5493" d="M0 226h1v1h-1z"/><path fill="#6c5594" d="M0 225h1v1h-1z"/><path fill="#6c5695" d="M0 224h1v1h-1z"/><path fill="#6c5796" d="M0 223h1v1h-1z"/><path fill="#6c5896" d="M0 222h1v1h-1z"/><path fill="#6c5997" d="M0 221h1v1h-1z"/><path fill="#6b5a98" d="M0 220h1v1h-1z"/><path fill="#6b5b98" d="M0 219h1v1h-1z"/><path fill="#6b5c99" d="M0 218h1v1h-1z"/><path fill="#6b5d99" d="M0 217h1v1h-1z"/><path fill="#6a5e9a" d="M0 216h1v1h-1z"/><path fill="#6a5f9a" d="M0 215h1v1h-1z"/><path fill="#6a609b" d="M0 214h1v1h-1z"/><path fill="#6a619b" d="M0 213h1v1h-1z"/><path fill="#69629c" d="M0 212h1v1h-1z"/><path fill="#69639c" d="M0 211h1v1h-1z"/><path fill="#69639d" d="M0 210h1v1h-1z"/><path fill="#68649d" d="M0 209h1v1h-1z"/><path fill="#68659e" d="M0 208h1v1h-1z"/><path fill="#68669e" d="M0 207h1v1h-1z"/><path fill="#67679e" d="M0 206h1v1h-1z"/><path fill="#67689f" d="M0 205h1v1h-1z"/><path fill="#67699f" d="M0 204h1v1h-1z"/><path fill="#666a9f" d="M0 203h1v1h-1z"/><path fill="#666ba0" d="M0 202h1v1h-1z"/><path fill="#666ca0" d="M0 201h1v1h-1z"/><path fill="#656da0" d="M0 200h1v1h-1z"/><path fill="#656ea1" d="M0 199h1v1h-1z"/><path fill="#656fa1" d="M0 198h1v1h-1z"/><path fill="#646fa1" d="M0 197h1v1h-1z"/><path fill="#6470a1" d="M0 196h1v1h-1z"/><path fill="#6371a2" d="M0 195h1v1h-1z"/><path fill="#6372a2" d="M0 194h1v1h-1z"/><path fill="#6373a2" d="M0 193h1v1h-1z"/><path fill="#6274a2" d="M0 192h1v1h-1z"/><path fill="#6275a2" d="M0 191h1v1h-1z"/><path fill="#6176a2" d="M0 190h1v1h-1z"/><path fill="#6176a3" d="M0 189h1v1h-1z"/><path fill="#6177a3" d="M0 188h1v1h-1z"/><path fill="#6078a3" d="M0 187h1v1h-1z"/><path fill="#6079a3" d="M0 186h1v1h-1z"/><path fill="#5f7aa3" d="M0 185h1v1h-1z"/><path fill="#5f7ba3" d="M0 184h1v1h-1z"/><path fill="#5f7ca3" d="M0 183h1v1h-1z"/><path fill="#5e7ca4" d="M0 182h1v1h-1z"/><path fill="#5e7da4" d="M0 181h1v1h-1z"/><path fill="#5e7ea4" d="M0 180h1v1h-1z"/><path fill="#5d7fa4" d="M0 179h1v1h-1z"/><path fill="#5d80a4" d="M0 178h1v1h-1z"/><path fill="#5c80a4" d="M0 177h1v1h-1z"/><path fill="#5c81a4" d="M0 176h1v1h-1z"/><path fill="#5c82a4" d="M0 175h1v1h-1z"/><path fill="#5b83a4" d="M0 174h1v1h-1z"/><path fill="#5b84a4" d="M0 173h1v1h-1z"/><path fill="#5b84a4" d="M0 172h1v1h-1z"/><path fill="#5a85a4" d="M0 171h1v1h-1z"/><path fill="#5a86a4" d="M0 170h1v1h-1z"/><path fill="#5a87a4" d="M0 169h1v1h-1z"/><path fill="#5988a5" d="M0 168h1v1h-1z"/><path fill="#5988a5" d="M0 167h1v1h-1z"/><path fill="#5989a5" d="M0 166h1v1h-1z"/><path fill="#588aa5" d="M0 165h1v1h-1z"/><path fill="#588ba5" d="M0 164h1v1h-1z"/><path fill="#588ba5" d="M0 163h1v1h-1z"/><path fill="#578ca5" d="M0 162h1v1h-1z"/><path fill="#578da5" d="M0 161h1v1h-1z"/><path fill="#578ea5" d="M0 160h1v1h-1z"/><path fill="#568fa5" d="M0 159h1v1h-1z"/><path fill="#568fa5" d="M0 158h1v1h-1z"/><path fill="#5690a5" d="M0 157h1v1h-1z"/><path fill="#5591a5" d="M0 156h1v1h-1z"/><path fill="#5592a5" d="M0 155h1v1h-1z"/><path fill="#5592a5" d="M0 154h1v1h-1z"/><path fill="#5493a5" d="M0 153h1v1h-1z"/><path fill="#5494a5" d="M0 152h1v1h-1z"/><path fill="#5495a5" d="M0 151h1v1h-1z"/><path fill="#5395a5" d="M0 150h1v1h-1z"/><path fill="#5396a5" d="M0 149h1v1h-1z"/><path fill="#5397a5" d="M0 148h1v1h-1z"/><path fill="#5398a5" d="M0 147h1v1h-1z"/><path fill="#5298a5" d="M0 146h1v1h-1z"/><path fill="#5299a5" d="M0 145h1v1h-1z"/><path fill="#529aa5" d="M0 144h1v1h-1z"/><path fill="#519ba5" d="M0 143h1v1h-1z"/><path fill="#519ba5" d="M0 142h1v1h-1z"/><path fill="#519ca5" d="M0 141h1v1h-1z"/><path fill="#519da5" d="M0 140h1v1h-1z"/><path fill="#509ea4" d="M0 139h1v1h-1z"/><path fill="#509ea4" d="M0 138h1v1h-1z"/><path fill="#509fa4" d="M0 137h1v1h-1z"/><path fill="#4fa0a4" d="M0 136h1v1h-1z"/><path fill="#4fa1a4" d="M0 135h1v1h-1z"/><path fill="#4fa1a4" d="M0 134h1v1h-1z"/><path fill="#4fa2a4" d="M0 133h1v1h-1z"/><path fill="#4ea3a4" d="M0 132h1v1h-1z"/><path fill="#4ea4a4" d="M0 131h1v1h-1z"/><path fill="#4ea4a4" d="M0 130h1v1h-1z"/><path fill="#4ea5a4" d="M0 129h1v1h-1z"/><path fill="#4da6a3" d="M0 128h1v1h-1z"/><path fill="#4da7a3" d="M0 127h1v1h-1z"/><path fill="#4da7a3" d="M0 126h1v1h-1z"/><path fill="#4da8a3" d="M0 125h1v1h-1z"/><path fill="#4ca9a3" d="M0 124h1v1h-1z"/><path fill="#4caaa3" d="M0 123h1v1h-1z"/><path fill="#4caaa2" d="M0 122h1v1h-1z"/><path fill="#4caba2" d="M0 121h1v1h-1z"/><path fill="#4caca2" d="M0 120h1v1h-1z"/><path fill="#4cada2" d="M0 119h1v1h-1z"/><path fill="#4bada2" d="M0 118h1v1h-1z"/><path fill="#4baea1" d="M0 117h1v1h-1z"/><path fill="#4bafa1" d="M0 116h1v1h-1z"/><path fill="#4bb0a1" d="M0 115h1v1h-1z"/><path fill="#4bb0a1" d="M0 114h1v1h-1z"/><path fill="#4bb1a0" d="M0 113h1v1h-1z"/><path fill="#4bb2a0" d="M0 112h1v1h-1z"/><path fill="#4cb3a0" d="M0 111h1v1h-1z"/><path fill="#4cb3a0" d="M0 110h1v1h-1z"/><path fill="#4cb49f" d="M0 109h1v1h-1z"/><path fill="#4cb59f" d="M0 108h1v1h-1z"/><path fill="#4cb69f" d="M0 107h1v1h-1z"/><path fill="#4db69e" d="M0 106h1v1h-1z"/><path fill="#4db79e" d="M0 105h1v1h-1z"/><path fill="#4eb89d" d="M0 104h1v1h-1z"/><path fill="#4eb99d" d="M0 103h1v1h-1z"/><path fill="#4eb99d" d="M0 102h1v1h-1z"/><path fill="#4fba9c" d="M0 101h1v1h-1z"/><path fill="#50bb9c" d="M0 100h1v1h-1z"/><path fill="#50bc9b" d="M0 99h1v1h-1z"/><path fill="#51bc9b" d="M0 98h1v1h-1z"/><path fill="#52bd9a" d="M0 97h1v1h-1z"/><path fill="#52be9a" d="M0 96h1v1h-1z"/><path fill="#53be99" d="M0 95h1v1h-1z"/><path fill="#54bf99" d="M0 94h1v1h-1z"/><path fill="#55c098" d="M0 93h1v1h-1z"/><path fill="#56c198" d="M0 92h1v1h-1z"/><path fill="#57c197" d="M0 91h1v1h-1z"/><path fill="#58c297" d="M0 90h1v1h-1z"/><path fill="#59c396" d="M0 89h1v1h-1z"/><path fill="#5ac495" d="M0 88h1v1h-1z"/><path fill="#5bc495" d="M0 87h1v1h-1z"/><path fill="#5cc594" d="M0 86h1v1h-1z"/><path fill="#5dc693" d="M0 85h1v1h-1z"/><path fill="#5fc693" d="M0 84h1v1h-1z"/><path fill="#60c792" d="M0 83h1v1h-1z"/><path fill="#61c891" d="M0 82h1v1h-1z"/><path fill="#62c891" d="M0 81h1v1h-1z"/><path fill="#64c990" d="M0 80h1v1h-1z"/><path fill="#65ca8f" d="M0 79h1v1h-1z"/><path fill="#67ca8e" d="M0 78h1v1h-1z"/><path fill="#68cb8e" d="M0 77h1v1h-1z"/><path fill="#69cc8d" d="M0 76h1v1h-1z"/><path fill="#6bcc8c" d="M0 75h1v1h-1z"/><path fill="#6ccd8b" d="M0 74h1v1h-1z"/><path fill="#6ece8a" d="M0 73h1v1h-1z"/><path fill="#6fce8a" d="M0 72h1v1h-1z"/><path fill="#71cf89" d="M0 71h1v1h-1z"/><path fill="#73d088" d="M0 70h1v1h-1z"/><path fill="#74d087" d="M0 69h1v1h-1z"/><path fill="#76d186" d="M0 68h1v1h-1z"/><path fill="#78d285" d="M0 67h1v1h-1z"/><path fill="#79d284" d="M0 66h1v1h-1z"/><path fill="#7bd383" d="M0 65h1v1h-1z"/><path fill="#7dd382" d="M0 64h1v1h-1z"/><path fill="#7ed481" d="M0 63h1v1h-1z"/><path fill="#80d580" d="M0 62h1v1h-1z"/><path fill="#82d57f" d="M0 61h1v1h-1z"/><path fill="#84d67e" d="M0 60h1v1h-1z"/><path fill="#85d67d" d="M0 59h1v1h-1z"/><path fill="#87d77c" d="M0 58h1v1h-1z"/><path fill="#89d77b" d="M0 57h1v1h-1z"/><path fill="#8bd87a" d="M0 56h1v1h-1z"/><path fill="#8dd879" d="M0 55h1v1h-1z"/><path fill="#8fd977" d="M0 54h1v1h-1z"/><path fill="#91da76" d="M0 53h1v1h-1z"/><path fill="#92da75" d="M0 52h1v1h-1z"/><path fill="#94db74" d="M0 51h1v1h-1z"/><path fill="#96db73" d="M0 50h1v1h-1z"/><path fill="#98dc72" d="M0 49h1v1h-1z"/><path fill="#9adc70" d="M0 48h1v1h-1z"/><path fill="#9cdd6f" d="M0 47h1v1h-1z"/><path fill="#9edd6e" d="M0 46h1v1h-1z"/><path fill="#a0de6d" d="M0 45h1v1h-1z"/><path fill="#a2de6b" d="M0 44h1v1h-1z"/><path fill="#a4de6a" d="M0 43h1v1h-1z"/><path fill="#a6df69" d="M0 42h1v1h-1z"/><path fill="#a8df67" d="M0 41h1v1h-1z"/><path fill="#aae066" d="M0 40h1v1h-1z"/><path fill="#ade065" d="M0 39h1v1h-1z"/><path fill="#afe163" d="M0 38h1v1h-1z"/><path fill="#b1e162" d="M0 37h1v1h-1z"/><path fill="#b3e161" d="M0 36h1v1h-1z"/><path fill="#b5e25f" d="M0 35h1v1h-1z"/><path fill="#b7e25e" d="M0 34h1v1h-1z"/><path fill="#b9e25c" d="M0 33h1v1h-1z"/><path fill="#bbe35b" d="M0 32h1v1h-1z"/><path fill="#bde35a" d="M0 31h1v1h-1z"/><path fill="#c0e458" d="M0 30h1v1h-1z"/><path fill="#c2e457" d="M0 29h1v1h-1z"/><path fill="#c4e456" d="M0 28h1v1h-1z"/><path fill="#c6e554" d="M0 27h1v1h-1z"/><path fill="#c8e553" d="M0 26h1v1h-1z"/><path fill="#cae552" d="M0 25h1v1h-1z"/><path fill="#cce550" d="M0 24h1v1h-1z"/><path fill="#cfe64f" d="M0 23h1v1h-1z"/><path fill="#d1e64e" d="M0 22h1v1h-1z"/><path fill="#d3e64d" d="M0 21h1v1h-1z"/><path fill="#d5e74b" d="M0 20h1v1h-1z"/><path fill="#d7e74a" d="M0 19h1v1h-1z"/><path fill="#d9e74a" d="M0 18h1v1h-1z"/><path fill="#dbe749" d="M0 17h1v1h-1z"/><path fill="#dde848" d="M0 16h1v1h-1z"/><path fill="#dfe847" d="M0 15h1v1h-1z"/><path fill="#e2e847" d="M0 14h1v1h-1z"/><path fill="#e4e947" d="M0 13h1v1h-1z"/><path fill="#e6e946" d="M0 12h1v1h-1z"/><path fill="#e8e946" d="M0 11h1v1h-1z"/><path fill="#eae947" d="M0 10h1v1h-1z"/><path fill="#ecea47" d="M0 9h1v1h-1z"/><path fill="#eeea48" d="M0 8h1v1h-1z"/><path fill="#f0ea48" d="M0 7h1v1h-1z"/><path fill="#f2ea49" d="M0 6h1v1h-1z"/><path fill="#f4eb4a" d="M0 5h1v1h-1z"/><path fill="#f6eb4b" d="M0 4h1v1h-1z"/><path fill="#f8eb4c" d="M0 3h1v1h-1z"/><path fill="#faeb4e" d="M0 2h1v1h-1z"/><path fill="#fcec4f" d="M0 1h1v1h-1z"/><path fill="#feec50" d="M0 0h1v1h-1z"/></g>
<g id="LineCollection_1"/>
<g id="patch_7">
<path d="M 434.880 439.920 L 455.040 439.920 L 474.480 439.920 L 474.480 242.640 L 455.040 242.640 L 434.880 242.640 L 434.880 439.920 z" style="fill: none; stroke: #cccccc; stroke-width: 1.25; stroke-linejoin: miter; stroke-linecap: square"/>
</g>
</g>
<g id="axes_3">
<g id="patch_8">
<path d="M 596.916 538.416 L 1136.124 538.416 L 1136.124 144.72 L 596.916 144.72 z
" style="fill: #ffffff"/>
</g>
<g clip-path="url(#p050f5b1863)">
<g shape-rendering="crispEdges" transform="translate(596.88 144.72) scale(5.392 3.938)"><path fill="#000004" d="M0 93h3v1h-3zM0 94h4v1h-4zM0 95h5v1h-5zM0 96h6v1h-6zM0 97h7v3h-7z"/><path fill="#010005" d="M0 89h3v1h-3zM0 90h6v1h-6zM0 91h8v1h-8zM0 92h9v1h-9zM3 93h6v1h-6zM4 94h6v1h-6zM5 95h5v1h-5zM6 96h4v1h-4zM7 97h4v3h-4z"/><path fill="#010106" d="M0 86h1v1h-1zM0 87h7v1h-7zM0 88h9v1h-9zM3 89h7v1h-7zM6 90h5v1h-5zM8 91h4v1h-4zM9 92h3v1h-3zM9 93h4v1h-4zM10 94h3v3h-3zM11 97h2v2h-2zM11 99h3v1h-3z"/><path fill="#010108" d="M0 84h1v1h-1zM0 85h8v1h-8zM1 86h10v1h-10zM7 87h5v1h-5zM9 88h4v1h-4zM10 89h4v1h-4zM11 90h3v1h-3zM12 91h2v1h-2zM12 92h3v1h-3zM13 93h2v6h-2zM14 99h2v1h-2z"/><path fill="#020109" d="M0 83h8v1h-8zM1 84h11v1h-11zM8 85h5v1h-5zM11 86h3v1h-3zM12 87h3v1h-3zM13 88h3v1h-3zM14 89h2v3h-2zM15 92h2v7h-2zM16 99h1v1h-1z"/><path fill="#02020b" d="M0 81h3v1h-3zM0 82h11v1h-11zM8 83h6v1h-6zM12 84h3v1h-3zM13 85h3v1h-3zM14 86h3v1h-3zM15 87h2v1h-2zM16 88h1v1h-1zM16 89h2v3h-2zM17 92h1v5h-1zM17 97h2v3h-2z"/><path fill="#02020d" d="M0 80h8v1h-8zM3 81h10v1h-10zM11 82h4v1h-4zM14 83h2v1h-2zM15 84h2v1h-2zM16 85h2v1h-2zM17 86h1v1h-1zM17 87h2v2h-2zM18 89h1v3h-1zM18 92h2v5h-2zM19 97h1v3h-1z"/><path fill="#03030f" d="M0 79h9v1h-9zM8 80h6v1h-6zM13 81h3v1h-3zM15 82h3v1h-3zM16 83h2v1h-2zM17 84h2v1h-2zM18 85h1v1h-1zM18 86h2v1h-2zM19 87h1v4h-1zM19 91h2v1h-2zM20 92h1v8h-1z"/><path fill="#030312" d="M0 78h10v1h-10zM9 79h6v1h-6zM14 80h3v1h-3zM16 81h3v1h-3zM18 82h1v1h-1zM18 83h2v1h-2zM19 84h1v1h-1zM19 85h2v1h-2zM20 86h1v4h-1zM20 90h2v1h-2zM21 91h1v9h-1z"/><path fill="#040414" d="M0 77h10v1h-10zM10 78h6v1h-6zM15 79h3v1h-3zM17 80h2v1h-2zM19 81h1v1h-1zM19 82h2v1h-2zM20 83h1v1h-1zM20 84h2v1h-2zM21 85h1v5h-1zM22 90h1v10h-1z"/><path fill="#050416" d="M0 76h7v1h-7zM10 77h6v1h-6zM16 78h3v1h-3zM18 79h2v1h-2zM19 80h2v1h-2zM20 81h2v1h-2zM21 82h1v2h-1zM22 84h1v6h-1zM23 93h1v7h-1z"/><path fill="#060518" d="M7 76h9v1h-9zM16 77h3v1h-3zM19 78h1v1h-1zM20 79h1v1h-1zM21 80h1v1h-1zM22 81h1v3h-1zM23 84h1v9h-1z"/><path fill="#06051a" d="M0 75h14v1h-14zM16 76h3v1h-3zM19 77h2v1h-2zM20 78h2v1h-2zM21 79h2v1h-2zM22 80h1v1h-1zM23 81h1v3h-1zM24 86h1v14h-1z"/><path fill="#07061c" d="M0 74h11v1h-11zM14 75h4v1h-4zM19 76h2v1h-2zM21 77h1v1h-1zM22 78h1v1h-1zM23 79h1v2h-1zM24 82h1v4h-1zM25 89h1v11h-1z"/><path fill="#08071e" d="M11 74h6v1h-6zM18 75h3v1h-3zM21 76h1v1h-1zM22 77h1v1h-1zM23 78h1v1h-1zM24 79h1v3h-1zM25 83h1v6h-1z"/><path fill="#090720" d="M0 73h15v1h-15zM17 74h3v1h-3zM21 75h1v1h-1zM22 76h2v1h-2zM23 77h1v1h-1zM24 78h1v1h-1zM25 80h1v3h-1zM26 85h1v15h-1z"/><path fill="#0a0822" d="M15 73h4v1h-4zM20 74h2v1h-2zM22 75h2v1h-2zM24 76h1v2h-1zM25 78h1v2h-1zM26 81h1v4h-1z"/><path fill="#0b0924" d="M0 72h16v1h-16zM19 73h2v1h-2zM22 74h1v1h-1zM24 75h1v1h-1zM25 77h1v1h-1zM26 79h1v2h-1zM27 84h1v16h-1z"/><path fill="#0c0926" d="M16 72h4v1h-4zM21 73h2v1h-2zM23 74h2v1h-2zM25 75h1v2h-1zM26 77h1v2h-1zM27 80h1v4h-1z"/><path fill="#0d0a29" d="M0 71h17v1h-17zM20 72h2v1h-2zM23 73h1v1h-1zM25 74h1v1h-1zM26 76h1v1h-1zM27 78h1v2h-1zM28 83h1v17h-1z"/><path fill="#0e0b2b" d="M17 71h3v1h-3zM22 72h2v1h-2zM24 73h1v1h-1zM26 75h1v1h-1zM27 76h1v2h-1zM28 80h1v3h-1z"/><path fill="#100b2d" d="M0 70h16v1h-16zM20 71h3v1h-3zM24 72h1v1h-1zM25 73h1v1h-1zM26 74h1v1h-1zM27 75h1v1h-1zM28 77h1v3h-1zM29 84h1v16h-1z"/><path fill="#110c2f" d="M16 70h4v1h-4zM23 71h1v1h-1zM25 72h1v1h-1zM26 73h1v1h-1zM27 74h1v1h-1zM28 76h1v1h-1zM29 80h1v4h-1z"/><path fill="#120d31" d="M0 69h12v1h-12zM20 70h3v1h-3zM24 71h1v1h-1zM26 72h1v1h-1zM27 73h1v1h-1zM28 75h1v1h-1zM29 77h1v3h-1zM30 88h1v12h-1z"/><path fill="#130d34" d="M12 69h7v1h-7zM23 70h1v1h-1zM25 71h1v1h-1zM27 72h1v1h-1zM28 74h1v1h-1zM29 76h1v1h-1zM30 81h1v7h-1z"/><path fill="#140e36" d="M19 69h3v1h-3zM24 70h2v1h-2zM26 71h1v1h-1zM28 73h1v1h-1zM29 74h1v2h-1zM30 78h1v3h-1z"/><path fill="#150e38" d="M0 68h16v1h-16zM22 69h2v1h-2zM26 70h1v1h-1zM27 71h1v1h-1zM28 72h1v1h-1zM29 73h1v1h-1zM30 76h1v2h-1zM31 84h1v16h-1z"/><path fill="#160f3b" d="M16 68h5v1h-5zM24 69h2v1h-2zM27 70h1v1h-1zM28 71h1v1h-1zM29 72h1v1h-1zM30 74h1v2h-1zM31 79h1v5h-1z"/><path fill="#180f3d" d="M21 68h2v1h-2zM26 69h1v1h-1zM30 73h1v1h-1zM31 77h1v2h-1z"/><path fill="#19103f" d="M0 67h17v1h-17zM23 68h2v1h-2zM27 69h1v1h-1zM28 70h1v1h-1zM29 71h1v1h-1zM30 72h1v1h-1zM31 75h1v2h-1zM32 83h1v17h-1z"/><path fill="#1a1042" d="M17 67h4v1h-4zM25 68h1v1h-1zM29 70h1v1h-1zM31 74h1v1h-1zM32 79h1v4h-1z"/><path fill="#1c1044" d="M21 67h3v1h-3zM26 68h1v1h-1zM28 69h1v1h-1zM30 71h1v1h-1zM31 73h1v1h-1zM32 76h1v3h-1z"/><path fill="#1d1147" d="M0 66h14v1h-14zM24 67h2v1h-2zM27 68h1v1h-1zM29 69h1v1h-1zM30 70h1v1h-1zM31 72h1v1h-1zM32 74h1v2h-1zM33 86h1v14h-1z"/><path fill="#1e1149" d="M14 66h7v1h-7zM26 67h1v1h-1zM28 68h1v1h-1zM31 71h1v1h-1zM32 73h1v1h-1zM33 79h1v7h-1z"/><path fill="#20114b" d="M21 66h3v1h-3zM27 67h1v1h-1zM29 68h1v1h-1zM30 69h1v1h-1zM31 70h1v1h-1zM32 72h1v1h-1zM33 76h1v3h-1z"/><path fill="#21114e" d="M24 66h2v1h-2zM28 67h1v1h-1zM32 71h1v1h-1zM33 74h1v2h-1z"/><path fill="#221150" d="M0 65h18v1h-18zM26 66h1v1h-1zM29 67h1v1h-1zM30 68h1v1h-1zM31 69h1v1h-1zM32 70h1v1h-1zM33 73h1v1h-1zM34 82h1v18h-1z"/><path fill="#241253" d="M18 65h5v1h-5zM27 66h1v1h-1zM33 72h1v1h-1zM34 77h1v5h-1z"/><path fill="#251255" d="M23 65h2v1h-2zM28 66h1v1h-1zM30 67h1v1h-1zM31 68h1v1h-1zM32 69h1v1h-1zM33 71h1v1h-1zM34 75h1v2h-1z"/><path fill="#271258" d="M25 65h2v1h-2zM29 66h1v1h-1zM33 70h1v1h-1zM34 73h1v2h-1z"/><path fill="#29115a" d="M0 64h18v1h-18zM27 65h1v1h-1zM31 67h1v1h-1zM32 68h1v1h-1zM34 72h1v1h-1zM35 82h1v18h-1z"/><path fill="#2a115c" d="M18 64h5v1h-5zM28 65h1v1h-1zM30 66h1v1h-1zM33 69h1v1h-1zM34 71h1v1h-1zM35 77h1v5h-1z"/><path fill="#2c115f" d="M23 64h2v1h-2zM29 65h1v1h-1zM31 66h1v1h-1zM32 67h1v1h-1zM33 68h1v1h-1zM34 70h1v1h-1zM35 75h1v2h-1z"/><path fill="#2d1161" d="M25 64h2v1h-2zM35 73h1v2h-1z"/><path fill="#2f1163" d="M0 63h11v1h-11zM27 64h1v1h-1zM30 65h1v1h-1zM32 66h1v1h-1zM33 67h1v1h-1zM34 69h1v1h-1zM35 72h1v1h-1zM36 89h1v11h-1z"/><path fill="#311165" d="M11 63h11v1h-11zM28 64h1v1h-1zM31 65h1v1h-1zM34 68h1v1h-1zM35 71h1v1h-1zM36 78h1v11h-1z"/><path fill="#331067" d="M22 63h3v1h-3zM29 64h1v1h-1zM33 66h1v1h-1zM35 70h1v1h-1zM36 75h1v3h-1z"/><path fill="#341069" d="M25 63h2v1h-2zM30 64h1v1h-1zM32 65h1v1h-1zM34 67h1v1h-1zM35 69h1v1h-1zM36 73h1v2h-1z"/><path fill="#36106b" d="M27 63h1v1h-1zM31 64h1v1h-1zM35 68h1v1h-1zM36 72h1v1h-1z"/><path fill="#38106c" d="M0 62h13v1h-13zM28 63h1v1h-1zM33 65h1v1h-1zM34 66h1v1h-1zM36 71h1v1h-1zM37 87h1v13h-1z"/><path fill="#390f6e" d="M13 62h9v1h-9zM29 63h1v1h-1zM32 64h1v1h-1zM35 67h1v1h-1zM36 70h1v1h-1zM37 78h1v9h-1z"/><path fill="#3b0f70" d="M22 62h3v1h-3zM30 63h1v1h-1zM36 69h1v1h-1zM37 75h1v3h-1z"/><path fill="#3d0f71" d="M25 62h2v1h-2zM31 63h1v1h-1zM33 64h1v1h-1zM34 65h1v1h-1zM35 66h1v1h-1zM36 68h1v1h-1zM37 73h1v2h-1z"/><path fill="#3f0f72" d="M27 62h2v1h-2zM37 71h1v2h-1z"/><path fill="#400f74" d="M29 62h1v1h-1zM32 63h1v1h-1zM36 67h1v1h-1zM37 70h1v1h-1z"/><path fill="#420f75" d="M0 61h20v1h-20zM30 62h1v1h-1zM34 64h1v1h-1zM35 65h1v1h-1zM37 69h1v1h-1zM38 80h1v20h-1z"/><path fill="#440f76" d="M20 61h5v1h-5zM31 62h1v1h-1zM33 63h1v1h-1zM36 66h1v1h-1zM37 68h1v1h-1zM38 75h1v5h-1z"/><path fill="#451077" d="M25 61h2v1h-2zM35 64h1v1h-1zM38 73h1v2h-1z"/><path fill="#471078" d="M27 61h2v1h-2zM32 62h1v1h-1zM34 63h1v1h-1zM36 65h1v1h-1zM37 67h1v1h-1zM38 71h1v2h-1z"/><path fill="#491078" d="M29 61h1v1h-1zM38 70h1v1h-1z"/><path fill="#4a1079" d="M30 61h1v1h-1zM33 62h1v1h-1zM37 66h1v1h-1zM38 69h1v1h-1z"/><path fill="#4c117a" d="M0 60h20v1h-20zM31 61h1v1h-1zM35 63h1v1h-1zM36 64h1v1h-1zM38 68h1v1h-1zM39 80h1v20h-1z"/><path fill="#4e117b" d="M20 60h5v1h-5zM34 62h1v1h-1zM37 65h1v1h-1zM39 75h1v5h-1z"/><path fill="#4f127b" d="M25 60h2v1h-2zM32 61h1v1h-1zM38 67h1v1h-1zM39 73h1v2h-1z"/><path fill="#51127c" d="M27 60h2v1h-2zM33 61h1v1h-1zM35 62h1v1h-1zM36 63h1v1h-1zM37 64h1v1h-1zM38 66h1v1h-1zM39 71h1v2h-1z"/><path fill="#52137c" d="M29 60h1v1h-1zM39 70h1v1h-1z"/><path fill="#54137d" d="M30 60h1v1h-1zM34 61h1v1h-1zM38 65h1v1h-1zM39 69h1v1h-1z"/><path fill="#56147d" d="M31 60h1v1h-1zM36 62h1v1h-1zM37 63h1v1h-1zM39 68h1v1h-1z"/><path fill="#57157e" d="M0 59h23v1h-23zM32 60h1v1h-1zM39 67h1v1h-1zM40 77h1v23h-1z"/><path fill="#59157e" d="M23 59h3v1h-3zM35 61h1v1h-1zM38 64h1v1h-1zM40 74h1v3h-1z"/><path fill="#5a167e" d="M26 59h2v1h-2zM33 60h1v1h-1zM39 66h1v1h-1zM40 72h1v2h-1z"/><path fill="#5c167f" d="M28 59h2v1h-2zM34 60h1v1h-1zM36 61h1v1h-1zM37 62h1v1h-1zM38 63h1v1h-1zM39 65h1v1h-1zM40 70h1v2h-1z"/><path fill="#5d177f" d="M30 59h1v1h-1zM40 69h1v1h-1z"/><path fill="#5f187f" d="M31 59h1v1h-1zM40 68h1v1h-1z"/><path fill="#601880" d="M32 59h1v1h-1zM35 60h1v1h-1zM39 64h1v1h-1zM40 67h1v1h-1z"/><path fill="#621980" d="M0 58h20v1h-20zM37 61h1v1h-1zM38 62h1v1h-1zM41 80h1v20h-1z"/><path fill="#641a80" d="M20 58h5v1h-5zM33 59h1v1h-1zM36 60h1v1h-1zM39 63h1v1h-1zM40 66h1v1h-1zM41 75h1v5h-1z"/><path fill="#651a80" d="M25 58h3v1h-3zM34 59h1v1h-1zM40 65h1v1h-1zM41 72h1v3h-1z"/><path fill="#671b80" d="M28 58h2v1h-2zM38 61h1v1h-1zM41 70h1v2h-1z"/><path fill="#681c81" d="M30 58h1v1h-1zM35 59h1v1h-1zM37 60h1v1h-1zM39 62h1v1h-1zM40 64h1v1h-1zM41 69h1v1h-1z"/><path fill="#6a1c81" d="M31 58h1v1h-1zM41 68h1v1h-1z"/><path fill="#6b1d81" d="M32 58h1v1h-1zM41 67h1v1h-1z"/><path fill="#6d1d81" d="M33 58h1v1h-1zM36 59h1v1h-1zM40 63h1v1h-1zM41 66h1v1h-1z"/><path fill="#6e1e81" d="M0 57h18v1h-18zM38 60h1v1h-1zM39 61h1v1h-1zM42 82h1v18h-1z"/><path fill="#701f81" d="M18 57h7v1h-7zM34 58h1v1h-1zM41 65h1v1h-1zM42 75h1v7h-1z"/><path fill="#721f81" d="M25 57h3v1h-3zM37 59h1v1h-1zM40 62h1v1h-1zM42 72h1v3h-1z"/><path fill="#732081" d="M28 57h2v1h-2zM35 58h1v1h-1zM41 64h1v1h-1zM42 70h1v2h-1z"/><path fill="#752181" d="M30 57h1v1h-1zM39 60h1v1h-1zM42 69h1v1h-1z"/><path fill="#762181" d="M31 57h1v1h-1zM36 58h1v1h-1zM38 59h1v1h-1zM40 61h1v1h-1zM41 63h1v1h-1zM42 68h1v1h-1z"/><path fill="#782281" d="M32 57h1v1h-1zM42 67h1v1h-1z"/><path fill="#792282" d="M33 57h1v1h-1zM42 66h1v1h-1z"/><path fill="#7b2382" d="M34 57h1v1h-1zM37 58h1v1h-1zM41 62h1v1h-1zM42 65h1v1h-1z"/><path fill="#7c2382" d="M0 56h17v1h-17zM39 59h1v1h-1zM40 60h1v1h-1zM43 83h1v17h-1z"/><path fill="#7e2482" d="M17 56h8v1h-8zM35 57h1v1h-1zM42 64h1v1h-1zM43 75h1v8h-1z"/><path fill="#802582" d="M25 56h3v1h-3zM38 58h1v1h-1zM41 61h1v1h-1zM43 72h1v3h-1z"/><path fill="#812581" d="M28 56h2v1h-2zM36 57h1v1h-1zM42 63h1v1h-1zM43 70h1v2h-1z"/><path fill="#832681" d="M30 56h2v1h-2zM40 59h1v1h-1zM43 68h1v2h-1z"/><path fill="#842681" d="M32 56h1v1h-1zM39 58h1v1h-1zM41 60h1v1h-1zM43 67h1v1h-1z"/><path fill="#862781" d="M33 56h1v1h-1zM37 57h1v1h-1zM42 62h1v1h-1zM43 66h1v1h-1z"/><path fill="#892881" d="M34 56h1v1h-1zM38 57h1v1h-1zM42 61h1v1h-1zM43 65h1v1h-1z"/><path fill="#8b2981" d="M35 56h1v1h-1zM43 64h1v1h-1z"/><path fill="#8c2981" d="M0 55h16v1h-16zM40 58h1v1h-1zM41 59h1v1h-1zM44 84h1v16h-1z"/><path fill="#8e2a81" d="M16 55h10v1h-10zM36 56h1v1h-1zM43 63h1v1h-1zM44 74h1v10h-1z"/><path fill="#902a81" d="M26 55h3v1h-3zM39 57h1v1h-1zM42 60h1v1h-1zM44 71h1v3h-1z"/><path fill="#912b81" d="M29 55h2v1h-2zM37 56h1v1h-1zM43 62h1v1h-1zM44 69h1v2h-1z"/><path fill="#932b80" d="M31 55h1v1h-1zM44 68h1v1h-1z"/><path fill="#942c80" d="M32 55h1v1h-1zM41 58h1v1h-1zM44 67h1v1h-1z"/><path fill="#962c80" d="M33 55h1v1h-1zM38 56h1v1h-1zM40 57h1v1h-1zM42 59h1v1h-1zM43 61h1v1h-1zM44 66h1v1h-1z"/><path fill="#982d80" d="M34 55h1v1h-1zM44 65h1v1h-1z"/><path fill="#992d80" d="M35 55h1v1h-1zM44 64h1v1h-1z"/><path fill="#9b2e7f" d="M39 56h1v1h-1zM43 60h1v1h-1z"/><path fill="#9c2e7f" d="M36 55h1v1h-1zM44 63h1v1h-1z"/><path fill="#9e2f7f" d="M0 54h11v1h-11zM41 57h1v1h-1zM42 58h1v1h-1zM45 89h1v11h-1z"/><path fill="#a02f7f" d="M11 54h15v1h-15zM37 55h1v1h-1zM44 62h1v1h-1zM45 74h1v15h-1z"/><path fill="#a1307e" d="M26 54h3v1h-3zM40 56h1v1h-1zM43 59h1v1h-1zM45 71h1v3h-1z"/><path fill="#a3307e" d="M29 54h2v1h-2zM45 69h1v2h-1z"/><path fill="#a5317e" d="M31 54h1v1h-1zM38 55h1v1h-1zM44 61h1v1h-1zM45 68h1v1h-1z"/><path fill="#a6317d" d="M32 54h2v1h-2zM45 66h1v2h-1z"/><path fill="#a8327d" d="M42 57h1v1h-1z"/><path fill="#aa337d" d="M34 54h1v1h-1zM39 55h1v1h-1zM41 56h1v1h-1zM43 58h1v1h-1zM44 60h1v1h-1zM45 65h1v1h-1z"/><path fill="#ab337c" d="M35 54h1v1h-1zM45 64h1v1h-1z"/><path fill="#ad347c" d="M36 54h1v1h-1zM45 63h1v1h-1z"/><path fill="#ae347b" d="M40 55h1v1h-1zM44 59h1v1h-1z"/><path fill="#b0357b" d="M37 54h1v1h-1zM45 62h1v1h-1z"/><path fill="#b2357b" d="M42 56h1v1h-1zM43 57h1v1h-1z"/><path fill="#b3367a" d="M0 53h25v1h-25zM46 75h1v25h-1z"/><path fill="#b5367a" d="M25 53h4v1h-4zM38 54h1v1h-1zM45 61h1v1h-1zM46 71h1v4h-1z"/><path fill="#b73779" d="M29 53h2v1h-2zM41 55h1v1h-1zM44 58h1v1h-1zM46 69h1v2h-1z"/><path fill="#b83779" d="M31 53h2v1h-2zM46 67h1v2h-1z"/><path fill="#ba3878" d="M33 53h1v1h-1zM39 54h1v1h-1zM45 60h1v1h-1zM46 66h1v1h-1z"/><path fill="#bc3978" d="M34 53h1v1h-1zM43 56h1v1h-1zM46 65h1v1h-1z"/><path fill="#bd3977" d="M35 53h1v1h-1zM46 64h1v1h-1z"/><path fill="#bf3a77" d="M40 54h1v1h-1zM42 55h1v1h-1zM44 57h1v1h-1zM45 59h1v1h-1z"/><path fill="#c03a76" d="M36 53h1v1h-1zM46 63h1v1h-1z"/><path fill="#c43c75" d="M37 53h1v1h-1zM46 62h1v1h-1z"/><path fill="#c53c74" d="M41 54h1v1h-1zM45 58h1v1h-1z"/><path fill="#c73d73" d="M38 53h1v1h-1zM46 61h1v1h-1z"/><path fill="#c83e73" d="M0 52h17v1h-17zM43 55h1v1h-1zM44 56h1v1h-1zM47 83h1v17h-1z"/><path fill="#ca3e72" d="M17 52h10v1h-10zM39 53h1v1h-1zM46 60h1v1h-1zM47 73h1v10h-1z"/><path fill="#cc3f71" d="M27 52h3v1h-3zM47 70h1v3h-1z"/><path fill="#cd4071" d="M30 52h2v1h-2zM42 54h1v1h-1zM45 57h1v1h-1zM47 68h1v2h-1z"/><path fill="#cf4070" d="M32 52h2v1h-2zM47 66h1v2h-1z"/><path fill="#d0416f" d="M34 52h1v1h-1zM40 53h1v1h-1zM46 59h1v1h-1zM47 65h1v1h-1z"/><path fill="#d2426f" d="M35 52h1v1h-1zM47 64h1v1h-1z"/><path fill="#d3436e" d="M44 55h1v1h-1z"/><path fill="#d5446d" d="M36 52h1v1h-1zM41 53h1v1h-1zM43 54h1v1h-1zM45 56h1v1h-1zM46 58h1v1h-1zM47 63h1v1h-1z"/><path fill="#d6456c" d="M37 52h1v1h-1zM47 62h1v1h-1z"/><path fill="#d9466b" d="M38 52h1v1h-1zM47 61h1v1h-1z"/><path fill="#dc4869" d="M42 53h1v1h-1zM46 57h1v1h-1z"/><path fill="#de4968" d="M39 52h1v1h-1zM47 60h1v1h-1z"/><path fill="#df4a68" d="M0 51h16v1h-16zM44 54h1v1h-1zM45 55h1v1h-1zM48 84h1v16h-1z"/><path fill="#e04c67" d="M16 51h11v1h-11zM48 73h1v11h-1z"/><path fill="#e24d66" d="M27 51h4v1h-4zM40 52h1v1h-1zM47 59h1v1h-1zM48 69h1v4h-1z"/><path fill="#e34e65" d="M31 51h2v1h-2zM43 53h1v1h-1zM46 56h1v1h-1zM48 67h1v2h-1z"/><path fill="#e44f64" d="M33 51h1v1h-1zM48 66h1v1h-1z"/><path fill="#e55064" d="M34 51h1v1h-1zM41 52h1v1h-1zM47 58h1v1h-1zM48 65h1v1h-1z"/><path fill="#e75263" d="M35 51h1v1h-1zM48 64h1v1h-1z"/><path fill="#e85362" d="M36 51h1v1h-1zM45 54h1v1h-1zM48 63h1v1h-1z"/><path fill="#ea5661" d="M37 51h1v1h-1zM42 52h1v1h-1zM44 53h1v1h-1zM46 55h1v1h-1zM47 57h1v1h-1zM48 62h1v1h-1z"/><path fill="#eb5760" d="M38 51h1v1h-1zM48 61h1v1h-1z"/><path fill="#ee5b5e" d="M39 51h1v1h-1zM48 60h1v1h-1z"/><path fill="#ef5d5e" d="M43 52h1v1h-1zM47 56h1v1h-1z"/><path fill="#f05f5e" d="M40 51h1v1h-1zM48 59h1v1h-1z"/><path fill="#f1605d" d="M45 53h1v1h-1zM46 54h1v1h-1z"/><path fill="#f2625d" d="M0 50h24v1h-24zM49 76h1v24h-1z"/><path fill="#f2645c" d="M24 50h5v1h-5zM41 51h1v1h-1zM48 58h1v1h-1zM49 71h1v5h-1z"/><path fill="#f3655c" d="M29 50h3v1h-3zM49 68h1v3h-1z"/><path fill="#f4675c" d="M32 50h2v1h-2zM44 52h1v1h-1zM47 55h1v1h-1zM49 66h1v2h-1z"/><path fill="#f4695c" d="M34 50h1v1h-1zM49 65h1v1h-1z"/><path fill="#f56b5c" d="M35 50h1v1h-1zM42 51h1v1h-1zM48 57h1v1h-1zM49 64h1v1h-1z"/><path fill="#f66c5c" d="M36 50h1v1h-1zM49 63h1v1h-1z"/><path fill="#f7705c" d="M37 50h1v1h-1zM46 53h1v1h-1zM49 62h1v1h-1z"/><path fill="#f7725c" d="M0 0h24v50h-24zM38 50h1v1h-1zM49 61h1v1h-1zM50 76h50v24h-50z"/><path fill="#f8745c" d="M24 0h6v50h-6zM43 51h1v1h-1zM45 52h1v1h-1zM47 54h1v1h-1zM48 56h1v1h-1zM50 70h50v6h-50z"/><path fill="#f8765c" d="M30 0h2v50h-2zM39 50h1v1h-1zM49 60h1v1h-1zM50 68h50v2h-50z"/><path fill="#f9785d" d="M32 0h2v50h-2zM50 66h50v2h-50z"/><path fill="#f9795d" d="M34 0h1v50h-1zM50 65h50v1h-50z"/><path fill="#f97b5d" d="M35 0h1v50h-1zM40 50h1v1h-1zM49 59h1v1h-1zM50 64h50v1h-50z"/><path fill="#fa7d5e" d="M36 0h1v50h-1zM44 51h1v1h-1zM48 55h1v1h-1zM50 63h50v1h-50z"/><path fill="#fa7f5e" d="M37 0h1v50h-1zM41 50h1v1h-1zM49 58h1v1h-1zM50 62h50v1h-50z"/><path fill="#fb835f" d="M38 0h1v50h-1zM46 52h1v1h-1zM47 53h1v1h-1zM50 61h50v1h-50z"/><path fill="#fb8761" d="M39 0h1v50h-1zM42 50h1v1h-1zM49 57h1v1h-1zM50 60h50v1h-50z"/><path fill="#fc8961" d="M45 51h1v1h-1zM48 54h1v1h-1z"/><path fill="#fc8a62" d="M40 0h1v50h-1zM50 59h50v1h-50z"/><path fill="#fc8e64" d="M43 50h1v1h-1zM49 56h1v1h-1z"/><path fill="#fc9065" d="M41 0h1v50h-1zM50 58h50v1h-50z"/><path fill="#fd9467" d="M47 52h1v1h-1z"/><path fill="#fd9668" d="M42 0h1v50h-1zM50 57h50v1h-50z"/><path fill="#fd9869" d="M44 50h1v1h-1zM46 51h1v1h-1zM48 53h1v1h-1zM49 55h1v1h-1z"/><path fill="#fe9d6c" d="M43 0h1v50h-1zM50 56h50v1h-50z"/><path fill="#fea36f" d="M45 50h1v1h-1zM49 54h1v1h-1z"/><path fill="#fea772" d="M44 0h1v50h-1zM50 55h50v1h-50z"/><path fill="#fea973" d="M47 51h1v1h-1zM48 52h1v1h-1z"/><path fill="#feb078" d="M46 50h1v1h-1zM49 53h1v1h-1z"/><path fill="#feb27a" d="M45 0h1v50h-1zM50 54h50v1h-50z"/><path fill="#febb81" d="M48 51h1v1h-1z"/><path fill="#febd82" d="M46 0h1v50h-1zM50 53h50v1h-50z"/><path fill="#fec185" d="M47 50h1v1h-1zM49 52h1v1h-1z"/><path fill="#fecd90" d="M47 0h1v50h-1zM50 52h50v1h-50z"/><path fill="#fed194" d="M48 50h1v1h-1zM49 51h1v1h-1z"/><path fill="#fddea0" d="M48 0h1v50h-1zM50 51h50v1h-50z"/><path fill="#fde7a9" d="M49 50h1v1h-1z"/><path fill="#fcf2b4" d="M49 0h1v50h-1zM50 50h50v1h-50z"/><path fill="#fcfdbf" d="M50 0h50v50h-50z"/></g>
</g>
<g id="matplotlib.axis_3">
<g id="xtick_18">
<g id="line2d_43">
<path d="M 651.240 538.920 L 651.240 145.080" clip-path="url(#p050f5b1863)" style="fill: none; stroke: #cccccc; stroke-linecap: round"/>
</g>
<g id="text_28" transform="translate(.5 2.45)">
<text style="font-size: 11.5px; text-anchor: middle; fill: #262626" x="650.836" y="556.274">−4</text>
</g>
</g>
<g id="xtick_19">
<g id="line2d_44">
<path d="M 759.240 538.920 L 759.240 145.080" clip-path="url(#p050f5b1863)" style="fill: none; stroke: #cccccc; stroke-linecap: round"/>
</g>
<g id="text_29" transform="translate(.5 2.45)">
<text style="font-size: 11.5px; text-anchor: middle; fill: #262626" x="758.678" y="556.274">−2</text>
</g>
</g>
<g id="xtick_20">
<g id="line2d_45">
<path d="M 867.240 538.920 L 867.240 145.080" clip-path="url(#p050f5b1863)" style="fill: none; stroke: #cccccc; stroke-linecap: round"/>
</g>
<g id="text_30" transform="translate(.5 2.45)">
<text style="font-size: 11.5px; text-anchor: middle; fill: #262626" x="866.52" y="556.274">0</text>
</g>
</g>
<g id="xtick_21">
<g id="line2d_46">
<path d="M 974.520 538.920 L 974.520 145.080" clip-path="url(#p050f5b1863)" style="fill: none; stroke: #cccccc; stroke-linecap: round"/>
</g>
<g id="text_31" transform="translate(.5 2.45)">
<text style="font-size: 11.5px; text-anchor: middle; fill: #262626" x="974.361" y="556.274">2</text>
</g>
</g>
<g id="xtick_22">
<g id="line2d_47">
<path d="M 1082.520 538.920 L 1082.520 145.080" clip-path="url(#p050f5b1863)" style="fill: none; stroke: #cccccc; stroke-linecap: round"/>
</g>
<g id="text_32" transform="translate(.5 2.45)">
<text style="font-size: 11.5px; text-anchor: middle; fill: #262626" x="1082.203" y="556.274">4</text>
</g>
</g>
<g id="text_33" transform="translate(.43 2.88)">
<text style="font-size: 14px; text-anchor: middle; fill: #262626" x="866.52" y="573.199">Input X</text>
</g>
</g>
<g id="matplotlib.axis_4">
<g id="ytick_6">
<g id="line2d_48">
<path d="M 597.240 499.320 L 1136.520 499.320" clip-path="url(#p050f5b1863)" style="fill: none; stroke: #cccccc; stroke-linecap: round"/>
</g>
<g id="text_34" transform="translate(.07 1.08)">
<text style="font-size: 11.5px; text-anchor: end; fill: #262626" x="587.416" y="503.225">−4</text>
</g>
</g>
<g id="ytick_7">
<g id="line2d_49">
<path d="M 597.240 420.840 L 1136.520 420.840" clip-path="url(#p050f5b1863)" style="fill: none; stroke: #cccccc; stroke-linecap: round"/>
</g>
<g id="text_35" transform="translate(.07 1.08)">
<text style="font-size: 11.5px; text-anchor: end; fill: #262626" x="587.416" y="424.486">−2</text>
</g>
</g>
<g id="ytick_8">
<g id="line2d_50">
<path d="M 597.240 341.640 L 1136.520 341.640" clip-path="url(#p050f5b1863)" style="fill: none; stroke: #cccccc; stroke-linecap: round"/>
</g>
<g id="text_36" transform="translate(.07 1.08)">
<text style="font-size: 11.5px; text-anchor: end; fill: #262626" x="587.416" y="345.747">0</text>
</g>
</g>
<g id="ytick_9">
<g id="line2d_51">
<path d="M 597.240 263.160 L 1136.520 263.160" clip-path="url(#p050f5b1863)" style="fill: none; stroke: #cccccc; stroke-linecap: round"/>
</g>
<g id="text_37" transform="translate(.07 1.08)">
<text style="font-size: 11.5px; text-anchor: end; fill: #262626" x="587.416" y="267.007">2</text>
</g>
</g>
<g id="ytick_10">
<g id="line2d_52">
<path d="M 597.240 184.680 L 1136.520 184.680" clip-path="url(#p050f5b1863)" style="fill: none; stroke: #cccccc; stroke-linecap: round"/>
</g>
<g id="text_38" transform="translate(.07 1.08)">
<text style="font-size: 11.5px; text-anchor: end; fill: #262626" x="587.416" y="188.268">4</text>
</g>
</g>
<g id="text_39" transform="translate(-2.16 1.22)">
<text style="font-size: 14px; text-anchor: middle; fill: #262626" x="564.288" y="341.568" transform="rotate(-90 564.288 341.568)">Input Y</text>
</g>
</g>
<g id="patch_9">
<path d="M 596.880 538.560 L 596.880 144.720" style="fill: none; stroke: #cccccc; stroke-width: 1.25; stroke-linejoin: miter; stroke-linecap: square"/>
</g>
<g id="patch_10">
<path d="M 1136.160 538.560 L 1136.160 144.720" style="fill: none; stroke: #cccccc; stroke-width: 1.25; stroke-linejoin: miter; stroke-linecap: square"/>
</g>
<g id="patch_11">
<path d="M 596.880 538.560 L 1136.160 538.560" style="fill: none; stroke: #cccccc; stroke-width: 1.25; stroke-linejoin: miter; stroke-linecap: square"/>
</g>
<g id="patch_12">
<path d="M 596.880 144.720 L 1136.160 144.720" style="fill: none; stroke: #cccccc; stroke-width: 1.25; stroke-linejoin: miter; stroke-linecap: square"/>
</g>
<g id="text_40" transform="translate(.36 0)">
<text style="font-size: 16px; text-anchor: middle; fill: #262626" x="866.52" y="124.72">TeLU Gradient Magnitude</text>
</g>
</g>
<g id="axes_4">
<g id="patch_13">
<path d="M 1170 538.416 L 1189.332 538.416 L 1189.332 144.72 L 1170 144.72 z
" style="fill: #ffffff"/>
</g>
<g id="matplotlib.axis_5"/>
<g id="matplotlib.axis_6">
<g id="ytick_11">
<g id="line2d_53">
<g>
<use href="#mba989f57bf" x="1189.332" y="485.031" style="fill: #262626; stroke: #262626; stroke-width: 1.25"/>
</g>
</g>
<g id="text_41" transform="translate(1.51 .72)">
<text style="font-size: 11.5px; text-anchor: start; fill: #262626" x="1198.832" y="489.211">0.2</text>
</g>
</g>
<g id="ytick_12">
<g id="line2d_54">
<g>
<use href="#mba989f57bf" x="1189.332" y="428.977" style="fill: #262626; stroke: #262626; stroke-width: 1.25"/>
</g>
</g>
<g id="text_42" transform="translate(1.51 .72)">
<text style="font-size: 11.5px; text-anchor: start; fill: #262626" x="1198.832" y="433.156">0.4</text>
</g>
</g>
<g id="ytick_13">
<g id="line2d_55">
<g>
<use href="#mba989f57bf" x="1189.332" y="372.922" style="fill: #262626; stroke: #262626; stroke-width: 1.25"/>
</g>
</g>
<g id="text_43" transform="translate(1.51 .72)">
<text style="font-size: 11.5px; text-anchor: start; fill: #262626" x="1198.832" y="377.101">0.6</text>
</g>
</g>
<g id="ytick_14">
<g id="line2d_56">
<g>
<use href="#mba989f57bf" x="1189.332" y="316.867" style="fill: #262626; stroke: #262626; stroke-width: 1.25"/>
</g>
</g>
<g id="text_44" transform="translate(1.51 .72)">
<text style="font-size: 11.5px; text-anchor: start; fill: #262626" x="1198.832" y="321.046">0.8</text>
</g>
</g>
<g id="ytick_15">
<g id="line2d_57">
<g>
<use href="#mba989f57bf" x="1189.332" y="260.813" style="fill: #262626; stroke: #262626; stroke-width: 1.25"/>
</g>
</g>
<g id="text_45" transform="translate(1.51 .72)">
<text style="font-size: 11.5px; text-anchor: start; fill: #262626" x="1198.832" y="264.992">1.0</text>
</g>
</g>
<g id="ytick_16">
<g id="line2d_58">
<g>
<use href="#mba989f57bf" x="1189.332" y="204.758" style="fill: #262626; stroke: #262626; stroke-width: 1.25"/>
</g>
</g>
<g id="text_46" transform="translate(1.51 .72)">
<text style="font-size: 11.5px; text-anchor: start; fill: #262626" x="1198.832" y="208.937">1.2</text>
</g>
</g>
<g id="ytick_17">
<g id="line2d_59">
<g>
<use href="#mba989f57bf" x="1189.332" y="148.703" style="fill: #262626; stroke: #262626; stroke-width: 1.25"/>
</g>
</g>
<g id="text_47" transform="translate(1.51 .72)">
<text style="font-size: 11.5px; text-anchor: start; fill: #262626" x="1198.832" y="152.882">1.4</text>
</g>
</g>
<g id="text_48" transform="translate(2.81 1.22)">
<text style="font-size: 14px; text-anchor: middle; fill: #262626" x="1220.687" y="341.568" transform="rotate(-270 1220.687 341.568)">Gradient Magnitude</text>
</g>
</g>
<g shape-rendering="crispEdges" transform="translate(1170 144.72) scale(19.440 1.538)"><path fill="#000004" d="M0 255h1v1h-1z"/><path fill="#010005" d="M0 254h1v1h-1z"/><path fill="#010106" d="M0 253h1v1h-1z"/><path fill="#010108" d="M0 252h1v1h-1z"/><path fill="#020109" d="M0 251h1v1h-1z"/><path fill="#02020b" d="M0 250h1v1h-1z"/><path fill="#02020d" d="M0 249h1v1h-1z"/><path fill="#03030f" d="M0 248h1v1h-1z"/><path fill="#030312" d="M0 247h1v1h-1z"/><path fill="#040414" d="M0 246h1v1h-1z"/><path fill="#050416" d="M0 245h1v1h-1z"/><path fill="#060518" d="M0 244h1v1h-1z"/><path fill="#06051a" d="M0 243h1v1h-1z"/><path fill="#07061c" d="M0 242h1v1h-1z"/><path fill="#08071e" d="M0 241h1v1h-1z"/><path fill="#090720" d="M0 240h1v1h-1z"/><path fill="#0a0822" d="M0 239h1v1h-1z"/><path fill="#0b0924" d="M0 238h1v1h-1z"/><path fill="#0c0926" d="M0 237h1v1h-1z"/><path fill="#0d0a29" d="M0 236h1v1h-1z"/><path fill="#0e0b2b" d="M0 235h1v1h-1z"/><path fill="#100b2d" d="M0 234h1v1h-1z"/><path fill="#110c2f" d="M0 233h1v1h-1z"/><path fill="#120d31" d="M0 232h1v1h-1z"/><path fill="#130d34" d="M0 231h1v1h-1z"/><path fill="#140e36" d="M0 230h1v1h-1z"/><path fill="#150e38" d="M0 229h1v1h-1z"/><path fill="#160f3b" d="M0 228h1v1h-1z"/><path fill="#180f3d" d="M0 227h1v1h-1z"/><path fill="#19103f" d="M0 226h1v1h-1z"/><path fill="#1a1042" d="M0 225h1v1h-1z"/><path fill="#1c1044" d="M0 224h1v1h-1z"/><path fill="#1d1147" d="M0 223h1v1h-1z"/><path fill="#1e1149" d="M0 222h1v1h-1z"/><path fill="#20114b" d="M0 221h1v1h-1z"/><path fill="#21114e" d="M0 220h1v1h-1z"/><path fill="#221150" d="M0 219h1v1h-1z"/><path fill="#241253" d="M0 218h1v1h-1z"/><path fill="#251255" d="M0 217h1v1h-1z"/><path fill="#271258" d="M0 216h1v1h-1z"/><path fill="#29115a" d="M0 215h1v1h-1z"/><path fill="#2a115c" d="M0 214h1v1h-1z"/><path fill="#2c115f" d="M0 213h1v1h-1z"/><path fill="#2d1161" d="M0 212h1v1h-1z"/><path fill="#2f1163" d="M0 211h1v1h-1z"/><path fill="#311165" d="M0 210h1v1h-1z"/><path fill="#331067" d="M0 209h1v1h-1z"/><path fill="#341069" d="M0 208h1v1h-1z"/><path fill="#36106b" d="M0 207h1v1h-1z"/><path fill="#38106c" d="M0 206h1v1h-1z"/><path fill="#390f6e" d="M0 205h1v1h-1z"/><path fill="#3b0f70" d="M0 204h1v1h-1z"/><path fill="#3d0f71" d="M0 203h1v1h-1z"/><path fill="#3f0f72" d="M0 202h1v1h-1z"/><path fill="#400f74" d="M0 201h1v1h-1z"/><path fill="#420f75" d="M0 200h1v1h-1z"/><path fill="#440f76" d="M0 199h1v1h-1z"/><path fill="#451077" d="M0 198h1v1h-1z"/><path fill="#471078" d="M0 197h1v1h-1z"/><path fill="#491078" d="M0 196h1v1h-1z"/><path fill="#4a1079" d="M0 195h1v1h-1z"/><path fill="#4c117a" d="M0 194h1v1h-1z"/><path fill="#4e117b" d="M0 193h1v1h-1z"/><path fill="#4f127b" d="M0 192h1v1h-1z"/><path fill="#51127c" d="M0 191h1v1h-1z"/><path fill="#52137c" d="M0 190h1v1h-1z"/><path fill="#54137d" d="M0 189h1v1h-1z"/><path fill="#56147d" d="M0 188h1v1h-1z"/><path fill="#57157e" d="M0 187h1v1h-1z"/><path fill="#59157e" d="M0 186h1v1h-1z"/><path fill="#5a167e" d="M0 185h1v1h-1z"/><path fill="#5c167f" d="M0 184h1v1h-1z"/><path fill="#5d177f" d="M0 183h1v1h-1z"/><path fill="#5f187f" d="M0 182h1v1h-1z"/><path fill="#601880" d="M0 181h1v1h-1z"/><path fill="#621980" d="M0 180h1v1h-1z"/><path fill="#641a80" d="M0 179h1v1h-1z"/><path fill="#651a80" d="M0 178h1v1h-1z"/><path fill="#671b80" d="M0 177h1v1h-1z"/><path fill="#681c81" d="M0 176h1v1h-1z"/><path fill="#6a1c81" d="M0 175h1v1h-1z"/><path fill="#6b1d81" d="M0 174h1v1h-1z"/><path fill="#6d1d81" d="M0 173h1v1h-1z"/><path fill="#6e1e81" d="M0 172h1v1h-1z"/><path fill="#701f81" d="M0 171h1v1h-1z"/><path fill="#721f81" d="M0 170h1v1h-1z"/><path fill="#732081" d="M0 169h1v1h-1z"/><path fill="#752181" d="M0 168h1v1h-1z"/><path fill="#762181" d="M0 167h1v1h-1z"/><path fill="#782281" d="M0 166h1v1h-1z"/><path fill="#792282" d="M0 165h1v1h-1z"/><path fill="#7b2382" d="M0 164h1v1h-1z"/><path fill="#7c2382" d="M0 163h1v1h-1z"/><path fill="#7e2482" d="M0 162h1v1h-1z"/><path fill="#802582" d="M0 161h1v1h-1z"/><path fill="#812581" d="M0 160h1v1h-1z"/><path fill="#832681" d="M0 159h1v1h-1z"/><path fill="#842681" d="M0 158h1v1h-1z"/><path fill="#862781" d="M0 157h1v1h-1z"/><path fill="#882781" d="M0 156h1v1h-1z"/><path fill="#892881" d="M0 155h1v1h-1z"/><path fill="#8b2981" d="M0 154h1v1h-1z"/><path fill="#8c2981" d="M0 153h1v1h-1z"/><path fill="#8e2a81" d="M0 152h1v1h-1z"/><path fill="#902a81" d="M0 151h1v1h-1z"/><path fill="#912b81" d="M0 150h1v1h-1z"/><path fill="#932b80" d="M0 149h1v1h-1z"/><path fill="#942c80" d="M0 148h1v1h-1z"/><path fill="#962c80" d="M0 147h1v1h-1z"/><path fill="#982d80" d="M0 146h1v1h-1z"/><path fill="#992d80" d="M0 145h1v1h-1z"/><path fill="#9b2e7f" d="M0 144h1v1h-1z"/><path fill="#9c2e7f" d="M0 143h1v1h-1z"/><path fill="#9e2f7f" d="M0 142h1v1h-1z"/><path fill="#a02f7f" d="M0 141h1v1h-1z"/><path fill="#a1307e" d="M0 140h1v1h-1z"/><path fill="#a3307e" d="M0 139h1v1h-1z"/><path fill="#a5317e" d="M0 138h1v1h-1z"/><path fill="#a6317d" d="M0 137h1v1h-1z"/><path fill="#a8327d" d="M0 136h1v1h-1z"/><path fill="#aa337d" d="M0 135h1v1h-1z"/><path fill="#ab337c" d="M0 134h1v1h-1z"/><path fill="#ad347c" d="M0 133h1v1h-1z"/><path fill="#ae347b" d="M0 132h1v1h-1z"/><path fill="#b0357b" d="M0 131h1v1h-1z"/><path fill="#b2357b" d="M0 130h1v1h-1z"/><path fill="#b3367a" d="M0 129h1v1h-1z"/><path fill="#b5367a" d="M0 128h1v1h-1z"/><path fill="#b73779" d="M0 127h1v1h-1z"/><path fill="#b83779" d="M0 126h1v1h-1z"/><path fill="#ba3878" d="M0 125h1v1h-1z"/><path fill="#bc3978" d="M0 124h1v1h-1z"/><path fill="#bd3977" d="M0 123h1v1h-1z"/><path fill="#bf3a77" d="M0 122h1v1h-1z"/><path fill="#c03a76" d="M0 121h1v1h-1z"/><path fill="#c23b75" d="M0 120h1v1h-1z"/><path fill="#c43c75" d="M0 119h1v1h-1z"/><path fill="#c53c74" d="M0 118h1v1h-1z"/><path fill="#c73d73" d="M0 117h1v1h-1z"/><path fill="#c83e73" d="M0 116h1v1h-1z"/><path fill="#ca3e72" d="M0 115h1v1h-1z"/><path fill="#cc3f71" d="M0 114h1v1h-1z"/><path fill="#cd4071" d="M0 113h1v1h-1z"/><path fill="#cf4070" d="M0 112h1v1h-1z"/><path fill="#d0416f" d="M0 111h1v1h-1z"/><path fill="#d2426f" d="M0 110h1v1h-1z"/><path fill="#d3436e" d="M0 109h1v1h-1z"/><path fill="#d5446d" d="M0 108h1v1h-1z"/><path fill="#d6456c" d="M0 107h1v1h-1z"/><path fill="#d8456c" d="M0 106h1v1h-1z"/><path fill="#d9466b" d="M0 105h1v1h-1z"/><path fill="#db476a" d="M0 104h1v1h-1z"/><path fill="#dc4869" d="M0 103h1v1h-1z"/><path fill="#de4968" d="M0 102h1v1h-1z"/><path fill="#df4a68" d="M0 101h1v1h-1z"/><path fill="#e04c67" d="M0 100h1v1h-1z"/><path fill="#e24d66" d="M0 99h1v1h-1z"/><path fill="#e34e65" d="M0 98h1v1h-1z"/><path fill="#e44f64" d="M0 97h1v1h-1z"/><path fill="#e55064" d="M0 96h1v1h-1z"/><path fill="#e75263" d="M0 95h1v1h-1z"/><path fill="#e85362" d="M0 94h1v1h-1z"/><path fill="#e95462" d="M0 93h1v1h-1z"/><path fill="#ea5661" d="M0 92h1v1h-1z"/><path fill="#eb5760" d="M0 91h1v1h-1z"/><path fill="#ec5860" d="M0 90h1v1h-1z"/><path fill="#ed5a5f" d="M0 89h1v1h-1z"/><path fill="#ee5b5e" d="M0 88h1v1h-1z"/><path fill="#ef5d5e" d="M0 87h1v1h-1z"/><path fill="#f05f5e" d="M0 86h1v1h-1z"/><path fill="#f1605d" d="M0 85h1v1h-1z"/><path fill="#f2625d" d="M0 84h1v1h-1z"/><path fill="#f2645c" d="M0 83h1v1h-1z"/><path fill="#f3655c" d="M0 82h1v1h-1z"/><path fill="#f4675c" d="M0 81h1v1h-1z"/><path fill="#f4695c" d="M0 80h1v1h-1z"/><path fill="#f56b5c" d="M0 79h1v1h-1z"/><path fill="#f66c5c" d="M0 78h1v1h-1z"/><path fill="#f66e5c" d="M0 77h1v1h-1z"/><path fill="#f7705c" d="M0 76h1v1h-1z"/><path fill="#f7725c" d="M0 75h1v1h-1z"/><path fill="#f8745c" d="M0 74h1v1h-1z"/><path fill="#f8765c" d="M0 73h1v1h-1z"/><path fill="#f9785d" d="M0 72h1v1h-1z"/><path fill="#f9795d" d="M0 71h1v1h-1z"/><path fill="#f97b5d" d="M0 70h1v1h-1z"/><path fill="#fa7d5e" d="M0 69h1v1h-1z"/><path fill="#fa7f5e" d="M0 68h1v1h-1z"/><path fill="#fa815f" d="M0 67h1v1h-1z"/><path fill="#fb835f" d="M0 66h1v1h-1z"/><path fill="#fb8560" d="M0 65h1v1h-1z"/><path fill="#fb8761" d="M0 64h1v1h-1z"/><path fill="#fc8961" d="M0 63h1v1h-1z"/><path fill="#fc8a62" d="M0 62h1v1h-1z"/><path fill="#fc8c63" d="M0 61h1v1h-1z"/><path fill="#fc8e64" d="M0 60h1v1h-1z"/><path fill="#fc9065" d="M0 59h1v1h-1z"/><path fill="#fd9266" d="M0 58h1v1h-1z"/><path fill="#fd9467" d="M0 57h1v1h-1z"/><path fill="#fd9668" d="M0 56h1v1h-1z"/><path fill="#fd9869" d="M0 55h1v1h-1z"/><path fill="#fd9a6a" d="M0 54h1v1h-1z"/><path fill="#fd9b6b" d="M0 53h1v1h-1z"/><path fill="#fe9d6c" d="M0 52h1v1h-1z"/><path fill="#fe9f6d" d="M0 51h1v1h-1z"/><path fill="#fea16e" d="M0 50h1v1h-1z"/><path fill="#fea36f" d="M0 49h1v1h-1z"/><path fill="#fea571" d="M0 48h1v1h-1z"/><path fill="#fea772" d="M0 47h1v1h-1z"/><path fill="#fea973" d="M0 46h1v1h-1z"/><path fill="#feaa74" d="M0 45h1v1h-1z"/><path fill="#feac76" d="M0 44h1v1h-1z"/><path fill="#feae77" d="M0 43h1v1h-1z"/><path fill="#feb078" d="M0 42h1v1h-1z"/><path fill="#feb27a" d="M0 41h1v1h-1z"/><path fill="#feb47b" d="M0 40h1v1h-1z"/><path fill="#feb67c" d="M0 39h1v1h-1z"/><path fill="#feb77e" d="M0 38h1v1h-1z"/><path fill="#feb97f" d="M0 37h1v1h-1z"/><path fill="#febb81" d="M0 36h1v1h-1z"/><path fill="#febd82" d="M0 35h1v1h-1z"/><path fill="#febf84" d="M0 34h1v1h-1z"/><path fill="#fec185" d="M0 33h1v1h-1z"/><path fill="#fec287" d="M0 32h1v1h-1z"/><path fill="#fec488" d="M0 31h1v1h-1z"/><path fill="#fec68a" d="M0 30h1v1h-1z"/><path fill="#fec88c" d="M0 29h1v1h-1z"/><path fill="#feca8d" d="M0 28h1v1h-1z"/><path fill="#fecc8f" d="M0 27h1v1h-1z"/><path fill="#fecd90" d="M0 26h1v1h-1z"/><path fill="#fecf92" d="M0 25h1v1h-1z"/><path fill="#fed194" d="M0 24h1v1h-1z"/><path fill="#fed395" d="M0 23h1v1h-1z"/><path fill="#fed597" d="M0 22h1v1h-1z"/><path fill="#fed799" d="M0 21h1v1h-1z"/><path fill="#fed89a" d="M0 20h1v1h-1z"/><path fill="#fdda9c" d="M0 19h1v1h-1z"/><path fill="#fddc9e" d="M0 18h1v1h-1z"/><path fill="#fddea0" d="M0 17h1v1h-1z"/><path fill="#fde0a1" d="M0 16h1v1h-1z"/><path fill="#fde2a3" d="M0 15h1v1h-1z"/><path fill="#fde3a5" d="M0 14h1v1h-1z"/><path fill="#fde5a7" d="M0 13h1v1h-1z"/><path fill="#fde7a9" d="M0 12h1v1h-1z"/><path fill="#fde9aa" d="M0 11h1v1h-1z"/><path fill="#fdebac" d="M0 10h1v1h-1z"/><path fill="#fcecae" d="M0 9h1v1h-1z"/><path fill="#fceeb0" d="M0 8h1v1h-1z"/><path fill="#fcf0b2" d="M0 7h1v1h-1z"/><path fill="#fcf2b4" d="M0 6h1v1h-1z"/><path fill="#fcf4b6" d="M0 5h1v1h-1z"/><path fill="#fcf6b8" d="M0 4h1v1h-1z"/><path fill="#fcf7b9" d="M0 3h1v1h-1z"/><path fill="#fcf9bb" d="M0 2h1v1h-1z"/><path fill="#fcfbbd" d="M0 1h1v1h-1z"/><path fill="#fcfdbf" d="M0 0h1v1h-1z"/></g>
<g id="LineCollection_2"/>
<g id="patch_14">
<path d="M 1170.000 538.560 L 1179.360 538.560 L 1189.440 538.560 L 1189.440 144.720 L 1179.360 144.720 L 1170.000 144.720 L 1170.000 538.560 z" style="fill: none; stroke: #cccccc; stroke-width: 1.25; stroke-linejoin: miter; stroke-linecap: square"/>
</g>
</g>
<g id="text_49" transform="translate(0 1.37)">
<text style="font-size: 18px; text-anchor: middle; fill: #262626" x="566.64" y="19.366">Analysis of TeLU Activation Function</text>
</g>
</g>
<defs>
<clipPath id="p4d084fb998">
<rect x="6.84" y="144.216" width="394.704" height="394.704"/>
</clipPath>
<clipPath id="p050f5b1863">
<rect x="596.916" y="144.72" width="539.208" height="393.696"/>
</clipPath>
</defs>
</svg>

</body></html>
